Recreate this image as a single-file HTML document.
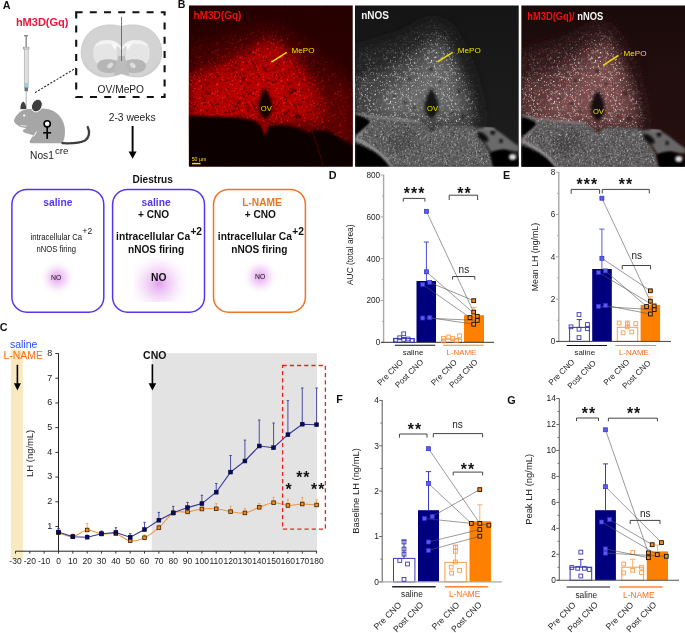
<!DOCTYPE html>
<html><head><meta charset="utf-8"><title>figure</title>
<style>
html,body{margin:0;padding:0;background:#fff;}
body{width:685px;height:633px;overflow:hidden;}
svg{display:block;font-family:"Liberation Sans", sans-serif;will-change:transform;}
</style></head><body>
<svg width="685" height="633" viewBox="0 0 685 633">
<rect x="0" y="0" width="685" height="633" fill="#fff"/>
<defs>
<radialGradient id="glow" cx="50%" cy="50%" r="50%">
  <stop offset="0" stop-color="#dc8fea" stop-opacity="0.85"/>
  <stop offset="0.5" stop-color="#ecbcf3" stop-opacity="0.55"/>
  <stop offset="1" stop-color="#f8e8fb" stop-opacity="0"/>
</radialGradient>
<radialGradient id="glow2" gradientUnits="userSpaceOnUse" cx="158.7" cy="283.5" r="33">
  <stop offset="0" stop-color="#dc8fea" stop-opacity="0.85"/>
  <stop offset="0.45" stop-color="#ecbcf3" stop-opacity="0.5"/>
  <stop offset="0.85" stop-color="#f8e8fb" stop-opacity="0.12"/>
  <stop offset="1" stop-color="#f8e8fb" stop-opacity="0.04"/>
</radialGradient>
<filter id="b3" x="-30%" y="-30%" width="160%" height="160%"><feGaussianBlur stdDeviation="3"/></filter>
<filter id="b5" x="-30%" y="-30%" width="160%" height="160%"><feGaussianBlur stdDeviation="5"/></filter>
<filter id="b8" x="-30%" y="-30%" width="160%" height="160%"><feGaussianBlur stdDeviation="8"/></filter>
<filter id="b1" x="-30%" y="-30%" width="160%" height="160%"><feGaussianBlur stdDeviation="1.2"/></filter>
<filter id="noise" x="0" y="0" width="100%" height="100%">
  <feTurbulence type="fractalNoise" baseFrequency="0.9" numOctaves="2" seed="3" result="t"/>
  <feColorMatrix type="matrix" values="0 0 0 0 1  0 0 0 0 1  0 0 0 0 1  0 0 0 1.6 -0.55" />
</filter>
<filter id="noiseD" x="0" y="0" width="100%" height="100%">
  <feTurbulence type="fractalNoise" baseFrequency="0.8" numOctaves="2" seed="7" result="t"/>
  <feColorMatrix type="matrix" values="0 0 0 0 0  0 0 0 0 0  0 0 0 0 0  0 0 0 1.8 -0.75" />
</filter>
<clipPath id="c1"><rect x="188.8" y="5.3" width="163.9" height="161.4"/></clipPath>
<clipPath id="c2"><rect x="355" y="5.3" width="163.7" height="161.4"/></clipPath>
<clipPath id="c3"><rect x="521.2" y="5.3" width="163.8" height="161.4"/></clipPath>
</defs>
<text x="2.70" y="8.70" font-size="10.8" font-weight="bold" fill="#111" text-anchor="start" >A</text>
<text x="15.90" y="26.30" font-size="11" font-weight="bold" fill="#f2103c" text-anchor="start" >hM3D(Gq)</text>
<rect x="24.00" y="35.00" width="4.00" height="1.40" fill="#8a8a8a" stroke="none" stroke-width="1" />
<line x1="26.20" y1="36.00" x2="26.20" y2="47.40" stroke="#8a8a8a" stroke-width="1.4" />
<rect x="23.60" y="47.20" width="5.40" height="1.90" fill="#e6e6e6" stroke="#9a9a9a" stroke-width="0.7" />
<rect x="24.30" y="49.10" width="3.90" height="38.60" fill="#e4e4e4" stroke="#a8a8a8" stroke-width="0.7" />
<line x1="26.20" y1="52.00" x2="26.20" y2="82.00" stroke="#c8c8c8" stroke-width="0.8" stroke-dasharray="0.6 1.4"/>
<rect x="24.70" y="82.80" width="3.10" height="4.60" fill="#8fd0ea" stroke="none" stroke-width="1" />
<rect x="24.50" y="87.60" width="3.50" height="3.60" fill="#6f6f6f" stroke="none" stroke-width="1" />
<line x1="26.20" y1="91.00" x2="26.20" y2="108.50" stroke="#9a9a9a" stroke-width="0.8" />
<line x1="35.00" y1="92.60" x2="76.00" y2="68.00" stroke="#222" stroke-width="1.1" stroke-dasharray="2 1.6"/>
<rect x="76.20" y="12.20" width="88.40" height="84.80" fill="none" stroke="#111" stroke-width="2.1" stroke-dasharray="7 7.2" stroke-dashoffset="0.6"/>
<g>
<path d="M121.5,26.5 C116,24.5 106,24 98,27 C88,31 82,40 81.2,50.8 C80.8,58 83,64 87,68.5 C92,73.5 98,76.5 104,77 C110,77.4 116,76 121.5,73.8 C127,76 133,77.4 139,77 C145,76.5 151,73.5 156,68.5 C160,64 162.2,58 161.8,50.8 C161,40 155,31 145,27 C137,24 127,24.5 121.5,26.5 Z" fill="#d3d3d3" stroke="#bdbdbd" stroke-width="0.6"/>
<path d="M84.5,62 C88,69 94,73.5 101,75.5" stroke="#c2c2c2" stroke-width="0.6" fill="none"/>
<path d="M158.5,62 C155,69 149,73.5 142,75.5" stroke="#c2c2c2" stroke-width="0.6" fill="none"/>
<path d="M93.2,52.5 C93.2,45 97,41 103,40 C108,39.3 113,40.5 117,43 L117.6,64.5 C113,66.5 105,67 99,65 C95.5,63 93.2,58.5 93.2,52.5 Z" fill="#e5e5e5"/>
<path d="M149.8,52.5 C149.8,45 146,41 140,40 C135,39.3 130,40.5 126,43 L125.4,64.5 C130,66.5 138,67 144,65 C147.5,63 149.8,58.5 149.8,52.5 Z" fill="#e5e5e5"/>
<path d="M95.5,44.8 C101,40.3 109,39.3 114.5,41.3 C118,42.8 120,45.2 121.5,47.4 C123,45.2 125,42.8 128.5,41.3 C134,39.3 142,40.3 147.5,44.8 L147.8,46.4 C142,43.2 134,42.6 129.6,44.6 C126,46.2 123.2,48.6 121.5,50.8 C119.8,48.6 117,46.2 113.4,44.6 C109,42.6 101,43.2 95.2,46.4 Z" fill="#f4f4f4"/>
<path d="M111.3,44 L116.8,44.6 L115.3,50 Z" fill="#fbfbfb"/>
<path d="M131.7,44 L126.2,44.6 L127.7,50 Z" fill="#fbfbfb"/>
<path d="M97,66.3 C97,62.2 101,59.6 106,59.3 C111,59 115,59.6 117.3,61 L117.8,71 C114,73 109,73.6 104,72.6 C100,71.6 97,69.2 97,66.3 Z" fill="#b6b6b6"/>
<path d="M146,66.3 C146,62.2 142,59.6 137,59.3 C132,59 128,59.6 125.7,61 L125.2,71 C129,73 134,73.6 139,72.6 C143,71.6 146,69.2 146,66.3 Z" fill="#b6b6b6"/>
<path d="M118.6,54 L124.4,54 L129.4,75.8 C126.6,75.1 124,74.3 121.5,73.8 C119,74.3 116.4,75.1 113.6,75.8 Z" fill="#bcbcbc"/>
<path d="M117.4,45.5 L121.5,50.5 L125.6,45.5 L124.6,56 L118.4,56 Z" fill="#dadada"/>
<ellipse cx="110.2" cy="65.4" rx="3.3" ry="2.2" transform="rotate(-38 110.2 65.4)" fill="#dcdcdc"/>
<ellipse cx="132.8" cy="65.4" rx="3.3" ry="2.2" transform="rotate(38 132.8 65.4)" fill="#dcdcdc"/>
</g>
<line x1="121.50" y1="16.80" x2="121.50" y2="61.00" stroke="#555" stroke-width="0.8" />
<text x="97.60" y="92.60" font-size="10.2" fill="#222" text-anchor="start" >OV/MePO</text>
<g>
<path d="M13.9,120.7 C15.2,116.5 18.5,112.5 22.5,110.6 C27,108.6 31,108.8 34,109.6 C40,107.9 46,108.2 51,110 C59,113 64,120.5 64.8,128 C65.4,135 64.2,140.5 62.3,143.3 L31,143.3 C29.4,143.3 29.2,141.2 30.4,139.8 C31.6,138.4 32.6,136.8 33.2,135.2 L26.5,133.2 C24,132.8 22.6,131.5 23,130.2 C23.4,129.4 24.6,129 26,129 L24.8,127.8 C22,127.6 19.5,126.5 17.8,125.2 C15.6,123.8 14.2,122.4 13.9,120.7 Z" fill="#a6a6a6"/>
<path d="M20.8,125.2 C22.8,125.9 24.8,126.2 26.8,125.9" stroke="#fff" stroke-width="0.8" fill="none"/>
<path d="M36.6,131.4 C35.6,133.2 34.6,134.8 33.6,136.6" stroke="#fff" stroke-width="0.9" fill="none"/>
<ellipse cx="36.9" cy="105.6" rx="5.1" ry="6.5" transform="rotate(28 36.9 105.6)" fill="#3e3e3e" stroke="#fff" stroke-width="0.9"/>
<path d="M20.4,109.2 C20.2,105.6 21.4,102.6 23.4,101.6 C25.4,103.4 26.5,106.4 26.1,109 Z" fill="#3e3e3e"/>
<ellipse cx="24.2" cy="115.5" rx="1.2" ry="1.05" fill="#fff"/>
<path d="M62.5,143.2 C70,143.5 80,143.2 85,140.6 C89,138.2 90.4,132.2 87.7,127" stroke="#3e3e3e" stroke-width="2.3" fill="none" stroke-linecap="round"/>
<circle cx="47.2" cy="123.8" r="3.1" fill="#fff" stroke="#000" stroke-width="1.6"/>
<line x1="47.2" y1="127" x2="47.2" y2="138.9" stroke="#000" stroke-width="1.7"/>
<line x1="43.1" y1="132.8" x2="51.1" y2="132.8" stroke="#000" stroke-width="1.6"/>
</g>
<text x="30.10" y="158.70" font-size="10.2" fill="#222" text-anchor="start" >Nos1</text>
<text x="54.90" y="154.30" font-size="9.8" fill="#222" text-anchor="start" >cre</text>
<text x="108.70" y="120.80" font-size="10.3" fill="#222" text-anchor="start" >2-3 weeks</text>
<line x1="132.60" y1="126.00" x2="132.60" y2="152.50" stroke="#000" stroke-width="1.9" />
<path d="M128.6,151.5 L136.6,151.5 L132.6,158.8 Z" fill="#000"/>
<text x="132.50" y="183.40" font-size="10.1" font-weight="bold" fill="#111" text-anchor="start" >Diestrus</text>
<rect x="11.90" y="189.4" width="91.9" height="122.8" rx="15" ry="15" fill="none" stroke="#5535ee" stroke-width="1.5"/>
<rect x="112.60" y="189.4" width="91.9" height="122.8" rx="15" ry="15" fill="none" stroke="#5535ee" stroke-width="1.5"/>
<rect x="213.50" y="189.4" width="91.9" height="122.8" rx="15" ry="15" fill="none" stroke="#f27321" stroke-width="1.5"/>
<ellipse cx="57.2" cy="277.8" rx="17" ry="17" fill="url(#glow)"/>
<rect x="133.7" y="257.7" width="53.6" height="44.3" fill="url(#glow2)"/>
<ellipse cx="260.2" cy="276.8" rx="17" ry="17" fill="url(#glow)"/>
<text x="57.90" y="206.20" font-size="10.3" font-weight="bold" fill="#5535ee" text-anchor="middle" >saline</text>
<text x="30.60" y="239.80" font-size="8.8" fill="#111" text-anchor="start" textLength="51.4" lengthAdjust="spacingAndGlyphs">intracellular Ca</text>
<text x="82.60" y="234.40" font-size="8.4" fill="#111" text-anchor="start" >+2</text>
<text x="56.30" y="251.60" font-size="8.6" fill="#111" text-anchor="middle" textLength="39.4" lengthAdjust="spacingAndGlyphs">nNOS firing</text>
<text x="56.10" y="280.20" font-size="6.8" fill="#111" text-anchor="middle" >NO</text>
<text x="156.10" y="206.20" font-size="10.3" font-weight="bold" fill="#5535ee" text-anchor="middle" >saline</text>
<text x="153.60" y="218.40" font-size="10.1" font-weight="bold" fill="#111" text-anchor="middle" >+ CNO</text>
<text x="116.10" y="240.00" font-size="10.26" font-weight="bold" fill="#111" text-anchor="start" >intracellular Ca</text>
<text x="190.40" y="234.60" font-size="10.2" font-weight="bold" fill="#111" text-anchor="start" >+2</text>
<text x="156.10" y="252.70" font-size="10.1" font-weight="bold" fill="#111" text-anchor="middle" >nNOS firing</text>
<text x="158.70" y="281.20" font-size="10.3" font-weight="bold" fill="#111" text-anchor="middle" >NO</text>
<text x="262.00" y="206.20" font-size="10.2" font-weight="bold" fill="#f27321" text-anchor="middle" >L-NAME</text>
<text x="260.30" y="218.40" font-size="10.1" font-weight="bold" fill="#111" text-anchor="middle" >+ CNO</text>
<text x="217.80" y="240.00" font-size="10.26" font-weight="bold" fill="#111" text-anchor="start" >intracellular Ca</text>
<text x="292.20" y="234.60" font-size="10.2" font-weight="bold" fill="#111" text-anchor="start" >+2</text>
<text x="259.30" y="252.70" font-size="10.1" font-weight="bold" fill="#111" text-anchor="middle" >nNOS firing</text>
<text x="260.10" y="278.80" font-size="6.8" fill="#111" text-anchor="middle" >NO</text>
<text x="177.70" y="8.40" font-size="10.6" font-weight="bold" fill="#111" text-anchor="start" >B</text>
<defs>
<filter id="b2" x="-40%" y="-40%" width="180%" height="180%"><feGaussianBlur stdDeviation="1.8"/></filter>
<pattern id="pdk" width="41" height="41" patternUnits="userSpaceOnUse"><circle cx="5.5" cy="34.7" r="0.88" fill="#000" fill-opacity="0.49"/><circle cx="20.3" cy="18.4" r="0.83" fill="#000" fill-opacity="0.78"/><circle cx="3.8" cy="1.2" r="0.92" fill="#000" fill-opacity="0.59"/><circle cx="31.3" cy="0.1" r="0.72" fill="#000" fill-opacity="0.75"/><circle cx="9.4" cy="38.8" r="0.95" fill="#000" fill-opacity="0.37"/><circle cx="1.0" cy="22.2" r="0.97" fill="#000" fill-opacity="0.56"/><circle cx="8.9" cy="17.3" r="0.51" fill="#000" fill-opacity="0.47"/><circle cx="18.0" cy="20.3" r="0.62" fill="#000" fill-opacity="0.48"/><circle cx="9.0" cy="18.8" r="0.64" fill="#000" fill-opacity="0.36"/><circle cx="34.3" cy="22.8" r="0.82" fill="#000" fill-opacity="0.45"/><circle cx="40.7" cy="35.3" r="0.56" fill="#000" fill-opacity="0.53"/><circle cx="29.6" cy="29.2" r="0.97" fill="#000" fill-opacity="0.58"/><circle cx="34.0" cy="27.5" r="0.65" fill="#000" fill-opacity="0.67"/><circle cx="36.2" cy="34.7" r="0.75" fill="#000" fill-opacity="0.67"/><circle cx="1.4" cy="10.0" r="0.90" fill="#000" fill-opacity="0.58"/><circle cx="7.1" cy="22.5" r="0.85" fill="#000" fill-opacity="0.72"/><circle cx="15.4" cy="18.0" r="0.75" fill="#000" fill-opacity="0.78"/><circle cx="21.4" cy="16.1" r="0.74" fill="#000" fill-opacity="0.37"/><circle cx="1.8" cy="28.8" r="0.99" fill="#000" fill-opacity="0.68"/><circle cx="16.1" cy="7.0" r="0.75" fill="#000" fill-opacity="0.89"/><circle cx="31.6" cy="22.1" r="0.93" fill="#000" fill-opacity="0.48"/><circle cx="21.1" cy="39.1" r="0.79" fill="#000" fill-opacity="0.60"/><circle cx="11.0" cy="22.5" r="0.98" fill="#000" fill-opacity="0.35"/><circle cx="32.1" cy="33.6" r="0.94" fill="#000" fill-opacity="0.76"/><circle cx="33.2" cy="21.3" r="0.78" fill="#000" fill-opacity="0.58"/><circle cx="2.3" cy="35.7" r="0.78" fill="#000" fill-opacity="0.46"/><circle cx="20.7" cy="19.9" r="0.68" fill="#000" fill-opacity="0.54"/><circle cx="22.1" cy="25.6" r="0.81" fill="#000" fill-opacity="0.60"/><circle cx="1.1" cy="9.4" r="0.59" fill="#000" fill-opacity="0.67"/><circle cx="35.3" cy="32.7" r="0.90" fill="#000" fill-opacity="0.80"/><circle cx="10.5" cy="34.5" r="0.84" fill="#000" fill-opacity="0.40"/><circle cx="0.7" cy="0.6" r="0.88" fill="#000" fill-opacity="0.49"/><circle cx="4.5" cy="25.6" r="0.67" fill="#000" fill-opacity="0.39"/><circle cx="6.5" cy="21.6" r="0.58" fill="#000" fill-opacity="0.50"/><circle cx="29.2" cy="18.6" r="0.66" fill="#000" fill-opacity="0.61"/><circle cx="1.0" cy="15.8" r="0.71" fill="#000" fill-opacity="0.45"/><circle cx="4.5" cy="36.9" r="0.76" fill="#000" fill-opacity="0.47"/><circle cx="24.8" cy="33.5" r="0.51" fill="#000" fill-opacity="0.36"/><circle cx="6.0" cy="29.5" r="0.58" fill="#000" fill-opacity="0.74"/><circle cx="27.8" cy="22.3" r="0.61" fill="#000" fill-opacity="0.89"/><circle cx="32.7" cy="21.2" r="0.61" fill="#000" fill-opacity="0.71"/><circle cx="16.2" cy="23.6" r="0.66" fill="#000" fill-opacity="0.70"/><circle cx="2.4" cy="12.2" r="0.98" fill="#000" fill-opacity="0.83"/><circle cx="12.6" cy="35.2" r="0.66" fill="#000" fill-opacity="0.87"/><circle cx="30.5" cy="17.1" r="0.63" fill="#000" fill-opacity="0.35"/><circle cx="36.0" cy="1.6" r="0.91" fill="#000" fill-opacity="0.88"/><circle cx="23.4" cy="7.0" r="0.93" fill="#000" fill-opacity="0.89"/><circle cx="28.9" cy="20.9" r="0.69" fill="#000" fill-opacity="0.54"/><circle cx="8.4" cy="27.6" r="0.72" fill="#000" fill-opacity="0.46"/><circle cx="4.3" cy="27.3" r="0.65" fill="#000" fill-opacity="0.62"/><circle cx="13.3" cy="35.7" r="0.95" fill="#000" fill-opacity="0.36"/><circle cx="8.2" cy="13.4" r="0.99" fill="#000" fill-opacity="0.78"/><circle cx="13.9" cy="8.7" r="0.84" fill="#000" fill-opacity="0.81"/><circle cx="38.2" cy="14.1" r="0.94" fill="#000" fill-opacity="0.73"/><circle cx="19.9" cy="40.4" r="0.62" fill="#000" fill-opacity="0.75"/><circle cx="3.5" cy="7.0" r="0.96" fill="#000" fill-opacity="0.47"/><circle cx="31.1" cy="24.6" r="0.92" fill="#000" fill-opacity="0.55"/><circle cx="14.0" cy="11.9" r="0.93" fill="#000" fill-opacity="0.68"/><circle cx="39.1" cy="36.4" r="0.57" fill="#000" fill-opacity="0.65"/><circle cx="4.3" cy="1.6" r="0.54" fill="#000" fill-opacity="0.83"/><circle cx="32.3" cy="34.0" r="0.67" fill="#000" fill-opacity="0.69"/><circle cx="32.1" cy="15.5" r="0.79" fill="#000" fill-opacity="0.47"/><circle cx="3.4" cy="10.9" r="0.95" fill="#000" fill-opacity="0.66"/><circle cx="37.9" cy="18.8" r="0.64" fill="#000" fill-opacity="0.78"/><circle cx="33.9" cy="0.5" r="0.84" fill="#000" fill-opacity="0.40"/><circle cx="4.7" cy="36.3" r="0.52" fill="#000" fill-opacity="0.48"/><circle cx="40.5" cy="17.3" r="0.56" fill="#000" fill-opacity="0.44"/><circle cx="9.9" cy="30.5" r="0.55" fill="#000" fill-opacity="0.85"/><circle cx="15.5" cy="39.8" r="0.95" fill="#000" fill-opacity="0.51"/><circle cx="10.4" cy="19.6" r="0.55" fill="#000" fill-opacity="0.71"/><circle cx="1.6" cy="0.4" r="0.99" fill="#000" fill-opacity="0.51"/><circle cx="24.5" cy="18.4" r="0.66" fill="#000" fill-opacity="0.38"/><circle cx="37.4" cy="39.8" r="0.98" fill="#000" fill-opacity="0.41"/><circle cx="8.8" cy="25.3" r="0.99" fill="#000" fill-opacity="0.65"/><circle cx="28.2" cy="27.1" r="0.63" fill="#000" fill-opacity="0.65"/><circle cx="12.6" cy="10.1" r="0.54" fill="#000" fill-opacity="0.50"/><circle cx="40.3" cy="18.4" r="0.83" fill="#000" fill-opacity="0.70"/><circle cx="38.6" cy="16.0" r="0.65" fill="#000" fill-opacity="0.53"/><circle cx="13.0" cy="34.7" r="0.95" fill="#000" fill-opacity="0.52"/><circle cx="13.7" cy="22.3" r="0.79" fill="#000" fill-opacity="0.68"/><circle cx="10.0" cy="0.8" r="0.62" fill="#000" fill-opacity="0.39"/><circle cx="22.6" cy="2.9" r="0.54" fill="#000" fill-opacity="0.70"/><circle cx="11.9" cy="32.5" r="0.75" fill="#000" fill-opacity="0.82"/><circle cx="6.3" cy="20.6" r="0.90" fill="#000" fill-opacity="0.39"/><circle cx="38.9" cy="7.1" r="0.89" fill="#000" fill-opacity="0.89"/><circle cx="33.7" cy="13.1" r="0.55" fill="#000" fill-opacity="0.63"/><circle cx="37.7" cy="12.0" r="0.95" fill="#000" fill-opacity="0.43"/><circle cx="37.3" cy="1.3" r="0.66" fill="#000" fill-opacity="0.85"/><circle cx="33.0" cy="37.2" r="0.92" fill="#000" fill-opacity="0.76"/><circle cx="28.3" cy="7.3" r="0.72" fill="#000" fill-opacity="0.44"/><circle cx="29.3" cy="27.4" r="0.63" fill="#000" fill-opacity="0.39"/><circle cx="39.5" cy="33.1" r="0.77" fill="#000" fill-opacity="0.65"/><circle cx="34.9" cy="18.6" r="0.70" fill="#000" fill-opacity="0.54"/><circle cx="10.6" cy="1.0" r="0.82" fill="#000" fill-opacity="0.58"/><circle cx="23.4" cy="2.6" r="0.68" fill="#000" fill-opacity="0.43"/><circle cx="5.1" cy="10.6" r="0.91" fill="#000" fill-opacity="0.57"/><circle cx="16.4" cy="25.1" r="0.62" fill="#000" fill-opacity="0.35"/><circle cx="21.7" cy="20.5" r="0.82" fill="#000" fill-opacity="0.59"/><circle cx="28.1" cy="30.0" r="0.62" fill="#000" fill-opacity="0.62"/><circle cx="19.6" cy="9.2" r="0.71" fill="#000" fill-opacity="0.66"/><circle cx="37.2" cy="37.6" r="0.64" fill="#000" fill-opacity="0.71"/><circle cx="2.0" cy="2.9" r="0.76" fill="#000" fill-opacity="0.83"/><circle cx="6.5" cy="31.4" r="0.94" fill="#000" fill-opacity="0.52"/><circle cx="28.4" cy="34.8" r="0.69" fill="#000" fill-opacity="0.74"/><circle cx="30.2" cy="24.4" r="0.93" fill="#000" fill-opacity="0.84"/><circle cx="39.4" cy="23.4" r="0.59" fill="#000" fill-opacity="0.49"/><circle cx="8.9" cy="23.4" r="0.88" fill="#000" fill-opacity="0.38"/><circle cx="27.9" cy="29.4" r="0.67" fill="#000" fill-opacity="0.63"/><circle cx="6.8" cy="29.9" r="0.52" fill="#000" fill-opacity="0.89"/><circle cx="33.1" cy="25.8" r="0.63" fill="#000" fill-opacity="0.85"/><circle cx="39.3" cy="5.7" r="0.89" fill="#000" fill-opacity="0.81"/><circle cx="27.0" cy="28.7" r="0.72" fill="#000" fill-opacity="0.86"/><circle cx="39.8" cy="15.7" r="0.90" fill="#000" fill-opacity="0.59"/><circle cx="6.8" cy="13.3" r="0.56" fill="#000" fill-opacity="0.85"/><circle cx="39.3" cy="4.9" r="0.80" fill="#000" fill-opacity="0.57"/><circle cx="4.8" cy="12.1" r="0.62" fill="#000" fill-opacity="0.76"/><circle cx="0.2" cy="7.8" r="0.72" fill="#000" fill-opacity="0.36"/><circle cx="25.7" cy="24.8" r="0.92" fill="#000" fill-opacity="0.46"/><circle cx="11.7" cy="22.2" r="0.64" fill="#000" fill-opacity="0.67"/><circle cx="10.3" cy="28.0" r="0.90" fill="#000" fill-opacity="0.79"/><circle cx="39.9" cy="22.4" r="0.75" fill="#000" fill-opacity="0.82"/><circle cx="31.5" cy="23.4" r="0.69" fill="#000" fill-opacity="0.51"/><circle cx="4.4" cy="33.1" r="0.56" fill="#000" fill-opacity="0.76"/><circle cx="22.4" cy="39.6" r="0.88" fill="#000" fill-opacity="0.89"/><circle cx="5.6" cy="20.5" r="0.79" fill="#000" fill-opacity="0.52"/><circle cx="20.6" cy="14.6" r="0.76" fill="#000" fill-opacity="0.35"/><circle cx="18.1" cy="18.4" r="0.65" fill="#000" fill-opacity="0.57"/><circle cx="32.1" cy="28.0" r="0.75" fill="#000" fill-opacity="0.71"/><circle cx="15.5" cy="8.4" r="0.50" fill="#000" fill-opacity="0.50"/><circle cx="24.5" cy="36.1" r="0.91" fill="#000" fill-opacity="0.63"/><circle cx="40.5" cy="18.9" r="0.92" fill="#000" fill-opacity="0.57"/><circle cx="30.5" cy="40.5" r="0.65" fill="#000" fill-opacity="0.44"/><circle cx="25.4" cy="21.8" r="0.68" fill="#000" fill-opacity="0.35"/><circle cx="16.0" cy="17.5" r="0.70" fill="#000" fill-opacity="0.82"/><circle cx="24.0" cy="30.1" r="0.95" fill="#000" fill-opacity="0.76"/><circle cx="20.2" cy="30.6" r="0.82" fill="#000" fill-opacity="0.71"/><circle cx="25.8" cy="16.7" r="0.81" fill="#000" fill-opacity="0.70"/><circle cx="38.4" cy="32.1" r="0.92" fill="#000" fill-opacity="0.77"/><circle cx="33.4" cy="24.8" r="0.67" fill="#000" fill-opacity="0.50"/><circle cx="29.0" cy="35.8" r="0.77" fill="#000" fill-opacity="0.43"/><circle cx="34.2" cy="19.9" r="0.73" fill="#000" fill-opacity="0.37"/><circle cx="20.9" cy="30.5" r="0.71" fill="#000" fill-opacity="0.55"/><circle cx="26.9" cy="0.8" r="0.75" fill="#000" fill-opacity="0.87"/><circle cx="28.3" cy="16.5" r="0.84" fill="#000" fill-opacity="0.68"/><circle cx="8.6" cy="8.5" r="0.94" fill="#000" fill-opacity="0.50"/><circle cx="3.1" cy="34.1" r="0.76" fill="#000" fill-opacity="0.55"/><circle cx="21.0" cy="30.2" r="0.58" fill="#000" fill-opacity="0.71"/><circle cx="29.3" cy="33.4" r="0.63" fill="#000" fill-opacity="0.69"/><circle cx="9.5" cy="23.0" r="0.59" fill="#000" fill-opacity="0.78"/><circle cx="35.5" cy="13.5" r="0.61" fill="#000" fill-opacity="0.88"/></pattern>
<pattern id="pwh" width="41" height="41" patternUnits="userSpaceOnUse"><circle cx="39.2" cy="38.9" r="0.32" fill="#fff" fill-opacity="0.22"/><circle cx="34.3" cy="30.2" r="0.53" fill="#fff" fill-opacity="0.40"/><circle cx="24.8" cy="24.9" r="0.50" fill="#fff" fill-opacity="0.28"/><circle cx="17.7" cy="16.1" r="0.55" fill="#fff" fill-opacity="0.95"/><circle cx="38.9" cy="22.3" r="0.46" fill="#fff" fill-opacity="0.36"/><circle cx="1.5" cy="1.1" r="0.46" fill="#fff" fill-opacity="0.40"/><circle cx="15.6" cy="36.6" r="0.48" fill="#fff" fill-opacity="0.60"/><circle cx="9.7" cy="1.0" r="0.41" fill="#fff" fill-opacity="0.26"/><circle cx="20.9" cy="40.9" r="0.54" fill="#fff" fill-opacity="0.30"/><circle cx="36.6" cy="32.7" r="0.56" fill="#fff" fill-opacity="0.88"/><circle cx="31.3" cy="32.4" r="0.42" fill="#fff" fill-opacity="0.93"/><circle cx="39.4" cy="6.6" r="0.56" fill="#fff" fill-opacity="0.72"/><circle cx="18.9" cy="21.7" r="0.47" fill="#fff" fill-opacity="0.89"/><circle cx="20.5" cy="34.1" r="0.42" fill="#fff" fill-opacity="0.86"/><circle cx="36.9" cy="18.9" r="0.50" fill="#fff" fill-opacity="0.89"/><circle cx="29.7" cy="20.0" r="0.38" fill="#fff" fill-opacity="0.41"/><circle cx="28.7" cy="6.8" r="0.62" fill="#fff" fill-opacity="0.36"/><circle cx="37.4" cy="12.7" r="0.64" fill="#fff" fill-opacity="0.71"/><circle cx="20.7" cy="21.2" r="0.53" fill="#fff" fill-opacity="0.62"/><circle cx="12.8" cy="8.5" r="0.48" fill="#fff" fill-opacity="0.90"/><circle cx="25.6" cy="3.1" r="0.59" fill="#fff" fill-opacity="0.73"/><circle cx="37.2" cy="7.8" r="0.56" fill="#fff" fill-opacity="0.20"/><circle cx="26.8" cy="11.2" r="0.38" fill="#fff" fill-opacity="0.85"/><circle cx="4.4" cy="21.4" r="0.60" fill="#fff" fill-opacity="0.35"/><circle cx="8.6" cy="36.1" r="0.45" fill="#fff" fill-opacity="0.72"/><circle cx="1.3" cy="14.9" r="0.36" fill="#fff" fill-opacity="0.69"/><circle cx="3.4" cy="39.1" r="0.31" fill="#fff" fill-opacity="0.73"/><circle cx="0.9" cy="10.5" r="0.58" fill="#fff" fill-opacity="0.28"/><circle cx="7.5" cy="28.4" r="0.43" fill="#fff" fill-opacity="0.18"/><circle cx="40.6" cy="6.2" r="0.31" fill="#fff" fill-opacity="0.43"/><circle cx="25.2" cy="30.4" r="0.34" fill="#fff" fill-opacity="0.42"/><circle cx="1.3" cy="18.4" r="0.57" fill="#fff" fill-opacity="0.74"/><circle cx="37.0" cy="31.0" r="0.60" fill="#fff" fill-opacity="0.71"/><circle cx="19.4" cy="9.2" r="0.53" fill="#fff" fill-opacity="0.40"/><circle cx="4.2" cy="18.4" r="0.61" fill="#fff" fill-opacity="0.25"/><circle cx="24.0" cy="16.1" r="0.48" fill="#fff" fill-opacity="0.27"/><circle cx="39.3" cy="10.6" r="0.51" fill="#fff" fill-opacity="0.49"/><circle cx="0.7" cy="22.9" r="0.35" fill="#fff" fill-opacity="0.20"/><circle cx="1.4" cy="6.6" r="0.33" fill="#fff" fill-opacity="0.66"/><circle cx="20.8" cy="40.3" r="0.63" fill="#fff" fill-opacity="0.95"/><circle cx="9.5" cy="18.2" r="0.39" fill="#fff" fill-opacity="0.62"/><circle cx="25.6" cy="32.8" r="0.55" fill="#fff" fill-opacity="0.36"/><circle cx="17.3" cy="21.6" r="0.30" fill="#fff" fill-opacity="0.18"/><circle cx="16.8" cy="4.6" r="0.55" fill="#fff" fill-opacity="0.34"/><circle cx="4.1" cy="7.5" r="0.38" fill="#fff" fill-opacity="0.32"/><circle cx="21.4" cy="19.0" r="0.41" fill="#fff" fill-opacity="0.66"/><circle cx="8.7" cy="37.2" r="0.64" fill="#fff" fill-opacity="0.73"/><circle cx="17.8" cy="21.0" r="0.50" fill="#fff" fill-opacity="0.19"/><circle cx="17.1" cy="21.5" r="0.36" fill="#fff" fill-opacity="0.23"/><circle cx="32.9" cy="15.0" r="0.48" fill="#fff" fill-opacity="0.89"/><circle cx="25.0" cy="11.9" r="0.64" fill="#fff" fill-opacity="0.45"/><circle cx="0.8" cy="28.1" r="0.34" fill="#fff" fill-opacity="0.39"/><circle cx="34.5" cy="27.6" r="0.31" fill="#fff" fill-opacity="0.51"/><circle cx="16.8" cy="19.9" r="0.37" fill="#fff" fill-opacity="0.62"/><circle cx="3.0" cy="11.7" r="0.43" fill="#fff" fill-opacity="0.90"/><circle cx="3.1" cy="31.0" r="0.37" fill="#fff" fill-opacity="0.61"/><circle cx="16.1" cy="19.0" r="0.56" fill="#fff" fill-opacity="0.47"/><circle cx="5.0" cy="5.0" r="0.33" fill="#fff" fill-opacity="0.83"/><circle cx="26.3" cy="39.3" r="0.54" fill="#fff" fill-opacity="0.17"/><circle cx="27.0" cy="31.9" r="0.55" fill="#fff" fill-opacity="0.55"/><circle cx="14.7" cy="18.7" r="0.58" fill="#fff" fill-opacity="0.37"/><circle cx="21.6" cy="19.6" r="0.63" fill="#fff" fill-opacity="0.79"/><circle cx="38.2" cy="34.3" r="0.40" fill="#fff" fill-opacity="0.34"/><circle cx="20.0" cy="10.6" r="0.45" fill="#fff" fill-opacity="0.69"/><circle cx="37.7" cy="24.0" r="0.59" fill="#fff" fill-opacity="0.23"/><circle cx="14.6" cy="40.9" r="0.35" fill="#fff" fill-opacity="0.48"/><circle cx="2.7" cy="3.5" r="0.61" fill="#fff" fill-opacity="0.94"/><circle cx="26.6" cy="5.3" r="0.40" fill="#fff" fill-opacity="0.34"/><circle cx="27.5" cy="27.9" r="0.45" fill="#fff" fill-opacity="0.57"/><circle cx="4.6" cy="22.2" r="0.63" fill="#fff" fill-opacity="0.75"/><circle cx="3.9" cy="21.2" r="0.55" fill="#fff" fill-opacity="0.36"/><circle cx="36.7" cy="18.9" r="0.55" fill="#fff" fill-opacity="0.47"/><circle cx="40.8" cy="32.1" r="0.50" fill="#fff" fill-opacity="0.27"/><circle cx="18.1" cy="1.2" r="0.51" fill="#fff" fill-opacity="0.86"/><circle cx="7.4" cy="20.9" r="0.47" fill="#fff" fill-opacity="0.47"/><circle cx="29.1" cy="38.4" r="0.55" fill="#fff" fill-opacity="0.53"/><circle cx="39.4" cy="13.6" r="0.56" fill="#fff" fill-opacity="0.68"/><circle cx="31.2" cy="34.9" r="0.38" fill="#fff" fill-opacity="0.65"/><circle cx="16.5" cy="27.3" r="0.64" fill="#fff" fill-opacity="0.66"/><circle cx="0.5" cy="19.0" r="0.55" fill="#fff" fill-opacity="0.86"/><circle cx="26.7" cy="33.5" r="0.31" fill="#fff" fill-opacity="0.90"/><circle cx="29.9" cy="24.9" r="0.62" fill="#fff" fill-opacity="0.86"/><circle cx="4.1" cy="33.4" r="0.57" fill="#fff" fill-opacity="0.31"/><circle cx="30.5" cy="24.0" r="0.37" fill="#fff" fill-opacity="0.79"/><circle cx="5.7" cy="25.1" r="0.45" fill="#fff" fill-opacity="0.35"/><circle cx="23.2" cy="19.2" r="0.37" fill="#fff" fill-opacity="0.92"/><circle cx="3.0" cy="0.1" r="0.47" fill="#fff" fill-opacity="0.82"/><circle cx="27.0" cy="30.9" r="0.47" fill="#fff" fill-opacity="0.69"/><circle cx="13.7" cy="10.9" r="0.48" fill="#fff" fill-opacity="0.17"/><circle cx="3.3" cy="30.9" r="0.36" fill="#fff" fill-opacity="0.75"/><circle cx="32.2" cy="16.6" r="0.54" fill="#fff" fill-opacity="0.78"/><circle cx="35.4" cy="5.5" r="0.36" fill="#fff" fill-opacity="0.46"/><circle cx="19.1" cy="12.1" r="0.30" fill="#fff" fill-opacity="0.60"/><circle cx="39.6" cy="15.0" r="0.49" fill="#fff" fill-opacity="0.46"/><circle cx="18.2" cy="35.7" r="0.41" fill="#fff" fill-opacity="0.67"/><circle cx="19.8" cy="22.1" r="0.62" fill="#fff" fill-opacity="0.21"/><circle cx="33.8" cy="12.5" r="0.53" fill="#fff" fill-opacity="0.79"/><circle cx="26.8" cy="16.1" r="0.59" fill="#fff" fill-opacity="0.22"/><circle cx="26.0" cy="16.0" r="0.49" fill="#fff" fill-opacity="0.83"/><circle cx="32.7" cy="25.8" r="0.41" fill="#fff" fill-opacity="0.34"/><circle cx="18.8" cy="9.5" r="0.40" fill="#fff" fill-opacity="0.92"/><circle cx="4.6" cy="33.6" r="0.43" fill="#fff" fill-opacity="0.44"/><circle cx="13.1" cy="3.2" r="0.46" fill="#fff" fill-opacity="0.28"/><circle cx="18.1" cy="12.0" r="0.61" fill="#fff" fill-opacity="0.89"/><circle cx="18.1" cy="26.2" r="0.63" fill="#fff" fill-opacity="0.41"/><circle cx="4.1" cy="9.8" r="0.37" fill="#fff" fill-opacity="0.69"/><circle cx="15.3" cy="14.6" r="0.58" fill="#fff" fill-opacity="0.34"/><circle cx="33.1" cy="25.9" r="0.44" fill="#fff" fill-opacity="0.81"/><circle cx="14.0" cy="36.0" r="0.62" fill="#fff" fill-opacity="0.55"/><circle cx="28.3" cy="38.9" r="0.56" fill="#fff" fill-opacity="0.75"/><circle cx="35.6" cy="38.4" r="0.56" fill="#fff" fill-opacity="0.93"/><circle cx="12.0" cy="25.5" r="0.53" fill="#fff" fill-opacity="0.44"/><circle cx="16.2" cy="7.2" r="0.64" fill="#fff" fill-opacity="0.43"/><circle cx="19.5" cy="36.6" r="0.37" fill="#fff" fill-opacity="0.92"/><circle cx="5.2" cy="1.1" r="0.42" fill="#fff" fill-opacity="0.44"/><circle cx="37.6" cy="36.2" r="0.57" fill="#fff" fill-opacity="0.50"/><circle cx="22.3" cy="9.7" r="0.59" fill="#fff" fill-opacity="0.46"/><circle cx="11.7" cy="26.2" r="0.35" fill="#fff" fill-opacity="0.40"/><circle cx="38.0" cy="3.9" r="0.35" fill="#fff" fill-opacity="0.31"/><circle cx="10.3" cy="17.2" r="0.39" fill="#fff" fill-opacity="0.42"/><circle cx="10.1" cy="9.8" r="0.51" fill="#fff" fill-opacity="0.42"/><circle cx="15.3" cy="31.5" r="0.32" fill="#fff" fill-opacity="0.27"/><circle cx="34.9" cy="17.6" r="0.57" fill="#fff" fill-opacity="0.26"/><circle cx="21.4" cy="34.7" r="0.42" fill="#fff" fill-opacity="0.76"/><circle cx="25.0" cy="16.2" r="0.65" fill="#fff" fill-opacity="0.46"/><circle cx="19.4" cy="25.4" r="0.41" fill="#fff" fill-opacity="0.82"/><circle cx="24.5" cy="24.1" r="0.49" fill="#fff" fill-opacity="0.94"/><circle cx="40.5" cy="34.5" r="0.46" fill="#fff" fill-opacity="0.48"/><circle cx="21.5" cy="1.9" r="0.34" fill="#fff" fill-opacity="0.95"/><circle cx="5.3" cy="38.4" r="0.54" fill="#fff" fill-opacity="0.88"/><circle cx="3.2" cy="12.5" r="0.58" fill="#fff" fill-opacity="0.16"/><circle cx="4.3" cy="14.4" r="0.36" fill="#fff" fill-opacity="0.27"/><circle cx="27.5" cy="3.8" r="0.64" fill="#fff" fill-opacity="0.67"/><circle cx="2.0" cy="36.8" r="0.38" fill="#fff" fill-opacity="0.54"/><circle cx="22.9" cy="5.7" r="0.48" fill="#fff" fill-opacity="0.20"/><circle cx="8.2" cy="37.7" r="0.59" fill="#fff" fill-opacity="0.57"/><circle cx="28.0" cy="35.9" r="0.35" fill="#fff" fill-opacity="0.54"/><circle cx="5.4" cy="4.8" r="0.34" fill="#fff" fill-opacity="0.32"/><circle cx="2.2" cy="8.8" r="0.43" fill="#fff" fill-opacity="0.65"/><circle cx="35.2" cy="37.1" r="0.55" fill="#fff" fill-opacity="0.56"/><circle cx="37.6" cy="6.7" r="0.34" fill="#fff" fill-opacity="0.80"/><circle cx="25.7" cy="8.6" r="0.43" fill="#fff" fill-opacity="0.39"/><circle cx="17.7" cy="17.5" r="0.44" fill="#fff" fill-opacity="0.79"/><circle cx="33.3" cy="23.1" r="0.47" fill="#fff" fill-opacity="0.38"/><circle cx="31.4" cy="40.5" r="0.38" fill="#fff" fill-opacity="0.71"/><circle cx="28.7" cy="27.0" r="0.31" fill="#fff" fill-opacity="0.59"/><circle cx="8.3" cy="8.0" r="0.50" fill="#fff" fill-opacity="0.67"/><circle cx="25.6" cy="30.4" r="0.55" fill="#fff" fill-opacity="0.53"/><circle cx="2.0" cy="31.7" r="0.59" fill="#fff" fill-opacity="0.82"/><circle cx="24.5" cy="1.6" r="0.37" fill="#fff" fill-opacity="0.24"/><circle cx="26.1" cy="22.3" r="0.37" fill="#fff" fill-opacity="0.91"/><circle cx="40.1" cy="36.9" r="0.46" fill="#fff" fill-opacity="0.38"/><circle cx="8.6" cy="33.8" r="0.55" fill="#fff" fill-opacity="0.37"/><circle cx="37.0" cy="23.3" r="0.44" fill="#fff" fill-opacity="0.48"/><circle cx="29.5" cy="18.7" r="0.53" fill="#fff" fill-opacity="0.25"/><circle cx="28.8" cy="11.2" r="0.62" fill="#fff" fill-opacity="0.32"/><circle cx="13.7" cy="22.1" r="0.44" fill="#fff" fill-opacity="0.57"/><circle cx="37.9" cy="8.2" r="0.57" fill="#fff" fill-opacity="0.70"/><circle cx="32.2" cy="18.4" r="0.46" fill="#fff" fill-opacity="0.43"/><circle cx="19.4" cy="10.4" r="0.37" fill="#fff" fill-opacity="0.53"/><circle cx="7.9" cy="19.2" r="0.50" fill="#fff" fill-opacity="0.40"/><circle cx="7.0" cy="24.8" r="0.60" fill="#fff" fill-opacity="0.33"/><circle cx="25.2" cy="27.0" r="0.61" fill="#fff" fill-opacity="0.70"/><circle cx="12.6" cy="8.5" r="0.59" fill="#fff" fill-opacity="0.39"/><circle cx="0.5" cy="35.7" r="0.37" fill="#fff" fill-opacity="0.40"/><circle cx="13.1" cy="10.5" r="0.55" fill="#fff" fill-opacity="0.42"/><circle cx="18.1" cy="17.2" r="0.59" fill="#fff" fill-opacity="0.16"/><circle cx="23.8" cy="5.4" r="0.35" fill="#fff" fill-opacity="0.64"/><circle cx="15.4" cy="2.7" r="0.51" fill="#fff" fill-opacity="0.88"/><circle cx="26.4" cy="20.3" r="0.58" fill="#fff" fill-opacity="0.88"/><circle cx="6.2" cy="12.3" r="0.64" fill="#fff" fill-opacity="0.89"/><circle cx="8.3" cy="28.8" r="0.61" fill="#fff" fill-opacity="0.62"/><circle cx="28.8" cy="21.5" r="0.38" fill="#fff" fill-opacity="0.32"/><circle cx="2.5" cy="27.3" r="0.35" fill="#fff" fill-opacity="0.65"/><circle cx="16.0" cy="17.9" r="0.64" fill="#fff" fill-opacity="0.46"/><circle cx="19.5" cy="15.6" r="0.38" fill="#fff" fill-opacity="0.33"/><circle cx="21.8" cy="33.5" r="0.33" fill="#fff" fill-opacity="0.91"/><circle cx="27.7" cy="2.2" r="0.55" fill="#fff" fill-opacity="0.47"/><circle cx="21.1" cy="4.1" r="0.48" fill="#fff" fill-opacity="0.57"/><circle cx="32.1" cy="23.8" r="0.55" fill="#fff" fill-opacity="0.74"/><circle cx="9.1" cy="1.0" r="0.47" fill="#fff" fill-opacity="0.25"/><circle cx="5.8" cy="13.2" r="0.49" fill="#fff" fill-opacity="0.64"/><circle cx="26.5" cy="38.6" r="0.34" fill="#fff" fill-opacity="0.60"/><circle cx="3.6" cy="27.5" r="0.45" fill="#fff" fill-opacity="0.26"/><circle cx="12.7" cy="27.1" r="0.47" fill="#fff" fill-opacity="0.91"/><circle cx="14.6" cy="13.9" r="0.62" fill="#fff" fill-opacity="0.63"/><circle cx="4.4" cy="32.2" r="0.43" fill="#fff" fill-opacity="0.91"/><circle cx="26.1" cy="33.0" r="0.61" fill="#fff" fill-opacity="0.56"/><circle cx="39.7" cy="1.0" r="0.42" fill="#fff" fill-opacity="0.82"/><circle cx="0.3" cy="27.6" r="0.65" fill="#fff" fill-opacity="0.72"/><circle cx="35.3" cy="3.1" r="0.49" fill="#fff" fill-opacity="0.64"/><circle cx="17.9" cy="17.2" r="0.58" fill="#fff" fill-opacity="0.28"/><circle cx="1.8" cy="24.3" r="0.64" fill="#fff" fill-opacity="0.81"/><circle cx="27.6" cy="12.1" r="0.62" fill="#fff" fill-opacity="0.18"/><circle cx="10.1" cy="32.3" r="0.61" fill="#fff" fill-opacity="0.47"/><circle cx="37.3" cy="4.5" r="0.51" fill="#fff" fill-opacity="0.20"/><circle cx="9.6" cy="7.8" r="0.30" fill="#fff" fill-opacity="0.47"/><circle cx="20.5" cy="11.5" r="0.53" fill="#fff" fill-opacity="0.19"/><circle cx="21.2" cy="21.6" r="0.44" fill="#fff" fill-opacity="0.88"/><circle cx="5.2" cy="17.5" r="0.46" fill="#fff" fill-opacity="0.45"/><circle cx="39.9" cy="23.4" r="0.48" fill="#fff" fill-opacity="0.50"/><circle cx="17.9" cy="39.0" r="0.58" fill="#fff" fill-opacity="0.67"/><circle cx="6.7" cy="24.4" r="0.34" fill="#fff" fill-opacity="0.43"/><circle cx="0.9" cy="28.9" r="0.64" fill="#fff" fill-opacity="0.66"/><circle cx="23.4" cy="10.3" r="0.45" fill="#fff" fill-opacity="0.52"/><circle cx="17.3" cy="11.0" r="0.38" fill="#fff" fill-opacity="0.75"/><circle cx="39.1" cy="33.7" r="0.52" fill="#fff" fill-opacity="0.17"/><circle cx="12.4" cy="34.4" r="0.64" fill="#fff" fill-opacity="0.59"/><circle cx="23.3" cy="28.1" r="0.39" fill="#fff" fill-opacity="0.72"/><circle cx="15.0" cy="34.7" r="0.46" fill="#fff" fill-opacity="0.68"/><circle cx="22.8" cy="21.9" r="0.46" fill="#fff" fill-opacity="0.91"/><circle cx="30.9" cy="17.2" r="0.48" fill="#fff" fill-opacity="0.87"/><circle cx="30.6" cy="26.8" r="0.64" fill="#fff" fill-opacity="0.24"/><circle cx="24.5" cy="25.6" r="0.46" fill="#fff" fill-opacity="0.92"/><circle cx="39.7" cy="16.0" r="0.52" fill="#fff" fill-opacity="0.76"/><circle cx="28.5" cy="14.9" r="0.58" fill="#fff" fill-opacity="0.43"/><circle cx="6.0" cy="27.2" r="0.53" fill="#fff" fill-opacity="0.48"/><circle cx="20.5" cy="40.5" r="0.58" fill="#fff" fill-opacity="0.48"/><circle cx="37.4" cy="23.4" r="0.44" fill="#fff" fill-opacity="0.67"/><circle cx="32.1" cy="36.7" r="0.53" fill="#fff" fill-opacity="0.68"/><circle cx="16.4" cy="1.7" r="0.46" fill="#fff" fill-opacity="0.24"/><circle cx="38.6" cy="14.9" r="0.51" fill="#fff" fill-opacity="0.74"/><circle cx="7.3" cy="34.2" r="0.41" fill="#fff" fill-opacity="0.21"/><circle cx="24.6" cy="16.5" r="0.62" fill="#fff" fill-opacity="0.51"/><circle cx="3.9" cy="0.8" r="0.31" fill="#fff" fill-opacity="0.54"/><circle cx="29.3" cy="2.1" r="0.42" fill="#fff" fill-opacity="0.53"/><circle cx="36.8" cy="39.8" r="0.61" fill="#fff" fill-opacity="0.66"/><circle cx="23.6" cy="9.1" r="0.51" fill="#fff" fill-opacity="0.28"/><circle cx="12.4" cy="34.0" r="0.50" fill="#fff" fill-opacity="0.73"/><circle cx="19.1" cy="11.5" r="0.48" fill="#fff" fill-opacity="0.61"/><circle cx="9.9" cy="34.7" r="0.64" fill="#fff" fill-opacity="0.29"/><circle cx="9.9" cy="33.3" r="0.55" fill="#fff" fill-opacity="0.33"/><circle cx="24.0" cy="9.8" r="0.60" fill="#fff" fill-opacity="0.62"/><circle cx="20.9" cy="6.6" r="0.44" fill="#fff" fill-opacity="0.53"/><circle cx="14.8" cy="7.4" r="0.37" fill="#fff" fill-opacity="0.71"/><circle cx="37.9" cy="34.6" r="0.52" fill="#fff" fill-opacity="0.78"/><circle cx="5.5" cy="8.6" r="0.55" fill="#fff" fill-opacity="0.15"/><circle cx="3.4" cy="31.9" r="0.37" fill="#fff" fill-opacity="0.30"/><circle cx="16.2" cy="34.3" r="0.30" fill="#fff" fill-opacity="0.85"/><circle cx="12.5" cy="23.4" r="0.47" fill="#fff" fill-opacity="0.25"/><circle cx="39.3" cy="7.2" r="0.58" fill="#fff" fill-opacity="0.85"/><circle cx="18.6" cy="39.4" r="0.32" fill="#fff" fill-opacity="0.27"/><circle cx="19.8" cy="3.1" r="0.58" fill="#fff" fill-opacity="0.57"/><circle cx="32.8" cy="11.7" r="0.31" fill="#fff" fill-opacity="0.86"/><circle cx="8.5" cy="17.1" r="0.34" fill="#fff" fill-opacity="0.62"/><circle cx="19.0" cy="8.1" r="0.31" fill="#fff" fill-opacity="0.42"/><circle cx="32.1" cy="6.3" r="0.38" fill="#fff" fill-opacity="0.64"/><circle cx="26.0" cy="33.0" r="0.53" fill="#fff" fill-opacity="0.83"/><circle cx="6.4" cy="37.8" r="0.31" fill="#fff" fill-opacity="0.25"/><circle cx="4.2" cy="31.8" r="0.48" fill="#fff" fill-opacity="0.89"/><circle cx="40.0" cy="39.0" r="0.51" fill="#fff" fill-opacity="0.43"/><circle cx="39.2" cy="30.0" r="0.37" fill="#fff" fill-opacity="0.59"/><circle cx="0.8" cy="0.7" r="0.52" fill="#fff" fill-opacity="0.73"/><circle cx="35.3" cy="30.9" r="0.35" fill="#fff" fill-opacity="0.74"/><circle cx="40.2" cy="27.7" r="0.47" fill="#fff" fill-opacity="0.39"/><circle cx="2.6" cy="25.6" r="0.64" fill="#fff" fill-opacity="0.24"/><circle cx="33.7" cy="36.8" r="0.42" fill="#fff" fill-opacity="0.83"/><circle cx="6.4" cy="12.3" r="0.50" fill="#fff" fill-opacity="0.85"/><circle cx="22.0" cy="3.7" r="0.63" fill="#fff" fill-opacity="0.61"/><circle cx="31.9" cy="9.4" r="0.42" fill="#fff" fill-opacity="0.22"/><circle cx="7.7" cy="17.9" r="0.44" fill="#fff" fill-opacity="0.68"/><circle cx="34.2" cy="13.7" r="0.62" fill="#fff" fill-opacity="0.67"/><circle cx="14.1" cy="7.6" r="0.63" fill="#fff" fill-opacity="0.68"/><circle cx="1.8" cy="28.1" r="0.43" fill="#fff" fill-opacity="0.49"/><circle cx="31.4" cy="9.1" r="0.39" fill="#fff" fill-opacity="0.58"/><circle cx="37.1" cy="3.5" r="0.59" fill="#fff" fill-opacity="0.73"/><circle cx="7.3" cy="27.1" r="0.52" fill="#fff" fill-opacity="0.72"/><circle cx="22.0" cy="12.9" r="0.48" fill="#fff" fill-opacity="0.34"/><circle cx="18.7" cy="16.6" r="0.34" fill="#fff" fill-opacity="0.34"/><circle cx="14.1" cy="16.1" r="0.50" fill="#fff" fill-opacity="0.75"/><circle cx="10.6" cy="22.7" r="0.42" fill="#fff" fill-opacity="0.33"/><circle cx="5.7" cy="39.4" r="0.63" fill="#fff" fill-opacity="0.81"/><circle cx="7.0" cy="6.2" r="0.34" fill="#fff" fill-opacity="0.39"/><circle cx="17.5" cy="0.3" r="0.45" fill="#fff" fill-opacity="0.70"/><circle cx="34.2" cy="7.8" r="0.30" fill="#fff" fill-opacity="0.79"/><circle cx="15.6" cy="12.9" r="0.35" fill="#fff" fill-opacity="0.36"/><circle cx="10.9" cy="10.5" r="0.38" fill="#fff" fill-opacity="0.56"/><circle cx="33.3" cy="12.7" r="0.45" fill="#fff" fill-opacity="0.54"/><circle cx="34.5" cy="31.4" r="0.64" fill="#fff" fill-opacity="0.29"/><circle cx="33.0" cy="12.1" r="0.50" fill="#fff" fill-opacity="0.57"/><circle cx="23.6" cy="13.2" r="0.33" fill="#fff" fill-opacity="0.16"/><circle cx="38.0" cy="36.3" r="0.46" fill="#fff" fill-opacity="0.22"/><circle cx="34.4" cy="20.6" r="0.46" fill="#fff" fill-opacity="0.66"/><circle cx="6.5" cy="9.0" r="0.59" fill="#fff" fill-opacity="0.74"/><circle cx="40.3" cy="17.8" r="0.64" fill="#fff" fill-opacity="0.86"/><circle cx="20.8" cy="36.6" r="0.36" fill="#fff" fill-opacity="0.21"/><circle cx="33.4" cy="5.8" r="0.48" fill="#fff" fill-opacity="0.74"/><circle cx="27.9" cy="9.0" r="0.58" fill="#fff" fill-opacity="0.18"/><circle cx="23.0" cy="36.8" r="0.49" fill="#fff" fill-opacity="0.39"/><circle cx="40.9" cy="29.8" r="0.58" fill="#fff" fill-opacity="0.87"/><circle cx="38.3" cy="23.5" r="0.59" fill="#fff" fill-opacity="0.55"/><circle cx="10.5" cy="11.4" r="0.39" fill="#fff" fill-opacity="0.17"/><circle cx="25.4" cy="16.4" r="0.62" fill="#fff" fill-opacity="0.19"/><circle cx="32.1" cy="8.0" r="0.41" fill="#fff" fill-opacity="0.38"/><circle cx="39.2" cy="26.5" r="0.46" fill="#fff" fill-opacity="0.30"/><circle cx="2.0" cy="15.1" r="0.64" fill="#fff" fill-opacity="0.51"/><circle cx="27.7" cy="36.1" r="0.32" fill="#fff" fill-opacity="0.41"/><circle cx="17.1" cy="9.3" r="0.43" fill="#fff" fill-opacity="0.70"/><circle cx="5.5" cy="28.5" r="0.40" fill="#fff" fill-opacity="0.68"/><circle cx="7.1" cy="32.4" r="0.45" fill="#fff" fill-opacity="0.82"/><circle cx="39.7" cy="23.8" r="0.31" fill="#fff" fill-opacity="0.44"/><circle cx="40.0" cy="26.7" r="0.57" fill="#fff" fill-opacity="0.53"/><circle cx="38.6" cy="37.2" r="0.51" fill="#fff" fill-opacity="0.62"/><circle cx="4.2" cy="0.3" r="0.37" fill="#fff" fill-opacity="0.73"/><circle cx="34.7" cy="31.6" r="0.61" fill="#fff" fill-opacity="0.17"/><circle cx="1.2" cy="10.5" r="0.31" fill="#fff" fill-opacity="0.62"/><circle cx="38.1" cy="36.9" r="0.34" fill="#fff" fill-opacity="0.68"/><circle cx="27.5" cy="27.0" r="0.44" fill="#fff" fill-opacity="0.34"/><circle cx="36.3" cy="37.0" r="0.55" fill="#fff" fill-opacity="0.58"/><circle cx="1.4" cy="11.3" r="0.38" fill="#fff" fill-opacity="0.34"/><circle cx="8.9" cy="27.4" r="0.54" fill="#fff" fill-opacity="0.29"/><circle cx="37.0" cy="0.0" r="0.63" fill="#fff" fill-opacity="0.62"/><circle cx="26.5" cy="11.5" r="0.54" fill="#fff" fill-opacity="0.85"/><circle cx="8.4" cy="5.4" r="0.58" fill="#fff" fill-opacity="0.35"/><circle cx="4.3" cy="20.2" r="0.37" fill="#fff" fill-opacity="0.32"/><circle cx="11.6" cy="3.5" r="0.59" fill="#fff" fill-opacity="0.60"/><circle cx="26.8" cy="12.0" r="0.57" fill="#fff" fill-opacity="0.92"/><circle cx="41.0" cy="1.7" r="0.41" fill="#fff" fill-opacity="0.22"/><circle cx="19.5" cy="27.0" r="0.51" fill="#fff" fill-opacity="0.43"/><circle cx="39.5" cy="25.6" r="0.65" fill="#fff" fill-opacity="0.49"/><circle cx="26.4" cy="4.1" r="0.49" fill="#fff" fill-opacity="0.67"/><circle cx="9.5" cy="25.6" r="0.35" fill="#fff" fill-opacity="0.52"/><circle cx="24.9" cy="19.7" r="0.35" fill="#fff" fill-opacity="0.30"/><circle cx="15.4" cy="26.7" r="0.45" fill="#fff" fill-opacity="0.31"/><circle cx="13.9" cy="12.6" r="0.35" fill="#fff" fill-opacity="0.62"/><circle cx="19.3" cy="13.3" r="0.30" fill="#fff" fill-opacity="0.88"/><circle cx="1.9" cy="4.7" r="0.40" fill="#fff" fill-opacity="0.78"/><circle cx="38.4" cy="31.1" r="0.37" fill="#fff" fill-opacity="0.82"/><circle cx="1.3" cy="4.6" r="0.34" fill="#fff" fill-opacity="0.60"/><circle cx="24.3" cy="25.7" r="0.63" fill="#fff" fill-opacity="0.75"/><circle cx="30.5" cy="7.1" r="0.62" fill="#fff" fill-opacity="0.89"/><circle cx="34.0" cy="3.3" r="0.55" fill="#fff" fill-opacity="0.57"/><circle cx="22.0" cy="11.0" r="0.57" fill="#fff" fill-opacity="0.80"/><circle cx="31.6" cy="12.4" r="0.56" fill="#fff" fill-opacity="0.22"/><circle cx="27.9" cy="1.2" r="0.30" fill="#fff" fill-opacity="0.23"/><circle cx="26.8" cy="40.3" r="0.46" fill="#fff" fill-opacity="0.67"/><circle cx="24.0" cy="34.5" r="0.64" fill="#fff" fill-opacity="0.80"/><circle cx="13.6" cy="2.9" r="0.61" fill="#fff" fill-opacity="0.37"/><circle cx="31.1" cy="35.5" r="0.36" fill="#fff" fill-opacity="0.31"/><circle cx="17.3" cy="34.6" r="0.60" fill="#fff" fill-opacity="0.94"/><circle cx="11.2" cy="25.5" r="0.61" fill="#fff" fill-opacity="0.45"/><circle cx="24.1" cy="9.2" r="0.60" fill="#fff" fill-opacity="0.50"/><circle cx="19.9" cy="26.9" r="0.41" fill="#fff" fill-opacity="0.80"/><circle cx="18.8" cy="17.6" r="0.55" fill="#fff" fill-opacity="0.68"/><circle cx="29.1" cy="35.9" r="0.58" fill="#fff" fill-opacity="0.48"/><circle cx="26.4" cy="35.4" r="0.32" fill="#fff" fill-opacity="0.68"/><circle cx="21.6" cy="16.5" r="0.34" fill="#fff" fill-opacity="0.38"/><circle cx="30.7" cy="36.3" r="0.65" fill="#fff" fill-opacity="0.75"/><circle cx="36.1" cy="33.9" r="0.36" fill="#fff" fill-opacity="0.70"/><circle cx="35.6" cy="30.8" r="0.40" fill="#fff" fill-opacity="0.71"/><circle cx="16.0" cy="17.7" r="0.56" fill="#fff" fill-opacity="0.69"/><circle cx="5.6" cy="26.3" r="0.32" fill="#fff" fill-opacity="0.32"/><circle cx="33.8" cy="37.4" r="0.39" fill="#fff" fill-opacity="0.76"/><circle cx="7.5" cy="20.4" r="0.42" fill="#fff" fill-opacity="0.22"/><circle cx="17.8" cy="22.6" r="0.60" fill="#fff" fill-opacity="0.23"/><circle cx="11.8" cy="0.2" r="0.37" fill="#fff" fill-opacity="0.36"/><circle cx="33.6" cy="38.5" r="0.38" fill="#fff" fill-opacity="0.54"/><circle cx="21.5" cy="20.1" r="0.64" fill="#fff" fill-opacity="0.91"/><circle cx="1.6" cy="16.7" r="0.48" fill="#fff" fill-opacity="0.67"/><circle cx="21.7" cy="33.6" r="0.33" fill="#fff" fill-opacity="0.52"/><circle cx="34.0" cy="7.0" r="0.36" fill="#fff" fill-opacity="0.64"/><circle cx="5.9" cy="22.4" r="0.34" fill="#fff" fill-opacity="0.30"/><circle cx="13.7" cy="32.1" r="0.51" fill="#fff" fill-opacity="0.64"/><circle cx="25.7" cy="16.3" r="0.64" fill="#fff" fill-opacity="0.63"/><circle cx="25.8" cy="2.8" r="0.39" fill="#fff" fill-opacity="0.62"/><circle cx="39.2" cy="28.8" r="0.32" fill="#fff" fill-opacity="0.80"/><circle cx="8.7" cy="24.4" r="0.37" fill="#fff" fill-opacity="0.20"/><circle cx="31.7" cy="19.9" r="0.51" fill="#fff" fill-opacity="0.71"/><circle cx="24.3" cy="17.1" r="0.41" fill="#fff" fill-opacity="0.57"/><circle cx="10.1" cy="10.8" r="0.58" fill="#fff" fill-opacity="0.42"/><circle cx="29.6" cy="27.9" r="0.46" fill="#fff" fill-opacity="0.78"/><circle cx="13.5" cy="0.1" r="0.60" fill="#fff" fill-opacity="0.75"/><circle cx="30.3" cy="37.7" r="0.44" fill="#fff" fill-opacity="0.49"/><circle cx="25.1" cy="35.8" r="0.40" fill="#fff" fill-opacity="0.76"/><circle cx="39.2" cy="10.4" r="0.31" fill="#fff" fill-opacity="0.28"/><circle cx="26.5" cy="8.9" r="0.63" fill="#fff" fill-opacity="0.22"/><circle cx="36.7" cy="14.5" r="0.62" fill="#fff" fill-opacity="0.42"/><circle cx="4.6" cy="27.7" r="0.40" fill="#fff" fill-opacity="0.90"/><circle cx="33.7" cy="10.5" r="0.47" fill="#fff" fill-opacity="0.59"/><circle cx="31.7" cy="10.8" r="0.50" fill="#fff" fill-opacity="0.56"/><circle cx="24.1" cy="22.8" r="0.45" fill="#fff" fill-opacity="0.46"/><circle cx="16.2" cy="40.8" r="0.48" fill="#fff" fill-opacity="0.24"/><circle cx="16.1" cy="31.4" r="0.54" fill="#fff" fill-opacity="0.21"/><circle cx="16.9" cy="18.5" r="0.60" fill="#fff" fill-opacity="0.36"/><circle cx="37.6" cy="33.4" r="0.31" fill="#fff" fill-opacity="0.55"/><circle cx="21.8" cy="25.9" r="0.61" fill="#fff" fill-opacity="0.31"/><circle cx="34.0" cy="0.4" r="0.59" fill="#fff" fill-opacity="0.36"/><circle cx="1.1" cy="33.3" r="0.64" fill="#fff" fill-opacity="0.68"/><circle cx="31.9" cy="16.3" r="0.39" fill="#fff" fill-opacity="0.68"/><circle cx="33.2" cy="11.0" r="0.43" fill="#fff" fill-opacity="0.37"/><circle cx="10.9" cy="35.5" r="0.30" fill="#fff" fill-opacity="0.17"/><circle cx="7.5" cy="32.2" r="0.50" fill="#fff" fill-opacity="0.76"/><circle cx="28.5" cy="36.4" r="0.51" fill="#fff" fill-opacity="0.17"/><circle cx="4.2" cy="16.9" r="0.34" fill="#fff" fill-opacity="0.40"/><circle cx="11.3" cy="40.3" r="0.64" fill="#fff" fill-opacity="0.69"/><circle cx="17.3" cy="16.9" r="0.32" fill="#fff" fill-opacity="0.51"/><circle cx="5.9" cy="21.8" r="0.59" fill="#fff" fill-opacity="0.47"/><circle cx="29.0" cy="33.4" r="0.62" fill="#fff" fill-opacity="0.49"/><circle cx="9.7" cy="36.5" r="0.47" fill="#fff" fill-opacity="0.37"/><circle cx="28.0" cy="35.4" r="0.64" fill="#fff" fill-opacity="0.45"/><circle cx="10.9" cy="10.3" r="0.40" fill="#fff" fill-opacity="0.32"/><circle cx="37.7" cy="26.0" r="0.32" fill="#fff" fill-opacity="0.23"/><circle cx="7.6" cy="39.7" r="0.42" fill="#fff" fill-opacity="0.80"/><circle cx="9.2" cy="8.0" r="0.63" fill="#fff" fill-opacity="0.21"/><circle cx="20.5" cy="21.7" r="0.42" fill="#fff" fill-opacity="0.75"/><circle cx="35.0" cy="9.4" r="0.41" fill="#fff" fill-opacity="0.54"/><circle cx="19.7" cy="25.9" r="0.57" fill="#fff" fill-opacity="0.42"/><circle cx="38.6" cy="18.7" r="0.31" fill="#fff" fill-opacity="0.49"/><circle cx="21.7" cy="7.5" r="0.61" fill="#fff" fill-opacity="0.63"/><circle cx="21.3" cy="11.7" r="0.35" fill="#fff" fill-opacity="0.37"/><circle cx="26.3" cy="28.0" r="0.54" fill="#fff" fill-opacity="0.18"/><circle cx="31.9" cy="28.5" r="0.54" fill="#fff" fill-opacity="0.57"/><circle cx="35.0" cy="39.5" r="0.50" fill="#fff" fill-opacity="0.50"/><circle cx="22.2" cy="32.8" r="0.54" fill="#fff" fill-opacity="0.77"/><circle cx="12.7" cy="24.7" r="0.38" fill="#fff" fill-opacity="0.61"/><circle cx="0.6" cy="21.9" r="0.55" fill="#fff" fill-opacity="0.88"/><circle cx="19.9" cy="35.8" r="0.37" fill="#fff" fill-opacity="0.16"/><circle cx="22.7" cy="14.1" r="0.44" fill="#fff" fill-opacity="0.63"/><circle cx="31.0" cy="35.4" r="0.41" fill="#fff" fill-opacity="0.62"/><circle cx="25.8" cy="28.1" r="0.50" fill="#fff" fill-opacity="0.52"/></pattern>
<pattern id="prd" width="41" height="41" patternUnits="userSpaceOnUse"><circle cx="9.8" cy="22.3" r="0.58" fill="#ff1a1a" fill-opacity="0.76"/><circle cx="25.7" cy="2.7" r="0.41" fill="#ff1a1a" fill-opacity="0.90"/><circle cx="10.6" cy="9.6" r="0.90" fill="#ff1a1a" fill-opacity="0.68"/><circle cx="34.3" cy="19.5" r="0.72" fill="#ff1a1a" fill-opacity="0.49"/><circle cx="26.0" cy="35.6" r="0.66" fill="#ff1a1a" fill-opacity="0.84"/><circle cx="27.5" cy="2.6" r="0.78" fill="#ff1a1a" fill-opacity="0.75"/><circle cx="12.4" cy="1.3" r="0.83" fill="#ff1a1a" fill-opacity="0.68"/><circle cx="29.5" cy="36.0" r="0.76" fill="#ff1a1a" fill-opacity="0.95"/><circle cx="16.2" cy="32.8" r="0.62" fill="#ff1a1a" fill-opacity="0.96"/><circle cx="36.0" cy="4.0" r="0.47" fill="#ff1a1a" fill-opacity="0.53"/><circle cx="39.6" cy="17.9" r="0.71" fill="#ff1a1a" fill-opacity="0.58"/><circle cx="20.8" cy="15.8" r="0.58" fill="#ff1a1a" fill-opacity="0.75"/><circle cx="24.0" cy="37.1" r="0.74" fill="#ff1a1a" fill-opacity="0.96"/><circle cx="35.1" cy="40.6" r="0.74" fill="#ff1a1a" fill-opacity="0.50"/><circle cx="35.3" cy="39.5" r="0.85" fill="#ff1a1a" fill-opacity="0.74"/><circle cx="29.3" cy="8.7" r="0.82" fill="#ff1a1a" fill-opacity="0.74"/><circle cx="11.7" cy="2.6" r="0.83" fill="#ff1a1a" fill-opacity="0.99"/><circle cx="3.6" cy="32.8" r="0.61" fill="#ff1a1a" fill-opacity="0.49"/><circle cx="12.0" cy="31.5" r="0.84" fill="#ff1a1a" fill-opacity="0.43"/><circle cx="25.2" cy="1.8" r="0.76" fill="#ff1a1a" fill-opacity="0.60"/><circle cx="36.1" cy="40.2" r="0.65" fill="#ff1a1a" fill-opacity="1.00"/><circle cx="12.7" cy="3.2" r="0.70" fill="#ff1a1a" fill-opacity="0.42"/><circle cx="8.1" cy="16.7" r="0.71" fill="#ff1a1a" fill-opacity="0.49"/><circle cx="1.7" cy="35.6" r="0.56" fill="#ff1a1a" fill-opacity="0.98"/><circle cx="36.8" cy="15.5" r="0.63" fill="#ff1a1a" fill-opacity="0.71"/><circle cx="26.4" cy="24.4" r="0.68" fill="#ff1a1a" fill-opacity="0.77"/><circle cx="38.6" cy="20.8" r="0.62" fill="#ff1a1a" fill-opacity="0.83"/><circle cx="9.7" cy="12.3" r="0.89" fill="#ff1a1a" fill-opacity="0.71"/><circle cx="22.5" cy="0.5" r="0.61" fill="#ff1a1a" fill-opacity="0.75"/><circle cx="0.8" cy="25.2" r="0.72" fill="#ff1a1a" fill-opacity="0.44"/><circle cx="25.7" cy="19.1" r="0.74" fill="#ff1a1a" fill-opacity="0.61"/><circle cx="29.0" cy="30.3" r="0.41" fill="#ff1a1a" fill-opacity="0.44"/><circle cx="27.7" cy="39.5" r="0.53" fill="#ff1a1a" fill-opacity="0.67"/><circle cx="24.3" cy="13.1" r="0.58" fill="#ff1a1a" fill-opacity="0.59"/><circle cx="15.1" cy="24.4" r="0.55" fill="#ff1a1a" fill-opacity="0.63"/><circle cx="31.7" cy="1.1" r="0.68" fill="#ff1a1a" fill-opacity="0.84"/><circle cx="12.7" cy="9.1" r="0.80" fill="#ff1a1a" fill-opacity="0.54"/><circle cx="7.7" cy="17.8" r="0.75" fill="#ff1a1a" fill-opacity="0.46"/><circle cx="13.2" cy="13.7" r="0.82" fill="#ff1a1a" fill-opacity="0.66"/><circle cx="35.1" cy="6.9" r="0.57" fill="#ff1a1a" fill-opacity="0.79"/><circle cx="36.3" cy="18.5" r="0.51" fill="#ff1a1a" fill-opacity="0.47"/><circle cx="21.7" cy="7.8" r="0.80" fill="#ff1a1a" fill-opacity="0.90"/><circle cx="7.5" cy="11.4" r="0.80" fill="#ff1a1a" fill-opacity="0.79"/><circle cx="33.1" cy="14.2" r="0.46" fill="#ff1a1a" fill-opacity="0.58"/><circle cx="32.5" cy="11.1" r="0.57" fill="#ff1a1a" fill-opacity="0.65"/><circle cx="17.2" cy="16.8" r="0.86" fill="#ff1a1a" fill-opacity="0.49"/><circle cx="0.2" cy="38.7" r="0.84" fill="#ff1a1a" fill-opacity="0.99"/><circle cx="17.8" cy="39.0" r="0.86" fill="#ff1a1a" fill-opacity="0.53"/><circle cx="30.6" cy="34.3" r="0.73" fill="#ff1a1a" fill-opacity="0.71"/><circle cx="11.9" cy="14.0" r="0.51" fill="#ff1a1a" fill-opacity="0.44"/><circle cx="24.1" cy="11.8" r="0.81" fill="#ff1a1a" fill-opacity="0.43"/><circle cx="37.0" cy="28.4" r="0.86" fill="#ff1a1a" fill-opacity="0.94"/><circle cx="36.9" cy="23.7" r="0.41" fill="#ff1a1a" fill-opacity="0.85"/><circle cx="7.0" cy="12.3" r="0.73" fill="#ff1a1a" fill-opacity="0.71"/><circle cx="17.0" cy="38.5" r="0.71" fill="#ff1a1a" fill-opacity="0.60"/><circle cx="10.4" cy="35.3" r="0.64" fill="#ff1a1a" fill-opacity="0.87"/><circle cx="14.4" cy="8.1" r="0.67" fill="#ff1a1a" fill-opacity="0.89"/><circle cx="7.0" cy="32.5" r="0.86" fill="#ff1a1a" fill-opacity="0.88"/><circle cx="33.8" cy="0.3" r="0.71" fill="#ff1a1a" fill-opacity="0.92"/><circle cx="2.0" cy="11.1" r="0.53" fill="#ff1a1a" fill-opacity="0.72"/><circle cx="17.3" cy="19.4" r="0.79" fill="#ff1a1a" fill-opacity="0.40"/><circle cx="2.2" cy="5.2" r="0.46" fill="#ff1a1a" fill-opacity="0.44"/><circle cx="40.0" cy="35.0" r="0.44" fill="#ff1a1a" fill-opacity="0.70"/><circle cx="13.0" cy="12.9" r="0.58" fill="#ff1a1a" fill-opacity="0.79"/><circle cx="24.1" cy="14.8" r="0.50" fill="#ff1a1a" fill-opacity="0.60"/><circle cx="5.1" cy="22.8" r="0.76" fill="#ff1a1a" fill-opacity="0.63"/><circle cx="3.3" cy="7.3" r="0.59" fill="#ff1a1a" fill-opacity="0.76"/><circle cx="32.1" cy="15.6" r="0.80" fill="#ff1a1a" fill-opacity="0.77"/><circle cx="17.7" cy="15.3" r="0.65" fill="#ff1a1a" fill-opacity="0.82"/><circle cx="17.2" cy="28.5" r="0.63" fill="#ff1a1a" fill-opacity="0.55"/><circle cx="22.0" cy="28.5" r="0.44" fill="#ff1a1a" fill-opacity="0.65"/><circle cx="17.5" cy="36.1" r="0.87" fill="#ff1a1a" fill-opacity="0.62"/><circle cx="36.8" cy="32.4" r="0.53" fill="#ff1a1a" fill-opacity="0.68"/><circle cx="5.0" cy="33.3" r="0.73" fill="#ff1a1a" fill-opacity="0.93"/><circle cx="32.5" cy="27.4" r="0.77" fill="#ff1a1a" fill-opacity="0.74"/><circle cx="4.2" cy="24.1" r="0.40" fill="#ff1a1a" fill-opacity="0.49"/><circle cx="31.7" cy="1.8" r="0.45" fill="#ff1a1a" fill-opacity="0.46"/><circle cx="36.1" cy="7.3" r="0.41" fill="#ff1a1a" fill-opacity="0.90"/><circle cx="5.0" cy="34.6" r="0.74" fill="#ff1a1a" fill-opacity="0.90"/><circle cx="39.0" cy="23.7" r="0.80" fill="#ff1a1a" fill-opacity="0.42"/><circle cx="31.5" cy="21.0" r="0.76" fill="#ff1a1a" fill-opacity="0.46"/><circle cx="30.7" cy="38.3" r="0.43" fill="#ff1a1a" fill-opacity="0.59"/><circle cx="23.1" cy="34.0" r="0.52" fill="#ff1a1a" fill-opacity="0.51"/><circle cx="10.2" cy="25.3" r="0.78" fill="#ff1a1a" fill-opacity="0.64"/><circle cx="15.1" cy="16.3" r="0.58" fill="#ff1a1a" fill-opacity="0.65"/><circle cx="3.4" cy="20.5" r="0.89" fill="#ff1a1a" fill-opacity="0.65"/><circle cx="30.6" cy="6.6" r="0.75" fill="#ff1a1a" fill-opacity="0.85"/><circle cx="27.6" cy="21.2" r="0.64" fill="#ff1a1a" fill-opacity="0.79"/><circle cx="36.8" cy="6.1" r="0.45" fill="#ff1a1a" fill-opacity="0.85"/><circle cx="37.6" cy="21.2" r="0.62" fill="#ff1a1a" fill-opacity="0.83"/><circle cx="7.6" cy="11.0" r="0.50" fill="#ff1a1a" fill-opacity="0.75"/><circle cx="12.9" cy="9.5" r="0.75" fill="#ff1a1a" fill-opacity="0.97"/><circle cx="12.1" cy="28.9" r="0.61" fill="#ff1a1a" fill-opacity="0.91"/><circle cx="24.0" cy="11.0" r="0.51" fill="#ff1a1a" fill-opacity="0.41"/><circle cx="19.7" cy="15.7" r="0.49" fill="#ff1a1a" fill-opacity="0.62"/><circle cx="13.2" cy="31.7" r="0.47" fill="#ff1a1a" fill-opacity="0.99"/><circle cx="19.7" cy="24.6" r="0.63" fill="#ff1a1a" fill-opacity="0.90"/><circle cx="33.7" cy="22.8" r="0.64" fill="#ff1a1a" fill-opacity="0.83"/><circle cx="35.1" cy="16.4" r="0.77" fill="#ff1a1a" fill-opacity="0.98"/><circle cx="19.2" cy="9.4" r="0.52" fill="#ff1a1a" fill-opacity="0.83"/><circle cx="27.7" cy="39.3" r="0.83" fill="#ff1a1a" fill-opacity="0.55"/><circle cx="7.8" cy="10.6" r="0.49" fill="#ff1a1a" fill-opacity="0.82"/><circle cx="35.2" cy="36.9" r="0.53" fill="#ff1a1a" fill-opacity="0.92"/><circle cx="12.9" cy="17.4" r="0.76" fill="#ff1a1a" fill-opacity="0.45"/><circle cx="3.8" cy="34.2" r="0.55" fill="#ff1a1a" fill-opacity="0.61"/><circle cx="23.8" cy="27.7" r="0.40" fill="#ff1a1a" fill-opacity="0.60"/><circle cx="17.9" cy="19.9" r="0.51" fill="#ff1a1a" fill-opacity="0.75"/><circle cx="39.2" cy="16.0" r="0.67" fill="#ff1a1a" fill-opacity="0.47"/><circle cx="11.3" cy="27.3" r="0.46" fill="#ff1a1a" fill-opacity="0.93"/><circle cx="37.3" cy="4.0" r="0.87" fill="#ff1a1a" fill-opacity="0.62"/><circle cx="31.7" cy="31.1" r="0.55" fill="#ff1a1a" fill-opacity="0.81"/><circle cx="26.8" cy="33.0" r="0.53" fill="#ff1a1a" fill-opacity="0.85"/><circle cx="39.4" cy="27.6" r="0.67" fill="#ff1a1a" fill-opacity="0.47"/><circle cx="20.2" cy="14.4" r="0.76" fill="#ff1a1a" fill-opacity="0.81"/><circle cx="23.2" cy="7.5" r="0.72" fill="#ff1a1a" fill-opacity="0.78"/><circle cx="7.3" cy="36.5" r="0.73" fill="#ff1a1a" fill-opacity="0.47"/><circle cx="38.2" cy="5.8" r="0.57" fill="#ff1a1a" fill-opacity="0.83"/><circle cx="24.5" cy="22.8" r="0.72" fill="#ff1a1a" fill-opacity="0.67"/><circle cx="12.8" cy="7.2" r="0.43" fill="#ff1a1a" fill-opacity="0.83"/><circle cx="30.9" cy="22.3" r="0.77" fill="#ff1a1a" fill-opacity="0.62"/></pattern>
<pattern id="pwh2" width="37" height="37" patternUnits="userSpaceOnUse"><circle cx="8.7" cy="3.8" r="0.37" fill="#fff" fill-opacity="0.18"/><circle cx="2.5" cy="14.9" r="0.53" fill="#fff" fill-opacity="0.50"/><circle cx="28.3" cy="8.2" r="0.41" fill="#fff" fill-opacity="0.24"/><circle cx="6.4" cy="3.9" r="0.31" fill="#fff" fill-opacity="0.56"/><circle cx="30.7" cy="29.8" r="0.49" fill="#fff" fill-opacity="0.20"/><circle cx="11.5" cy="23.2" r="0.47" fill="#fff" fill-opacity="0.53"/><circle cx="32.6" cy="3.2" r="0.43" fill="#fff" fill-opacity="0.44"/><circle cx="18.7" cy="6.6" r="0.39" fill="#fff" fill-opacity="0.14"/><circle cx="34.6" cy="32.0" r="0.41" fill="#fff" fill-opacity="0.25"/><circle cx="33.6" cy="21.2" r="0.51" fill="#fff" fill-opacity="0.52"/><circle cx="18.8" cy="15.3" r="0.43" fill="#fff" fill-opacity="0.32"/><circle cx="6.0" cy="11.3" r="0.49" fill="#fff" fill-opacity="0.12"/><circle cx="1.7" cy="23.2" r="0.33" fill="#fff" fill-opacity="0.37"/><circle cx="17.4" cy="12.7" r="0.55" fill="#fff" fill-opacity="0.20"/><circle cx="15.3" cy="7.5" r="0.44" fill="#fff" fill-opacity="0.24"/><circle cx="13.2" cy="27.6" r="0.35" fill="#fff" fill-opacity="0.38"/><circle cx="33.5" cy="3.7" r="0.27" fill="#fff" fill-opacity="0.21"/><circle cx="28.3" cy="22.8" r="0.32" fill="#fff" fill-opacity="0.27"/><circle cx="6.6" cy="17.0" r="0.26" fill="#fff" fill-opacity="0.45"/><circle cx="33.1" cy="35.3" r="0.47" fill="#fff" fill-opacity="0.58"/><circle cx="0.7" cy="10.7" r="0.54" fill="#fff" fill-opacity="0.49"/><circle cx="15.2" cy="34.9" r="0.44" fill="#fff" fill-opacity="0.51"/><circle cx="10.9" cy="7.1" r="0.38" fill="#fff" fill-opacity="0.17"/><circle cx="14.1" cy="35.6" r="0.35" fill="#fff" fill-opacity="0.10"/><circle cx="1.7" cy="6.3" r="0.49" fill="#fff" fill-opacity="0.28"/><circle cx="10.7" cy="3.6" r="0.54" fill="#fff" fill-opacity="0.31"/><circle cx="7.7" cy="2.2" r="0.27" fill="#fff" fill-opacity="0.18"/><circle cx="25.0" cy="5.5" r="0.26" fill="#fff" fill-opacity="0.35"/><circle cx="9.2" cy="36.9" r="0.29" fill="#fff" fill-opacity="0.36"/><circle cx="28.6" cy="15.1" r="0.55" fill="#fff" fill-opacity="0.34"/><circle cx="8.9" cy="15.2" r="0.26" fill="#fff" fill-opacity="0.31"/><circle cx="9.2" cy="32.9" r="0.50" fill="#fff" fill-opacity="0.35"/><circle cx="1.2" cy="9.4" r="0.32" fill="#fff" fill-opacity="0.20"/><circle cx="8.6" cy="32.2" r="0.29" fill="#fff" fill-opacity="0.13"/><circle cx="34.3" cy="20.9" r="0.55" fill="#fff" fill-opacity="0.30"/><circle cx="33.3" cy="24.2" r="0.49" fill="#fff" fill-opacity="0.47"/><circle cx="18.3" cy="3.4" r="0.31" fill="#fff" fill-opacity="0.54"/><circle cx="33.3" cy="34.2" r="0.35" fill="#fff" fill-opacity="0.43"/><circle cx="29.6" cy="23.8" r="0.49" fill="#fff" fill-opacity="0.36"/><circle cx="24.2" cy="25.4" r="0.33" fill="#fff" fill-opacity="0.56"/><circle cx="35.4" cy="2.8" r="0.54" fill="#fff" fill-opacity="0.58"/><circle cx="24.7" cy="1.6" r="0.52" fill="#fff" fill-opacity="0.16"/><circle cx="35.8" cy="24.7" r="0.27" fill="#fff" fill-opacity="0.18"/><circle cx="23.5" cy="21.1" r="0.47" fill="#fff" fill-opacity="0.56"/><circle cx="8.1" cy="0.1" r="0.53" fill="#fff" fill-opacity="0.11"/><circle cx="32.4" cy="4.3" r="0.49" fill="#fff" fill-opacity="0.49"/><circle cx="32.5" cy="20.4" r="0.51" fill="#fff" fill-opacity="0.20"/><circle cx="24.8" cy="12.2" r="0.52" fill="#fff" fill-opacity="0.49"/><circle cx="17.4" cy="19.5" r="0.26" fill="#fff" fill-opacity="0.12"/><circle cx="22.0" cy="18.1" r="0.51" fill="#fff" fill-opacity="0.40"/><circle cx="5.1" cy="13.4" r="0.48" fill="#fff" fill-opacity="0.36"/><circle cx="0.4" cy="31.0" r="0.50" fill="#fff" fill-opacity="0.14"/><circle cx="20.1" cy="14.1" r="0.49" fill="#fff" fill-opacity="0.26"/><circle cx="8.6" cy="18.0" r="0.54" fill="#fff" fill-opacity="0.15"/><circle cx="4.2" cy="23.0" r="0.52" fill="#fff" fill-opacity="0.36"/><circle cx="16.1" cy="31.7" r="0.48" fill="#fff" fill-opacity="0.13"/><circle cx="32.6" cy="7.2" r="0.34" fill="#fff" fill-opacity="0.52"/><circle cx="15.6" cy="29.5" r="0.30" fill="#fff" fill-opacity="0.54"/><circle cx="6.5" cy="5.5" r="0.40" fill="#fff" fill-opacity="0.27"/><circle cx="20.0" cy="33.5" r="0.46" fill="#fff" fill-opacity="0.10"/><circle cx="11.5" cy="20.2" r="0.40" fill="#fff" fill-opacity="0.46"/><circle cx="17.9" cy="2.8" r="0.32" fill="#fff" fill-opacity="0.52"/><circle cx="13.2" cy="28.4" r="0.55" fill="#fff" fill-opacity="0.41"/><circle cx="25.0" cy="22.6" r="0.34" fill="#fff" fill-opacity="0.56"/><circle cx="17.3" cy="33.7" r="0.34" fill="#fff" fill-opacity="0.53"/><circle cx="29.1" cy="22.7" r="0.38" fill="#fff" fill-opacity="0.17"/><circle cx="28.5" cy="13.4" r="0.45" fill="#fff" fill-opacity="0.17"/><circle cx="3.1" cy="5.3" r="0.49" fill="#fff" fill-opacity="0.19"/><circle cx="33.4" cy="13.8" r="0.42" fill="#fff" fill-opacity="0.28"/><circle cx="23.0" cy="3.5" r="0.37" fill="#fff" fill-opacity="0.57"/><circle cx="6.6" cy="24.2" r="0.35" fill="#fff" fill-opacity="0.25"/><circle cx="0.9" cy="0.7" r="0.53" fill="#fff" fill-opacity="0.51"/><circle cx="29.6" cy="29.9" r="0.54" fill="#fff" fill-opacity="0.18"/><circle cx="21.6" cy="18.3" r="0.42" fill="#fff" fill-opacity="0.57"/><circle cx="28.1" cy="35.8" r="0.29" fill="#fff" fill-opacity="0.43"/><circle cx="25.0" cy="27.6" r="0.44" fill="#fff" fill-opacity="0.52"/><circle cx="11.2" cy="34.3" r="0.37" fill="#fff" fill-opacity="0.40"/><circle cx="33.2" cy="26.0" r="0.34" fill="#fff" fill-opacity="0.22"/><circle cx="12.1" cy="23.2" r="0.55" fill="#fff" fill-opacity="0.55"/><circle cx="14.8" cy="14.8" r="0.50" fill="#fff" fill-opacity="0.24"/><circle cx="15.2" cy="0.5" r="0.31" fill="#fff" fill-opacity="0.37"/><circle cx="25.7" cy="22.7" r="0.36" fill="#fff" fill-opacity="0.58"/><circle cx="23.1" cy="5.8" r="0.27" fill="#fff" fill-opacity="0.59"/><circle cx="36.5" cy="34.0" r="0.43" fill="#fff" fill-opacity="0.26"/><circle cx="3.4" cy="9.5" r="0.32" fill="#fff" fill-opacity="0.56"/><circle cx="33.0" cy="28.8" r="0.29" fill="#fff" fill-opacity="0.22"/><circle cx="11.1" cy="35.1" r="0.30" fill="#fff" fill-opacity="0.50"/><circle cx="25.2" cy="20.2" r="0.54" fill="#fff" fill-opacity="0.23"/><circle cx="19.4" cy="5.8" r="0.28" fill="#fff" fill-opacity="0.12"/><circle cx="11.7" cy="4.5" r="0.27" fill="#fff" fill-opacity="0.60"/><circle cx="10.7" cy="32.9" r="0.46" fill="#fff" fill-opacity="0.47"/><circle cx="24.2" cy="35.2" r="0.51" fill="#fff" fill-opacity="0.46"/><circle cx="20.7" cy="25.7" r="0.47" fill="#fff" fill-opacity="0.38"/><circle cx="18.6" cy="5.7" r="0.50" fill="#fff" fill-opacity="0.34"/><circle cx="2.5" cy="6.2" r="0.51" fill="#fff" fill-opacity="0.23"/><circle cx="14.5" cy="25.2" r="0.51" fill="#fff" fill-opacity="0.26"/><circle cx="14.3" cy="15.7" r="0.26" fill="#fff" fill-opacity="0.54"/><circle cx="0.7" cy="35.5" r="0.30" fill="#fff" fill-opacity="0.18"/><circle cx="31.4" cy="30.5" r="0.32" fill="#fff" fill-opacity="0.38"/><circle cx="17.6" cy="26.6" r="0.31" fill="#fff" fill-opacity="0.51"/><circle cx="36.9" cy="26.1" r="0.53" fill="#fff" fill-opacity="0.57"/><circle cx="14.0" cy="31.4" r="0.50" fill="#fff" fill-opacity="0.39"/><circle cx="4.0" cy="22.9" r="0.52" fill="#fff" fill-opacity="0.25"/><circle cx="23.9" cy="33.2" r="0.43" fill="#fff" fill-opacity="0.12"/><circle cx="23.4" cy="9.5" r="0.51" fill="#fff" fill-opacity="0.43"/><circle cx="11.4" cy="33.1" r="0.44" fill="#fff" fill-opacity="0.27"/><circle cx="30.9" cy="33.0" r="0.52" fill="#fff" fill-opacity="0.54"/><circle cx="24.4" cy="25.9" r="0.43" fill="#fff" fill-opacity="0.36"/><circle cx="36.5" cy="13.1" r="0.27" fill="#fff" fill-opacity="0.46"/><circle cx="18.4" cy="20.2" r="0.43" fill="#fff" fill-opacity="0.22"/><circle cx="7.4" cy="2.6" r="0.48" fill="#fff" fill-opacity="0.55"/><circle cx="25.8" cy="4.3" r="0.54" fill="#fff" fill-opacity="0.51"/><circle cx="18.8" cy="0.0" r="0.50" fill="#fff" fill-opacity="0.41"/><circle cx="23.0" cy="0.7" r="0.47" fill="#fff" fill-opacity="0.12"/><circle cx="17.7" cy="5.4" r="0.36" fill="#fff" fill-opacity="0.55"/><circle cx="27.7" cy="30.2" r="0.34" fill="#fff" fill-opacity="0.29"/><circle cx="22.4" cy="1.3" r="0.37" fill="#fff" fill-opacity="0.59"/><circle cx="27.9" cy="31.9" r="0.34" fill="#fff" fill-opacity="0.45"/><circle cx="29.2" cy="26.1" r="0.38" fill="#fff" fill-opacity="0.19"/><circle cx="0.7" cy="32.8" r="0.53" fill="#fff" fill-opacity="0.24"/><circle cx="28.0" cy="15.1" r="0.44" fill="#fff" fill-opacity="0.52"/><circle cx="11.9" cy="22.9" r="0.33" fill="#fff" fill-opacity="0.36"/><circle cx="1.1" cy="9.8" r="0.34" fill="#fff" fill-opacity="0.56"/><circle cx="4.9" cy="28.1" r="0.28" fill="#fff" fill-opacity="0.59"/><circle cx="6.1" cy="3.4" r="0.31" fill="#fff" fill-opacity="0.57"/><circle cx="24.7" cy="33.0" r="0.40" fill="#fff" fill-opacity="0.16"/><circle cx="12.6" cy="16.9" r="0.55" fill="#fff" fill-opacity="0.18"/><circle cx="9.0" cy="31.2" r="0.28" fill="#fff" fill-opacity="0.59"/><circle cx="11.0" cy="21.0" r="0.45" fill="#fff" fill-opacity="0.55"/><circle cx="2.8" cy="31.3" r="0.30" fill="#fff" fill-opacity="0.46"/><circle cx="1.0" cy="28.4" r="0.30" fill="#fff" fill-opacity="0.20"/><circle cx="1.3" cy="12.0" r="0.35" fill="#fff" fill-opacity="0.59"/><circle cx="22.5" cy="13.5" r="0.55" fill="#fff" fill-opacity="0.19"/><circle cx="8.0" cy="35.4" r="0.54" fill="#fff" fill-opacity="0.44"/><circle cx="36.2" cy="2.1" r="0.52" fill="#fff" fill-opacity="0.45"/><circle cx="24.7" cy="31.2" r="0.28" fill="#fff" fill-opacity="0.20"/><circle cx="5.1" cy="17.7" r="0.41" fill="#fff" fill-opacity="0.37"/><circle cx="13.4" cy="27.5" r="0.50" fill="#fff" fill-opacity="0.48"/><circle cx="1.4" cy="5.7" r="0.32" fill="#fff" fill-opacity="0.22"/><circle cx="21.2" cy="7.2" r="0.44" fill="#fff" fill-opacity="0.27"/><circle cx="13.5" cy="26.2" r="0.53" fill="#fff" fill-opacity="0.20"/><circle cx="12.9" cy="36.3" r="0.31" fill="#fff" fill-opacity="0.11"/><circle cx="7.1" cy="30.5" r="0.47" fill="#fff" fill-opacity="0.57"/><circle cx="18.4" cy="1.5" r="0.34" fill="#fff" fill-opacity="0.46"/><circle cx="14.5" cy="5.2" r="0.36" fill="#fff" fill-opacity="0.33"/><circle cx="13.2" cy="16.5" r="0.29" fill="#fff" fill-opacity="0.11"/><circle cx="29.0" cy="27.1" r="0.38" fill="#fff" fill-opacity="0.16"/><circle cx="10.9" cy="20.7" r="0.52" fill="#fff" fill-opacity="0.34"/><circle cx="36.0" cy="19.5" r="0.30" fill="#fff" fill-opacity="0.41"/><circle cx="22.2" cy="22.2" r="0.47" fill="#fff" fill-opacity="0.11"/><circle cx="16.2" cy="29.6" r="0.29" fill="#fff" fill-opacity="0.12"/><circle cx="6.8" cy="10.6" r="0.38" fill="#fff" fill-opacity="0.26"/><circle cx="23.5" cy="6.3" r="0.35" fill="#fff" fill-opacity="0.44"/><circle cx="20.1" cy="35.5" r="0.53" fill="#fff" fill-opacity="0.23"/><circle cx="12.4" cy="19.9" r="0.41" fill="#fff" fill-opacity="0.28"/><circle cx="31.9" cy="7.3" r="0.39" fill="#fff" fill-opacity="0.16"/><circle cx="32.7" cy="22.0" r="0.55" fill="#fff" fill-opacity="0.17"/><circle cx="26.3" cy="22.1" r="0.27" fill="#fff" fill-opacity="0.51"/><circle cx="32.3" cy="3.0" r="0.53" fill="#fff" fill-opacity="0.49"/><circle cx="22.4" cy="20.1" r="0.33" fill="#fff" fill-opacity="0.13"/><circle cx="17.6" cy="32.0" r="0.31" fill="#fff" fill-opacity="0.34"/><circle cx="10.5" cy="25.6" r="0.54" fill="#fff" fill-opacity="0.54"/><circle cx="10.7" cy="15.4" r="0.25" fill="#fff" fill-opacity="0.36"/><circle cx="31.6" cy="31.3" r="0.27" fill="#fff" fill-opacity="0.32"/><circle cx="3.0" cy="15.7" r="0.52" fill="#fff" fill-opacity="0.24"/><circle cx="31.3" cy="35.3" r="0.50" fill="#fff" fill-opacity="0.20"/><circle cx="34.0" cy="34.1" r="0.55" fill="#fff" fill-opacity="0.11"/><circle cx="0.1" cy="10.8" r="0.41" fill="#fff" fill-opacity="0.31"/><circle cx="3.4" cy="23.7" r="0.45" fill="#fff" fill-opacity="0.42"/><circle cx="18.9" cy="20.3" r="0.46" fill="#fff" fill-opacity="0.13"/><circle cx="16.1" cy="5.0" r="0.28" fill="#fff" fill-opacity="0.48"/><circle cx="12.0" cy="12.6" r="0.33" fill="#fff" fill-opacity="0.39"/><circle cx="4.4" cy="23.7" r="0.27" fill="#fff" fill-opacity="0.58"/><circle cx="5.8" cy="28.4" r="0.41" fill="#fff" fill-opacity="0.31"/><circle cx="11.3" cy="13.3" r="0.48" fill="#fff" fill-opacity="0.36"/><circle cx="19.8" cy="9.2" r="0.44" fill="#fff" fill-opacity="0.19"/><circle cx="17.9" cy="24.1" r="0.41" fill="#fff" fill-opacity="0.39"/><circle cx="21.1" cy="7.2" r="0.54" fill="#fff" fill-opacity="0.44"/><circle cx="26.8" cy="35.3" r="0.39" fill="#fff" fill-opacity="0.27"/><circle cx="11.2" cy="11.7" r="0.34" fill="#fff" fill-opacity="0.26"/><circle cx="7.7" cy="17.9" r="0.34" fill="#fff" fill-opacity="0.28"/><circle cx="24.6" cy="11.7" r="0.51" fill="#fff" fill-opacity="0.50"/><circle cx="12.2" cy="30.9" r="0.30" fill="#fff" fill-opacity="0.15"/><circle cx="36.8" cy="1.2" r="0.25" fill="#fff" fill-opacity="0.53"/><circle cx="0.1" cy="24.2" r="0.42" fill="#fff" fill-opacity="0.21"/><circle cx="9.1" cy="35.8" r="0.37" fill="#fff" fill-opacity="0.22"/><circle cx="16.3" cy="27.1" r="0.34" fill="#fff" fill-opacity="0.14"/><circle cx="29.3" cy="3.6" r="0.27" fill="#fff" fill-opacity="0.10"/><circle cx="36.8" cy="16.1" r="0.47" fill="#fff" fill-opacity="0.38"/><circle cx="36.1" cy="12.7" r="0.35" fill="#fff" fill-opacity="0.44"/><circle cx="0.0" cy="13.5" r="0.48" fill="#fff" fill-opacity="0.39"/><circle cx="18.1" cy="34.7" r="0.38" fill="#fff" fill-opacity="0.47"/><circle cx="14.5" cy="3.2" r="0.37" fill="#fff" fill-opacity="0.21"/><circle cx="1.0" cy="10.6" r="0.29" fill="#fff" fill-opacity="0.33"/><circle cx="27.3" cy="28.0" r="0.52" fill="#fff" fill-opacity="0.26"/><circle cx="24.8" cy="32.9" r="0.37" fill="#fff" fill-opacity="0.56"/><circle cx="3.8" cy="34.1" r="0.51" fill="#fff" fill-opacity="0.59"/><circle cx="30.7" cy="26.3" r="0.38" fill="#fff" fill-opacity="0.46"/><circle cx="32.5" cy="21.3" r="0.44" fill="#fff" fill-opacity="0.56"/><circle cx="10.5" cy="12.4" r="0.26" fill="#fff" fill-opacity="0.54"/><circle cx="23.3" cy="24.9" r="0.32" fill="#fff" fill-opacity="0.19"/><circle cx="17.7" cy="32.5" r="0.36" fill="#fff" fill-opacity="0.31"/><circle cx="15.5" cy="31.2" r="0.29" fill="#fff" fill-opacity="0.53"/><circle cx="0.4" cy="25.9" r="0.48" fill="#fff" fill-opacity="0.33"/><circle cx="27.4" cy="10.4" r="0.29" fill="#fff" fill-opacity="0.28"/><circle cx="9.8" cy="26.5" r="0.42" fill="#fff" fill-opacity="0.43"/><circle cx="36.1" cy="28.6" r="0.49" fill="#fff" fill-opacity="0.58"/><circle cx="34.4" cy="27.4" r="0.35" fill="#fff" fill-opacity="0.35"/><circle cx="28.0" cy="29.1" r="0.52" fill="#fff" fill-opacity="0.47"/><circle cx="24.7" cy="9.4" r="0.44" fill="#fff" fill-opacity="0.19"/><circle cx="23.9" cy="6.5" r="0.26" fill="#fff" fill-opacity="0.58"/><circle cx="32.2" cy="11.3" r="0.26" fill="#fff" fill-opacity="0.51"/><circle cx="28.5" cy="5.7" r="0.50" fill="#fff" fill-opacity="0.52"/><circle cx="21.3" cy="10.1" r="0.27" fill="#fff" fill-opacity="0.13"/><circle cx="16.3" cy="26.7" r="0.44" fill="#fff" fill-opacity="0.21"/><circle cx="29.5" cy="2.3" r="0.43" fill="#fff" fill-opacity="0.19"/><circle cx="0.2" cy="7.2" r="0.49" fill="#fff" fill-opacity="0.21"/><circle cx="0.5" cy="17.9" r="0.35" fill="#fff" fill-opacity="0.39"/><circle cx="21.4" cy="26.2" r="0.52" fill="#fff" fill-opacity="0.27"/><circle cx="23.5" cy="4.4" r="0.33" fill="#fff" fill-opacity="0.15"/><circle cx="31.9" cy="12.5" r="0.46" fill="#fff" fill-opacity="0.54"/><circle cx="14.2" cy="7.7" r="0.32" fill="#fff" fill-opacity="0.34"/><circle cx="14.3" cy="2.6" r="0.51" fill="#fff" fill-opacity="0.42"/><circle cx="32.3" cy="31.3" r="0.47" fill="#fff" fill-opacity="0.51"/><circle cx="26.0" cy="15.8" r="0.50" fill="#fff" fill-opacity="0.56"/><circle cx="4.0" cy="5.3" r="0.30" fill="#fff" fill-opacity="0.33"/><circle cx="32.0" cy="19.5" r="0.51" fill="#fff" fill-opacity="0.28"/><circle cx="20.9" cy="9.1" r="0.44" fill="#fff" fill-opacity="0.24"/><circle cx="0.3" cy="14.7" r="0.42" fill="#fff" fill-opacity="0.54"/><circle cx="10.6" cy="34.3" r="0.49" fill="#fff" fill-opacity="0.18"/><circle cx="28.8" cy="34.6" r="0.54" fill="#fff" fill-opacity="0.45"/><circle cx="14.4" cy="20.1" r="0.45" fill="#fff" fill-opacity="0.41"/><circle cx="7.0" cy="32.7" r="0.41" fill="#fff" fill-opacity="0.14"/><circle cx="11.3" cy="3.0" r="0.39" fill="#fff" fill-opacity="0.15"/><circle cx="19.6" cy="10.3" r="0.50" fill="#fff" fill-opacity="0.48"/><circle cx="6.9" cy="30.0" r="0.42" fill="#fff" fill-opacity="0.23"/><circle cx="33.7" cy="0.2" r="0.37" fill="#fff" fill-opacity="0.40"/><circle cx="6.0" cy="18.2" r="0.52" fill="#fff" fill-opacity="0.27"/><circle cx="26.2" cy="7.0" r="0.54" fill="#fff" fill-opacity="0.58"/><circle cx="6.1" cy="28.3" r="0.35" fill="#fff" fill-opacity="0.12"/><circle cx="7.8" cy="27.0" r="0.39" fill="#fff" fill-opacity="0.36"/><circle cx="4.7" cy="6.4" r="0.36" fill="#fff" fill-opacity="0.36"/><circle cx="30.4" cy="16.6" r="0.35" fill="#fff" fill-opacity="0.56"/><circle cx="25.5" cy="28.0" r="0.49" fill="#fff" fill-opacity="0.34"/><circle cx="9.6" cy="4.1" r="0.45" fill="#fff" fill-opacity="0.47"/><circle cx="33.4" cy="34.0" r="0.40" fill="#fff" fill-opacity="0.34"/><circle cx="35.7" cy="3.2" r="0.36" fill="#fff" fill-opacity="0.37"/><circle cx="22.3" cy="22.6" r="0.30" fill="#fff" fill-opacity="0.35"/><circle cx="6.5" cy="14.2" r="0.30" fill="#fff" fill-opacity="0.26"/><circle cx="23.2" cy="14.8" r="0.30" fill="#fff" fill-opacity="0.33"/><circle cx="24.8" cy="11.1" r="0.33" fill="#fff" fill-opacity="0.32"/><circle cx="25.7" cy="1.3" r="0.45" fill="#fff" fill-opacity="0.13"/><circle cx="32.9" cy="7.1" r="0.50" fill="#fff" fill-opacity="0.12"/><circle cx="18.3" cy="9.5" r="0.48" fill="#fff" fill-opacity="0.49"/><circle cx="4.7" cy="1.9" r="0.47" fill="#fff" fill-opacity="0.31"/><circle cx="13.8" cy="12.9" r="0.36" fill="#fff" fill-opacity="0.39"/><circle cx="14.4" cy="4.8" r="0.39" fill="#fff" fill-opacity="0.59"/><circle cx="28.4" cy="26.6" r="0.53" fill="#fff" fill-opacity="0.32"/><circle cx="13.4" cy="29.3" r="0.28" fill="#fff" fill-opacity="0.48"/><circle cx="5.5" cy="23.1" r="0.40" fill="#fff" fill-opacity="0.49"/><circle cx="2.3" cy="24.8" r="0.50" fill="#fff" fill-opacity="0.12"/><circle cx="25.3" cy="10.4" r="0.47" fill="#fff" fill-opacity="0.59"/><circle cx="0.1" cy="15.1" r="0.40" fill="#fff" fill-opacity="0.59"/><circle cx="34.2" cy="1.1" r="0.29" fill="#fff" fill-opacity="0.30"/><circle cx="29.7" cy="29.2" r="0.42" fill="#fff" fill-opacity="0.56"/><circle cx="30.3" cy="32.5" r="0.44" fill="#fff" fill-opacity="0.23"/><circle cx="27.2" cy="26.5" r="0.53" fill="#fff" fill-opacity="0.19"/><circle cx="0.8" cy="12.6" r="0.33" fill="#fff" fill-opacity="0.29"/><circle cx="2.2" cy="22.6" r="0.38" fill="#fff" fill-opacity="0.23"/><circle cx="3.8" cy="21.2" r="0.28" fill="#fff" fill-opacity="0.53"/><circle cx="10.2" cy="33.2" r="0.29" fill="#fff" fill-opacity="0.29"/><circle cx="28.8" cy="19.3" r="0.38" fill="#fff" fill-opacity="0.54"/><circle cx="6.1" cy="31.5" r="0.40" fill="#fff" fill-opacity="0.24"/><circle cx="12.9" cy="10.3" r="0.44" fill="#fff" fill-opacity="0.32"/><circle cx="19.2" cy="24.0" r="0.51" fill="#fff" fill-opacity="0.45"/><circle cx="10.9" cy="24.6" r="0.46" fill="#fff" fill-opacity="0.55"/><circle cx="14.3" cy="19.7" r="0.48" fill="#fff" fill-opacity="0.27"/><circle cx="12.1" cy="23.0" r="0.36" fill="#fff" fill-opacity="0.52"/><circle cx="12.8" cy="8.1" r="0.43" fill="#fff" fill-opacity="0.40"/><circle cx="36.6" cy="34.9" r="0.38" fill="#fff" fill-opacity="0.32"/><circle cx="24.1" cy="18.7" r="0.43" fill="#fff" fill-opacity="0.30"/><circle cx="31.8" cy="33.0" r="0.49" fill="#fff" fill-opacity="0.47"/><circle cx="32.9" cy="9.5" r="0.53" fill="#fff" fill-opacity="0.20"/><circle cx="3.7" cy="18.3" r="0.30" fill="#fff" fill-opacity="0.23"/><circle cx="22.4" cy="5.5" r="0.37" fill="#fff" fill-opacity="0.28"/><circle cx="34.9" cy="2.9" r="0.40" fill="#fff" fill-opacity="0.33"/><circle cx="6.0" cy="12.8" r="0.36" fill="#fff" fill-opacity="0.28"/><circle cx="20.6" cy="20.6" r="0.39" fill="#fff" fill-opacity="0.32"/><circle cx="22.5" cy="17.9" r="0.29" fill="#fff" fill-opacity="0.43"/><circle cx="15.1" cy="31.6" r="0.29" fill="#fff" fill-opacity="0.37"/><circle cx="11.1" cy="23.4" r="0.50" fill="#fff" fill-opacity="0.42"/><circle cx="21.2" cy="34.5" r="0.32" fill="#fff" fill-opacity="0.60"/><circle cx="16.2" cy="23.4" r="0.29" fill="#fff" fill-opacity="0.12"/><circle cx="5.9" cy="20.1" r="0.32" fill="#fff" fill-opacity="0.50"/><circle cx="5.7" cy="24.5" r="0.52" fill="#fff" fill-opacity="0.45"/><circle cx="34.1" cy="30.5" r="0.51" fill="#fff" fill-opacity="0.12"/><circle cx="18.9" cy="11.1" r="0.38" fill="#fff" fill-opacity="0.46"/><circle cx="27.0" cy="7.6" r="0.30" fill="#fff" fill-opacity="0.13"/><circle cx="27.4" cy="30.4" r="0.28" fill="#fff" fill-opacity="0.17"/><circle cx="5.1" cy="36.6" r="0.27" fill="#fff" fill-opacity="0.39"/><circle cx="32.4" cy="6.3" r="0.45" fill="#fff" fill-opacity="0.27"/><circle cx="23.7" cy="17.3" r="0.29" fill="#fff" fill-opacity="0.55"/><circle cx="18.5" cy="36.3" r="0.43" fill="#fff" fill-opacity="0.58"/><circle cx="24.2" cy="2.1" r="0.25" fill="#fff" fill-opacity="0.60"/><circle cx="24.6" cy="29.3" r="0.50" fill="#fff" fill-opacity="0.28"/><circle cx="26.1" cy="24.0" r="0.27" fill="#fff" fill-opacity="0.37"/><circle cx="34.4" cy="20.6" r="0.49" fill="#fff" fill-opacity="0.13"/><circle cx="15.4" cy="18.7" r="0.42" fill="#fff" fill-opacity="0.52"/><circle cx="18.1" cy="21.0" r="0.41" fill="#fff" fill-opacity="0.44"/><circle cx="21.4" cy="14.6" r="0.34" fill="#fff" fill-opacity="0.53"/><circle cx="13.1" cy="26.4" r="0.33" fill="#fff" fill-opacity="0.59"/><circle cx="8.0" cy="15.5" r="0.36" fill="#fff" fill-opacity="0.54"/><circle cx="27.1" cy="9.7" r="0.32" fill="#fff" fill-opacity="0.47"/><circle cx="16.5" cy="6.7" r="0.28" fill="#fff" fill-opacity="0.46"/><circle cx="24.5" cy="29.8" r="0.27" fill="#fff" fill-opacity="0.34"/><circle cx="5.4" cy="21.1" r="0.32" fill="#fff" fill-opacity="0.22"/><circle cx="20.8" cy="6.1" r="0.49" fill="#fff" fill-opacity="0.18"/><circle cx="9.9" cy="27.9" r="0.33" fill="#fff" fill-opacity="0.25"/><circle cx="29.0" cy="20.8" r="0.49" fill="#fff" fill-opacity="0.53"/><circle cx="35.6" cy="3.2" r="0.37" fill="#fff" fill-opacity="0.33"/><circle cx="10.6" cy="32.1" r="0.37" fill="#fff" fill-opacity="0.56"/><circle cx="2.6" cy="16.4" r="0.44" fill="#fff" fill-opacity="0.49"/><circle cx="17.9" cy="33.3" r="0.34" fill="#fff" fill-opacity="0.28"/><circle cx="7.1" cy="7.0" r="0.40" fill="#fff" fill-opacity="0.47"/><circle cx="7.1" cy="18.1" r="0.38" fill="#fff" fill-opacity="0.59"/><circle cx="18.2" cy="29.9" r="0.32" fill="#fff" fill-opacity="0.55"/><circle cx="0.9" cy="5.6" r="0.44" fill="#fff" fill-opacity="0.37"/><circle cx="19.5" cy="23.0" r="0.35" fill="#fff" fill-opacity="0.43"/><circle cx="14.7" cy="21.7" r="0.46" fill="#fff" fill-opacity="0.25"/><circle cx="28.2" cy="30.5" r="0.55" fill="#fff" fill-opacity="0.13"/><circle cx="15.8" cy="6.1" r="0.30" fill="#fff" fill-opacity="0.34"/><circle cx="28.8" cy="4.6" r="0.49" fill="#fff" fill-opacity="0.52"/><circle cx="35.8" cy="28.0" r="0.31" fill="#fff" fill-opacity="0.46"/><circle cx="21.2" cy="10.1" r="0.49" fill="#fff" fill-opacity="0.27"/><circle cx="31.1" cy="32.6" r="0.37" fill="#fff" fill-opacity="0.17"/><circle cx="30.2" cy="5.8" r="0.29" fill="#fff" fill-opacity="0.54"/><circle cx="8.8" cy="9.6" r="0.37" fill="#fff" fill-opacity="0.46"/><circle cx="7.2" cy="11.7" r="0.27" fill="#fff" fill-opacity="0.23"/><circle cx="27.6" cy="23.6" r="0.43" fill="#fff" fill-opacity="0.55"/><circle cx="1.1" cy="10.4" r="0.44" fill="#fff" fill-opacity="0.28"/><circle cx="36.1" cy="8.3" r="0.54" fill="#fff" fill-opacity="0.47"/><circle cx="25.0" cy="34.8" r="0.38" fill="#fff" fill-opacity="0.27"/><circle cx="16.1" cy="27.2" r="0.50" fill="#fff" fill-opacity="0.42"/><circle cx="29.3" cy="24.6" r="0.48" fill="#fff" fill-opacity="0.16"/><circle cx="30.7" cy="19.7" r="0.35" fill="#fff" fill-opacity="0.16"/><circle cx="22.4" cy="8.1" r="0.36" fill="#fff" fill-opacity="0.37"/><circle cx="7.7" cy="8.6" r="0.27" fill="#fff" fill-opacity="0.27"/><circle cx="30.6" cy="9.0" r="0.33" fill="#fff" fill-opacity="0.17"/><circle cx="22.4" cy="27.4" r="0.31" fill="#fff" fill-opacity="0.51"/><circle cx="0.4" cy="4.3" r="0.28" fill="#fff" fill-opacity="0.49"/><circle cx="3.1" cy="27.0" r="0.31" fill="#fff" fill-opacity="0.25"/><circle cx="3.7" cy="30.0" r="0.36" fill="#fff" fill-opacity="0.56"/><circle cx="25.7" cy="20.8" r="0.39" fill="#fff" fill-opacity="0.38"/><circle cx="21.5" cy="35.9" r="0.32" fill="#fff" fill-opacity="0.19"/><circle cx="36.9" cy="25.5" r="0.44" fill="#fff" fill-opacity="0.33"/><circle cx="0.5" cy="8.3" r="0.49" fill="#fff" fill-opacity="0.24"/><circle cx="22.4" cy="18.1" r="0.30" fill="#fff" fill-opacity="0.13"/><circle cx="2.4" cy="26.4" r="0.32" fill="#fff" fill-opacity="0.36"/><circle cx="21.4" cy="28.1" r="0.30" fill="#fff" fill-opacity="0.31"/><circle cx="28.0" cy="24.6" r="0.39" fill="#fff" fill-opacity="0.42"/><circle cx="29.1" cy="32.4" r="0.41" fill="#fff" fill-opacity="0.15"/><circle cx="4.8" cy="24.6" r="0.45" fill="#fff" fill-opacity="0.32"/><circle cx="25.8" cy="8.1" r="0.37" fill="#fff" fill-opacity="0.29"/><circle cx="27.7" cy="35.7" r="0.33" fill="#fff" fill-opacity="0.15"/><circle cx="13.7" cy="32.0" r="0.55" fill="#fff" fill-opacity="0.13"/><circle cx="12.4" cy="17.6" r="0.52" fill="#fff" fill-opacity="0.38"/><circle cx="15.8" cy="36.0" r="0.47" fill="#fff" fill-opacity="0.55"/><circle cx="30.0" cy="36.4" r="0.46" fill="#fff" fill-opacity="0.49"/><circle cx="18.6" cy="25.1" r="0.53" fill="#fff" fill-opacity="0.57"/><circle cx="33.3" cy="25.0" r="0.40" fill="#fff" fill-opacity="0.31"/><circle cx="14.5" cy="35.2" r="0.45" fill="#fff" fill-opacity="0.50"/><circle cx="24.7" cy="3.7" r="0.38" fill="#fff" fill-opacity="0.27"/><circle cx="35.8" cy="25.4" r="0.36" fill="#fff" fill-opacity="0.36"/><circle cx="33.0" cy="19.5" r="0.46" fill="#fff" fill-opacity="0.28"/><circle cx="15.8" cy="28.4" r="0.31" fill="#fff" fill-opacity="0.44"/><circle cx="31.1" cy="36.8" r="0.41" fill="#fff" fill-opacity="0.41"/><circle cx="36.8" cy="29.4" r="0.51" fill="#fff" fill-opacity="0.36"/><circle cx="4.9" cy="30.6" r="0.28" fill="#fff" fill-opacity="0.46"/><circle cx="10.8" cy="29.9" r="0.44" fill="#fff" fill-opacity="0.36"/><circle cx="17.7" cy="11.1" r="0.55" fill="#fff" fill-opacity="0.38"/></pattern>
</defs>
<mask id="mm1" maskUnits="userSpaceOnUse" x="0" y="0" width="685" height="200"><g transform="translate(0,0)"><polygon points="188.8,48.0 215.0,42.0 240.0,34.0 262.0,26.0 280.0,28.0 305.0,46.0 330.0,66.0 353.0,84.0 353.0,150.0 188.8,150.0" fill="#777" filter="url(#b8)"/><polygon points="188.8,74.0 210.0,68.0 228.0,60.0 245.0,51.0 258.0,44.0 268.0,40.0 278.0,43.0 290.0,52.0 300.0,64.0 311.0,80.0 320.0,98.0 326.0,120.0 188.8,128.0" fill="#fff" filter="url(#b5)"/></g></mask>
<mask id="mc1" maskUnits="userSpaceOnUse" x="0" y="0" width="685" height="200"><g transform="translate(0,0)"><polygon points="188.8,113.0 209.0,119.0 234.0,120.5 254.0,122.0 262.0,127.0 265.3,133.0 269.0,127.0 279.0,125.0 299.0,126.0 309.8,127.5 315.0,138.0 323.0,152.0 327.0,167.0 188.8,167.0" fill="#fff" filter="url(#b1)"/></g></mask>
<g clip-path="url(#c1)">
<linearGradient id="g1" x1="0" y1="0" x2="0" y2="1"><stop offset="0" stop-color="#260000"/><stop offset="0.5" stop-color="#300000"/><stop offset="1" stop-color="#340000"/></linearGradient>
<rect x="188.80" y="5.30" width="164.50" height="161.40" fill="url(#g1)" stroke="none" stroke-width="1" />
<polygon points="188.8,48.0 215.0,42.0 240.0,34.0 262.0,26.0 280.0,28.0 305.0,46.0 330.0,66.0 353.0,84.0 353.0,150.0 188.8,150.0" fill="#4a0000" filter="url(#b8)"/>
<polygon points="300,78 353,96 353,146 300,146" fill="#5e0000" filter="url(#b8)"/>
<polygon points="188.8,74.0 210.0,68.0 228.0,60.0 245.0,51.0 258.0,44.0 268.0,40.0 278.0,43.0 290.0,52.0 300.0,64.0 311.0,80.0 320.0,98.0 326.0,120.0 188.8,128.0" fill="#a00000" filter="url(#b5)"/>
<polygon points="196.0,94.0 230.0,76.0 255.0,62.0 270.0,55.0 286.0,64.0 300.0,88.0 306.0,116.0 196.0,116.0" fill="#b80000" filter="url(#b8)"/>
<rect x="188.8" y="5.3" width="165" height="162" fill="url(#prd)" mask="url(#mm1)"/>
<rect x="188.8" y="5.3" width="165" height="162" fill="url(#pdk)" mask="url(#mm1)" opacity="0.5"/>
<rect x="188.8" y="5.3" width="165" height="162" fill="url(#pdk)" opacity="0.2"/>
<polygon points="188.8,115.5 240.0,117.4 255.0,121.0 261.0,126.0 265.0,136.0 268.5,126.0 283.0,125.2 300.0,129.0 308.9,133.0 312.7,130.3 328.3,131.0 340.0,138.0 353.0,146.0 353.0,167.0 188.8,167.0" fill="#0a0000" filter="url(#b1)"/>
<path d="M261,124 L265,136 L269,124 Z" fill="#900000" filter="url(#b1)"/>
<path d="M312,131 C316,142 320,155 324,167" stroke="#4a0000" stroke-width="1" fill="none"/>
<circle cx="264.7" cy="69" r="1.8" fill="#1a0000" opacity="0.8" filter="url(#b1)"/>
<circle cx="243" cy="79" r="1.5" fill="#1a0000" opacity="0.8" filter="url(#b1)"/>
<circle cx="239" cy="102" r="1.6" fill="#1a0000" opacity="0.8" filter="url(#b1)"/>
<circle cx="292.9" cy="90.7" r="2.0" fill="#1a0000" opacity="0.8" filter="url(#b1)"/>
<circle cx="296.7" cy="116.3" r="2.4" fill="#1a0000" opacity="0.8" filter="url(#b1)"/>
<circle cx="273.7" cy="81.7" r="1.3" fill="#1a0000" opacity="0.8" filter="url(#b1)"/>
<circle cx="248" cy="108" r="1.4" fill="#1a0000" opacity="0.8" filter="url(#b1)"/>
<circle cx="222" cy="62" r="1.2" fill="#1a0000" opacity="0.8" filter="url(#b1)"/>
<circle cx="286" cy="113" r="1.6" fill="#1a0000" opacity="0.8" filter="url(#b1)"/>
<circle cx="228" cy="96" r="1.2" fill="#1a0000" opacity="0.8" filter="url(#b1)"/>
<path d="M265.2,88 C268.5,92 272.5,100 272.3,107 C272,113 269,117.5 265.5,119 C262,117.5 258.5,113 258.3,107 C258.2,100 262,92 265.2,88 Z" fill="#120000" filter="url(#b2)"/>
</g>
<mask id="mm2" maskUnits="userSpaceOnUse" x="0" y="0" width="685" height="200"><g transform="translate(166.2,0)"><polygon points="188.8,52.0 215.0,46.0 240.0,38.0 262.0,24.0 278.0,26.0 292.0,48.0 303.0,76.0 310.0,104.0 312.0,128.0 188.8,130.0" fill="#777" filter="url(#b8)"/><polygon points="188.8,80.0 205.0,75.0 225.0,66.0 245.0,54.0 260.0,44.0 271.0,38.0 279.0,42.0 286.0,56.0 296.0,80.0 304.0,102.0 307.0,128.0 188.8,128.0" fill="#fff" filter="url(#b5)"/></g></mask>
<mask id="mc2" maskUnits="userSpaceOnUse" x="0" y="0" width="685" height="200"><g transform="translate(166.2,0)"><polygon points="188.8,113.0 209.0,119.0 234.0,120.5 254.0,122.0 262.0,127.0 265.3,133.0 269.0,127.0 279.0,125.0 299.0,126.0 309.8,127.5 315.0,138.0 323.0,152.0 327.0,167.0 188.8,167.0" fill="#fff" filter="url(#b1)"/></g></mask>
<g clip-path="url(#c2)">
<linearGradient id="g2" x1="0" y1="0" x2="0" y2="1"><stop offset="0" stop-color="#151515"/><stop offset="0.5" stop-color="#1a1a1a"/><stop offset="1" stop-color="#1e1e1e"/></linearGradient>
<rect x="355.00" y="5.30" width="164.50" height="161.40" fill="url(#g2)" stroke="none" stroke-width="1" />
<g transform="translate(166.2,0)">
<polygon points="188.8,52.0 215.0,46.0 240.0,38.0 262.0,24.0 278.0,26.0 292.0,48.0 303.0,76.0 310.0,104.0 312.0,128.0 188.8,130.0" fill="#262626" filter="url(#b8)"/>
<polygon points="188.8,80.0 205.0,75.0 225.0,66.0 245.0,54.0 260.0,44.0 271.0,38.0 279.0,42.0 286.0,56.0 296.0,80.0 304.0,102.0 307.0,128.0 188.8,128.0" fill="#424242" filter="url(#b5)"/>
<polygon points="212.0,100.0 238.0,80.0 257.0,62.0 271.0,52.0 283.0,62.0 292.0,88.0 298.0,116.0 212.0,116.0" fill="#686868" filter="url(#b8)"/>
</g>
<rect x="355.0" y="5.3" width="165" height="162" fill="url(#pwh)" mask="url(#mm2)" opacity="0.9"/>
<g transform="translate(166.2,0)">
<polygon points="188.8,113.0 209.0,119.0 234.0,120.5 254.0,122.0 262.0,127.0 265.3,133.0 269.0,127.0 279.0,125.0 299.0,126.0 309.8,127.5 315.0,138.0 323.0,152.0 327.0,167.0 188.8,167.0" fill="#5a5a5a" filter="url(#b1)"/>
<ellipse cx="234" cy="140" rx="15" ry="11" fill="#474747" filter="url(#b5)"/>
</g>
<rect x="355.0" y="5.3" width="165" height="162" fill="url(#pwh2)" mask="url(#mc2)" opacity="1"/>
<rect x="355.0" y="5.3" width="165" height="162" fill="url(#pwh)" mask="url(#mc2)" opacity="0.45"/>
<rect x="355.0" y="5.3" width="165" height="162" fill="url(#pdk)" mask="url(#mc2)" opacity="0.35"/>
<g transform="translate(0.0,0)">
<path d="M357,114 C370,118 395,119 420,121.5" stroke="#9a9a9a" stroke-width="1.6" fill="none" filter="url(#b1)"/>
<path d="M355,139 C363,141 370,146 378,152 C384,157 388,162 391,167" stroke="#9a9a9a" stroke-width="2.4" fill="none" filter="url(#b1)"/>
<path d="M371,122 C366,126 362,131 357,137" stroke="#9a9a9a" stroke-width="1.8" fill="none" filter="url(#b1)"/>
<path d="M355,114.5 C362,116 368,119 370.5,122 C367,126 361,131 355,135.5 Z" fill="#040404" filter="url(#b1)"/>
<path d="M355,143.3 C361,145 366,147 369,149 C375,152 379,155 382,158 C385,161 388,164 390,167 L355,167 Z" fill="#040404" filter="url(#b1)"/>
<path d="M476,129 C480,127.6 488,127.2 494,129 C500,131.5 505,136 510,140 C513,142.5 516,144.5 519,146 L519,151 C515,151.5 510,150.5 505,149.5 C500,149.5 495,151 491.5,152.5 C489.5,149 486.5,144 482.5,139.5 C479.5,136 477.5,132.5 476,129 Z" fill="#6a6a6a" filter="url(#b1)"/>
<ellipse cx="482.8" cy="137" rx="6.8" ry="3.3" transform="rotate(40 482.8 137)" fill="#070707" filter="url(#b1)"/>
<circle cx="492.8" cy="132.6" r="2.3" fill="#0a0a0a" filter="url(#b1)"/>
<circle cx="501" cy="141" r="2.0" fill="#1a1a1a" filter="url(#b1)"/>
<path d="M490.5,153 C495,150.5 501,149.8 506,150.2 C511,151.5 515,154.5 519,158 L519,167 L493.3,167 C492.8,162 492,157 490.5,153 Z" fill="#050505" filter="url(#b1)"/>
<ellipse cx="512.6" cy="157" rx="3.6" ry="3.0" fill="#dcdcdc" filter="url(#b1)"/>
<path d="M484,128.2 C488,127.8 492,128.4 495,129.8" stroke="#9a9a9a" stroke-width="1.6" fill="none" filter="url(#b1)"/>
</g>
<g transform="translate(166.2,0)">
<circle cx="264.7" cy="69" r="1.8" fill="#1e1e1e" opacity="0.85" filter="url(#b1)"/>
<circle cx="243" cy="79" r="1.5" fill="#1e1e1e" opacity="0.85" filter="url(#b1)"/>
<circle cx="239" cy="102" r="1.6" fill="#1e1e1e" opacity="0.85" filter="url(#b1)"/>
<circle cx="292.9" cy="90.7" r="2.0" fill="#1e1e1e" opacity="0.85" filter="url(#b1)"/>
<circle cx="296.7" cy="116.3" r="2.4" fill="#1e1e1e" opacity="0.85" filter="url(#b1)"/>
<circle cx="273.7" cy="81.7" r="1.3" fill="#1e1e1e" opacity="0.85" filter="url(#b1)"/>
<circle cx="248" cy="108" r="1.4" fill="#1e1e1e" opacity="0.85" filter="url(#b1)"/>
<circle cx="222" cy="62" r="1.2" fill="#1e1e1e" opacity="0.85" filter="url(#b1)"/>
<circle cx="286" cy="113" r="1.6" fill="#1e1e1e" opacity="0.85" filter="url(#b1)"/>
<circle cx="228" cy="96" r="1.2" fill="#1e1e1e" opacity="0.85" filter="url(#b1)"/>
<path d="M265.2,88 C268.5,92 272.5,100 272.3,107 C272,113 269,117.5 265.5,119 C262,117.5 258.5,113 258.3,107 C258.2,100 262,92 265.2,88 Z" fill="#161616" filter="url(#b2)"/>
</g>
</g>
<mask id="mm3" maskUnits="userSpaceOnUse" x="0" y="0" width="685" height="200"><g transform="translate(332.4,2)"><polygon points="188.8,52.0 215.0,46.0 240.0,38.0 262.0,24.0 278.0,26.0 292.0,48.0 303.0,76.0 310.0,104.0 312.0,128.0 188.8,130.0" fill="#777" filter="url(#b8)"/><polygon points="188.8,80.0 205.0,75.0 225.0,66.0 245.0,54.0 260.0,44.0 271.0,38.0 279.0,42.0 286.0,56.0 296.0,80.0 304.0,102.0 307.0,128.0 188.8,128.0" fill="#fff" filter="url(#b5)"/></g></mask>
<mask id="mc3" maskUnits="userSpaceOnUse" x="0" y="0" width="685" height="200"><g transform="translate(332.4,2)"><polygon points="188.8,113.0 209.0,119.0 234.0,120.5 254.0,122.0 262.0,127.0 265.3,133.0 269.0,127.0 279.0,125.0 299.0,126.0 309.8,127.5 315.0,138.0 323.0,152.0 327.0,167.0 188.8,167.0" fill="#fff" filter="url(#b1)"/></g></mask>
<g clip-path="url(#c3)">
<linearGradient id="g3" x1="0" y1="0" x2="0" y2="1"><stop offset="0" stop-color="#1a0a0a"/><stop offset="0.5" stop-color="#220e0e"/><stop offset="1" stop-color="#261010"/></linearGradient>
<rect x="521.20" y="5.30" width="164.50" height="161.40" fill="url(#g3)" stroke="none" stroke-width="1" />
<g transform="translate(332.4,2)">
<polygon points="188.8,52.0 215.0,46.0 240.0,38.0 262.0,24.0 278.0,26.0 292.0,48.0 303.0,76.0 310.0,104.0 312.0,128.0 188.8,130.0" fill="#341c1c" filter="url(#b8)"/>
<polygon points="188.8,80.0 205.0,75.0 225.0,66.0 245.0,54.0 260.0,44.0 271.0,38.0 279.0,42.0 286.0,56.0 296.0,80.0 304.0,102.0 307.0,128.0 188.8,128.0" fill="#543636" filter="url(#b5)"/>
<polygon points="212.0,100.0 238.0,80.0 257.0,62.0 271.0,52.0 283.0,62.0 292.0,88.0 298.0,116.0 212.0,116.0" fill="#784e4e" filter="url(#b8)"/>
</g>
<rect x="521.2" y="5.3" width="165" height="162" fill="url(#pwh)" mask="url(#mm3)" opacity="1.0"/>
<rect x="521.2" y="5.3" width="165" height="162" fill="url(#prd)" mask="url(#mm3)" opacity="0.3"/>
<g transform="translate(332.4,2)">
<polygon points="188.8,113.0 209.0,119.0 234.0,120.5 254.0,122.0 262.0,127.0 265.3,133.0 269.0,127.0 279.0,125.0 299.0,126.0 309.8,127.5 315.0,138.0 323.0,152.0 327.0,167.0 188.8,167.0" fill="#5a5858" filter="url(#b1)"/>
<ellipse cx="234" cy="140" rx="15" ry="11" fill="#474545" filter="url(#b5)"/>
</g>
<rect x="521.2" y="5.3" width="165" height="162" fill="url(#pwh2)" mask="url(#mc3)" opacity="1"/>
<rect x="521.2" y="5.3" width="165" height="162" fill="url(#pwh)" mask="url(#mc3)" opacity="0.45"/>
<rect x="521.2" y="5.3" width="165" height="162" fill="url(#pdk)" mask="url(#mc3)" opacity="0.35"/>
<g transform="translate(166.2,2)">
<path d="M357,114 C370,118 395,119 420,121.5" stroke="#9a9696" stroke-width="1.6" fill="none" filter="url(#b1)"/>
<path d="M355,139 C363,141 370,146 378,152 C384,157 388,162 391,167" stroke="#9a9696" stroke-width="2.4" fill="none" filter="url(#b1)"/>
<path d="M371,122 C366,126 362,131 357,137" stroke="#9a9696" stroke-width="1.8" fill="none" filter="url(#b1)"/>
<path d="M355,114.5 C362,116 368,119 370.5,122 C367,126 361,131 355,135.5 Z" fill="#040404" filter="url(#b1)"/>
<path d="M355,143.3 C361,145 366,147 369,149 C375,152 379,155 382,158 C385,161 388,164 390,167 L355,167 Z" fill="#040404" filter="url(#b1)"/>
<path d="M476,129 C480,127.6 488,127.2 494,129 C500,131.5 505,136 510,140 C513,142.5 516,144.5 519,146 L519,151 C515,151.5 510,150.5 505,149.5 C500,149.5 495,151 491.5,152.5 C489.5,149 486.5,144 482.5,139.5 C479.5,136 477.5,132.5 476,129 Z" fill="#686666" filter="url(#b1)"/>
<ellipse cx="482.8" cy="137" rx="6.8" ry="3.3" transform="rotate(40 482.8 137)" fill="#070707" filter="url(#b1)"/>
<circle cx="492.8" cy="132.6" r="2.3" fill="#0a0a0a" filter="url(#b1)"/>
<circle cx="501" cy="141" r="2.0" fill="#1a1a1a" filter="url(#b1)"/>
<path d="M490.5,153 C495,150.5 501,149.8 506,150.2 C511,151.5 515,154.5 519,158 L519,167 L493.3,167 C492.8,162 492,157 490.5,153 Z" fill="#050505" filter="url(#b1)"/>
<ellipse cx="512.6" cy="157" rx="3.6" ry="3.0" fill="#dcdcdc" filter="url(#b1)"/>
<path d="M484,128.2 C488,127.8 492,128.4 495,129.8" stroke="#9a9696" stroke-width="1.6" fill="none" filter="url(#b1)"/>
</g>
<g transform="translate(332.4,2)">
<circle cx="264.7" cy="69" r="1.8" fill="#201414" opacity="0.85" filter="url(#b1)"/>
<circle cx="243" cy="79" r="1.5" fill="#201414" opacity="0.85" filter="url(#b1)"/>
<circle cx="239" cy="102" r="1.6" fill="#201414" opacity="0.85" filter="url(#b1)"/>
<circle cx="292.9" cy="90.7" r="2.0" fill="#201414" opacity="0.85" filter="url(#b1)"/>
<circle cx="296.7" cy="116.3" r="2.4" fill="#201414" opacity="0.85" filter="url(#b1)"/>
<circle cx="273.7" cy="81.7" r="1.3" fill="#201414" opacity="0.85" filter="url(#b1)"/>
<circle cx="248" cy="108" r="1.4" fill="#201414" opacity="0.85" filter="url(#b1)"/>
<circle cx="222" cy="62" r="1.2" fill="#201414" opacity="0.85" filter="url(#b1)"/>
<circle cx="286" cy="113" r="1.6" fill="#201414" opacity="0.85" filter="url(#b1)"/>
<circle cx="228" cy="96" r="1.2" fill="#201414" opacity="0.85" filter="url(#b1)"/>
<path d="M265.2,88 C268.5,92 272.5,100 272.3,107 C272,113 269,117.5 265.5,119 C262,117.5 258.5,113 258.3,107 C258.2,100 262,92 265.2,88 Z" fill="#160c0c" filter="url(#b2)"/>
</g>
</g>
<text x="193.60" y="18.60" font-size="10" font-weight="bold" fill="#ee1111" text-anchor="start" >hM3D(Gq)</text>
<text x="361.20" y="18.80" font-size="10" font-weight="bold" fill="#f4f4f4" text-anchor="start" >nNOS</text>
<text x="527.2" y="19.6" font-size="10" font-weight="bold" textLength="76" lengthAdjust="spacingAndGlyphs"><tspan fill="#ee1111">hM3D(Gq)/</tspan><tspan fill="#f4f4f4"> nNOS</tspan></text>
<line x1="271.40" y1="62.10" x2="286.70" y2="52.30" stroke="#eee000" stroke-width="1.5" />
<text x="291.60" y="53.00" font-size="8.1" fill="#eee000" text-anchor="start" >MePO</text>
<text x="260.80" y="111.10" font-size="7.6" fill="#eee000" text-anchor="start" >OV</text>
<line x1="437.40" y1="61.80" x2="452.70" y2="52.30" stroke="#eee000" stroke-width="1.5" />
<text x="457.80" y="53.00" font-size="8.1" fill="#eee000" text-anchor="start" >MePO</text>
<text x="427.10" y="111.40" font-size="7.6" fill="#eee000" text-anchor="start" >OV</text>
<line x1="603.10" y1="65.40" x2="618.50" y2="55.40" stroke="#eee000" stroke-width="1.5" />
<text x="623.60" y="56.20" font-size="8.1" fill="#eee000" text-anchor="start" >MePO</text>
<text x="592.90" y="113.60" font-size="7.6" fill="#eee000" text-anchor="start" >OV</text>
<text x="191.70" y="161.40" font-size="5.2" fill="#eee000" text-anchor="start" >50 µm</text>
<line x1="192.00" y1="163.60" x2="200.50" y2="163.60" stroke="#eee000" stroke-width="1.5" />
<text x="-0.20" y="331.40" font-size="10.8" font-weight="bold" fill="#111" text-anchor="start" >C</text>
<rect x="10.80" y="349.70" width="12.00" height="209.70" fill="#f8e9c0" stroke="none" stroke-width="1" />
<rect x="151.70" y="353.20" width="165.30" height="197.50" fill="#e3e3e3" stroke="none" stroke-width="1" />
<text x="9.90" y="348.20" font-size="10.5" fill="#2a4cff" text-anchor="start" >saline</text>
<text x="3.40" y="359.20" font-size="10.5" fill="#ff6a14" text-anchor="start" >L-NAME</text>
<line x1="17.40" y1="364.80" x2="17.40" y2="384.50" stroke="#000" stroke-width="1.6" />
<path d="M13.9,383.3 L20.9,383.3 L17.4,390.6 Z" fill="#000"/>
<text x="143.10" y="359.00" font-size="10.5" font-weight="bold" fill="#111" text-anchor="start" >CNO</text>
<line x1="152.40" y1="364.30" x2="152.40" y2="384.50" stroke="#000" stroke-width="1.6" />
<path d="M148.6,383.2 L156.2,383.2 L152.4,390.4 Z" fill="#000"/>
<line x1="58.50" y1="353.30" x2="58.50" y2="551.50" stroke="#222" stroke-width="1" />
<line x1="15.40" y1="551.20" x2="317.00" y2="551.20" stroke="#222" stroke-width="1" />
<line x1="55.30" y1="526.49" x2="58.50" y2="526.49" stroke="#222" stroke-width="0.9" />
<text x="52.20" y="528.89" font-size="9.0" fill="#222" text-anchor="end" >1</text>
<line x1="55.30" y1="501.78" x2="58.50" y2="501.78" stroke="#222" stroke-width="0.9" />
<text x="52.20" y="504.18" font-size="9.0" fill="#222" text-anchor="end" >2</text>
<line x1="55.30" y1="477.07" x2="58.50" y2="477.07" stroke="#222" stroke-width="0.9" />
<text x="52.20" y="479.47" font-size="9.0" fill="#222" text-anchor="end" >3</text>
<line x1="55.30" y1="452.36" x2="58.50" y2="452.36" stroke="#222" stroke-width="0.9" />
<text x="52.20" y="454.76" font-size="9.0" fill="#222" text-anchor="end" >4</text>
<line x1="55.30" y1="427.65" x2="58.50" y2="427.65" stroke="#222" stroke-width="0.9" />
<text x="52.20" y="430.05" font-size="9.0" fill="#222" text-anchor="end" >5</text>
<line x1="55.30" y1="402.94" x2="58.50" y2="402.94" stroke="#222" stroke-width="0.9" />
<text x="52.20" y="405.34" font-size="9.0" fill="#222" text-anchor="end" >6</text>
<line x1="55.30" y1="378.23" x2="58.50" y2="378.23" stroke="#222" stroke-width="0.9" />
<text x="52.20" y="380.63" font-size="9.0" fill="#222" text-anchor="end" >7</text>
<line x1="55.30" y1="353.52" x2="58.50" y2="353.52" stroke="#222" stroke-width="0.9" />
<text x="52.20" y="355.92" font-size="9.0" fill="#222" text-anchor="end" >8</text>
<line x1="15.48" y1="551.20" x2="15.48" y2="553.60" stroke="#222" stroke-width="0.9" />
<text x="15.48" y="563.80" font-size="8.5" fill="#222" text-anchor="middle" >-30</text>
<line x1="29.82" y1="551.20" x2="29.82" y2="553.60" stroke="#222" stroke-width="0.9" />
<text x="29.82" y="563.80" font-size="8.5" fill="#222" text-anchor="middle" >-20</text>
<line x1="44.16" y1="551.20" x2="44.16" y2="553.60" stroke="#222" stroke-width="0.9" />
<text x="44.16" y="563.80" font-size="8.5" fill="#222" text-anchor="middle" >-10</text>
<line x1="58.50" y1="551.20" x2="58.50" y2="553.60" stroke="#222" stroke-width="0.9" />
<text x="58.50" y="563.80" font-size="8.5" fill="#222" text-anchor="middle" >0</text>
<line x1="72.84" y1="551.20" x2="72.84" y2="553.60" stroke="#222" stroke-width="0.9" />
<text x="72.84" y="563.80" font-size="8.5" fill="#222" text-anchor="middle" >10</text>
<line x1="87.18" y1="551.20" x2="87.18" y2="553.60" stroke="#222" stroke-width="0.9" />
<text x="87.18" y="563.80" font-size="8.5" fill="#222" text-anchor="middle" >20</text>
<line x1="101.52" y1="551.20" x2="101.52" y2="553.60" stroke="#222" stroke-width="0.9" />
<text x="101.52" y="563.80" font-size="8.5" fill="#222" text-anchor="middle" >30</text>
<line x1="115.86" y1="551.20" x2="115.86" y2="553.60" stroke="#222" stroke-width="0.9" />
<text x="115.86" y="563.80" font-size="8.5" fill="#222" text-anchor="middle" >40</text>
<line x1="130.19" y1="551.20" x2="130.19" y2="553.60" stroke="#222" stroke-width="0.9" />
<text x="130.19" y="563.80" font-size="8.5" fill="#222" text-anchor="middle" >50</text>
<line x1="144.53" y1="551.20" x2="144.53" y2="553.60" stroke="#222" stroke-width="0.9" />
<text x="144.53" y="563.80" font-size="8.5" fill="#222" text-anchor="middle" >60</text>
<line x1="158.87" y1="551.20" x2="158.87" y2="553.60" stroke="#222" stroke-width="0.9" />
<text x="158.87" y="563.80" font-size="8.5" fill="#222" text-anchor="middle" >70</text>
<line x1="173.21" y1="551.20" x2="173.21" y2="553.60" stroke="#222" stroke-width="0.9" />
<text x="173.21" y="563.80" font-size="8.5" fill="#222" text-anchor="middle" >80</text>
<line x1="187.55" y1="551.20" x2="187.55" y2="553.60" stroke="#222" stroke-width="0.9" />
<text x="187.55" y="563.80" font-size="8.5" fill="#222" text-anchor="middle" >90</text>
<line x1="201.89" y1="551.20" x2="201.89" y2="553.60" stroke="#222" stroke-width="0.9" />
<text x="201.89" y="563.80" font-size="8.5" fill="#222" text-anchor="middle" >100</text>
<line x1="216.23" y1="551.20" x2="216.23" y2="553.60" stroke="#222" stroke-width="0.9" />
<text x="216.23" y="563.80" font-size="8.5" fill="#222" text-anchor="middle" >110</text>
<line x1="230.57" y1="551.20" x2="230.57" y2="553.60" stroke="#222" stroke-width="0.9" />
<text x="230.57" y="563.80" font-size="8.5" fill="#222" text-anchor="middle" >120</text>
<line x1="244.91" y1="551.20" x2="244.91" y2="553.60" stroke="#222" stroke-width="0.9" />
<text x="244.91" y="563.80" font-size="8.5" fill="#222" text-anchor="middle" >130</text>
<line x1="259.24" y1="551.20" x2="259.24" y2="553.60" stroke="#222" stroke-width="0.9" />
<text x="259.24" y="563.80" font-size="8.5" fill="#222" text-anchor="middle" >140</text>
<line x1="273.58" y1="551.20" x2="273.58" y2="553.60" stroke="#222" stroke-width="0.9" />
<text x="273.58" y="563.80" font-size="8.5" fill="#222" text-anchor="middle" >150</text>
<line x1="287.92" y1="551.20" x2="287.92" y2="553.60" stroke="#222" stroke-width="0.9" />
<text x="287.92" y="563.80" font-size="8.5" fill="#222" text-anchor="middle" >160</text>
<line x1="302.26" y1="551.20" x2="302.26" y2="553.60" stroke="#222" stroke-width="0.9" />
<text x="302.26" y="563.80" font-size="8.5" fill="#222" text-anchor="middle" >170</text>
<line x1="316.60" y1="551.20" x2="316.60" y2="553.60" stroke="#222" stroke-width="0.9" />
<text x="316.60" y="563.80" font-size="8.5" fill="#222" text-anchor="middle" >180</text>
<text transform="translate(32.7,453.35) rotate(-90)" font-size="9.45" fill="#222" text-anchor="middle">LH (ng/mL)</text>
<line x1="58.50" y1="532.70" x2="58.50" y2="530.00" stroke="#f5a050" stroke-width="0.9" />
<line x1="57.30" y1="530.00" x2="59.70" y2="530.00" stroke="#f5a050" stroke-width="0.9" />
<line x1="72.84" y1="536.50" x2="72.84" y2="534.00" stroke="#f5a050" stroke-width="0.9" />
<line x1="71.64" y1="534.00" x2="74.04" y2="534.00" stroke="#f5a050" stroke-width="0.9" />
<line x1="87.18" y1="530.00" x2="87.18" y2="523.40" stroke="#f5a050" stroke-width="0.9" />
<line x1="85.98" y1="523.40" x2="88.38" y2="523.40" stroke="#f5a050" stroke-width="0.9" />
<line x1="101.52" y1="534.00" x2="101.52" y2="532.00" stroke="#f5a050" stroke-width="0.9" />
<line x1="100.32" y1="532.00" x2="102.72" y2="532.00" stroke="#f5a050" stroke-width="0.9" />
<line x1="115.86" y1="533.70" x2="115.86" y2="531.00" stroke="#f5a050" stroke-width="0.9" />
<line x1="114.66" y1="531.00" x2="117.06" y2="531.00" stroke="#f5a050" stroke-width="0.9" />
<line x1="130.19" y1="540.80" x2="130.19" y2="538.00" stroke="#f5a050" stroke-width="0.9" />
<line x1="128.99" y1="538.00" x2="131.39" y2="538.00" stroke="#f5a050" stroke-width="0.9" />
<line x1="144.53" y1="537.70" x2="144.53" y2="535.00" stroke="#f5a050" stroke-width="0.9" />
<line x1="143.33" y1="535.00" x2="145.73" y2="535.00" stroke="#f5a050" stroke-width="0.9" />
<line x1="158.87" y1="527.70" x2="158.87" y2="525.00" stroke="#f5a050" stroke-width="0.9" />
<line x1="157.67" y1="525.00" x2="160.07" y2="525.00" stroke="#f5a050" stroke-width="0.9" />
<line x1="173.21" y1="513.10" x2="173.21" y2="510.00" stroke="#f5a050" stroke-width="0.9" />
<line x1="172.01" y1="510.00" x2="174.41" y2="510.00" stroke="#f5a050" stroke-width="0.9" />
<line x1="187.55" y1="511.90" x2="187.55" y2="509.00" stroke="#f5a050" stroke-width="0.9" />
<line x1="186.35" y1="509.00" x2="188.75" y2="509.00" stroke="#f5a050" stroke-width="0.9" />
<line x1="201.89" y1="509.00" x2="201.89" y2="506.00" stroke="#f5a050" stroke-width="0.9" />
<line x1="200.69" y1="506.00" x2="203.09" y2="506.00" stroke="#f5a050" stroke-width="0.9" />
<line x1="216.23" y1="508.80" x2="216.23" y2="503.60" stroke="#f5a050" stroke-width="0.9" />
<line x1="215.03" y1="503.60" x2="217.43" y2="503.60" stroke="#f5a050" stroke-width="0.9" />
<line x1="230.57" y1="511.60" x2="230.57" y2="506.30" stroke="#f5a050" stroke-width="0.9" />
<line x1="229.37" y1="506.30" x2="231.77" y2="506.30" stroke="#f5a050" stroke-width="0.9" />
<line x1="244.91" y1="512.90" x2="244.91" y2="508.40" stroke="#f5a050" stroke-width="0.9" />
<line x1="243.71" y1="508.40" x2="246.11" y2="508.40" stroke="#f5a050" stroke-width="0.9" />
<line x1="259.24" y1="507.30" x2="259.24" y2="503.60" stroke="#f5a050" stroke-width="0.9" />
<line x1="258.04" y1="503.60" x2="260.44" y2="503.60" stroke="#f5a050" stroke-width="0.9" />
<line x1="273.58" y1="502.70" x2="273.58" y2="497.40" stroke="#f5a050" stroke-width="0.9" />
<line x1="272.38" y1="497.40" x2="274.78" y2="497.40" stroke="#f5a050" stroke-width="0.9" />
<line x1="287.92" y1="505.50" x2="287.92" y2="499.70" stroke="#f5a050" stroke-width="0.9" />
<line x1="286.72" y1="499.70" x2="289.12" y2="499.70" stroke="#f5a050" stroke-width="0.9" />
<line x1="302.26" y1="504.00" x2="302.26" y2="497.40" stroke="#f5a050" stroke-width="0.9" />
<line x1="301.06" y1="497.40" x2="303.46" y2="497.40" stroke="#f5a050" stroke-width="0.9" />
<line x1="316.60" y1="505.00" x2="316.60" y2="499.70" stroke="#f5a050" stroke-width="0.9" />
<line x1="315.40" y1="499.70" x2="317.80" y2="499.70" stroke="#f5a050" stroke-width="0.9" />
<line x1="58.50" y1="532.10" x2="58.50" y2="528.60" stroke="#3a3aa0" stroke-width="0.9" />
<line x1="57.30" y1="528.60" x2="59.70" y2="528.60" stroke="#3a3aa0" stroke-width="0.9" />
<line x1="72.84" y1="536.80" x2="72.84" y2="534.50" stroke="#3a3aa0" stroke-width="0.9" />
<line x1="71.64" y1="534.50" x2="74.04" y2="534.50" stroke="#3a3aa0" stroke-width="0.9" />
<line x1="87.18" y1="537.20" x2="87.18" y2="535.00" stroke="#3a3aa0" stroke-width="0.9" />
<line x1="85.98" y1="535.00" x2="88.38" y2="535.00" stroke="#3a3aa0" stroke-width="0.9" />
<line x1="101.52" y1="533.70" x2="101.52" y2="531.00" stroke="#3a3aa0" stroke-width="0.9" />
<line x1="100.32" y1="531.00" x2="102.72" y2="531.00" stroke="#3a3aa0" stroke-width="0.9" />
<line x1="115.86" y1="532.50" x2="115.86" y2="527.70" stroke="#3a3aa0" stroke-width="0.9" />
<line x1="114.66" y1="527.70" x2="117.06" y2="527.70" stroke="#3a3aa0" stroke-width="0.9" />
<line x1="130.19" y1="537.20" x2="130.19" y2="533.70" stroke="#3a3aa0" stroke-width="0.9" />
<line x1="128.99" y1="533.70" x2="131.39" y2="533.70" stroke="#3a3aa0" stroke-width="0.9" />
<line x1="144.53" y1="529.60" x2="144.53" y2="522.30" stroke="#3a3aa0" stroke-width="0.9" />
<line x1="143.33" y1="522.30" x2="145.73" y2="522.30" stroke="#3a3aa0" stroke-width="0.9" />
<line x1="158.87" y1="520.20" x2="158.87" y2="512.40" stroke="#3a3aa0" stroke-width="0.9" />
<line x1="157.67" y1="512.40" x2="160.07" y2="512.40" stroke="#3a3aa0" stroke-width="0.9" />
<line x1="173.21" y1="512.80" x2="173.21" y2="506.40" stroke="#3a3aa0" stroke-width="0.9" />
<line x1="172.01" y1="506.40" x2="174.41" y2="506.40" stroke="#3a3aa0" stroke-width="0.9" />
<line x1="187.55" y1="507.60" x2="187.55" y2="502.40" stroke="#3a3aa0" stroke-width="0.9" />
<line x1="186.35" y1="502.40" x2="188.75" y2="502.40" stroke="#3a3aa0" stroke-width="0.9" />
<line x1="201.89" y1="503.60" x2="201.89" y2="495.30" stroke="#3a3aa0" stroke-width="0.9" />
<line x1="200.69" y1="495.30" x2="203.09" y2="495.30" stroke="#3a3aa0" stroke-width="0.9" />
<line x1="216.23" y1="492.20" x2="216.23" y2="483.50" stroke="#3a3aa0" stroke-width="0.9" />
<line x1="215.03" y1="483.50" x2="217.43" y2="483.50" stroke="#3a3aa0" stroke-width="0.9" />
<line x1="230.57" y1="472.10" x2="230.57" y2="455.50" stroke="#3a3aa0" stroke-width="0.9" />
<line x1="229.37" y1="455.50" x2="231.77" y2="455.50" stroke="#3a3aa0" stroke-width="0.9" />
<line x1="244.91" y1="461.00" x2="244.91" y2="440.10" stroke="#3a3aa0" stroke-width="0.9" />
<line x1="243.71" y1="440.10" x2="246.11" y2="440.10" stroke="#3a3aa0" stroke-width="0.9" />
<line x1="259.24" y1="446.00" x2="259.24" y2="420.00" stroke="#3a3aa0" stroke-width="0.9" />
<line x1="258.04" y1="420.00" x2="260.44" y2="420.00" stroke="#3a3aa0" stroke-width="0.9" />
<line x1="273.58" y1="447.70" x2="273.58" y2="423.00" stroke="#3a3aa0" stroke-width="0.9" />
<line x1="272.38" y1="423.00" x2="274.78" y2="423.00" stroke="#3a3aa0" stroke-width="0.9" />
<line x1="287.92" y1="434.70" x2="287.92" y2="400.60" stroke="#3a3aa0" stroke-width="0.9" />
<line x1="286.72" y1="400.60" x2="289.12" y2="400.60" stroke="#3a3aa0" stroke-width="0.9" />
<line x1="302.26" y1="424.20" x2="302.26" y2="388.00" stroke="#3a3aa0" stroke-width="0.9" />
<line x1="301.06" y1="388.00" x2="303.46" y2="388.00" stroke="#3a3aa0" stroke-width="0.9" />
<line x1="316.60" y1="424.70" x2="316.60" y2="388.00" stroke="#3a3aa0" stroke-width="0.9" />
<line x1="315.40" y1="388.00" x2="317.80" y2="388.00" stroke="#3a3aa0" stroke-width="0.9" />
<path d="M58.50,532.70 C60.89,533.33 68.06,536.95 72.84,536.50 C77.62,536.05 82.40,530.42 87.18,530.00 C91.96,529.58 96.74,533.38 101.52,534.00 C106.30,534.62 111.08,532.57 115.86,533.70 C120.64,534.83 125.41,540.13 130.19,540.80 C134.97,541.47 139.75,539.88 144.53,537.70 C149.31,535.52 154.09,531.80 158.87,527.70 C163.65,523.60 168.43,515.73 173.21,513.10 C177.99,510.47 182.77,512.58 187.55,511.90 C192.33,511.22 197.11,509.52 201.89,509.00 C206.67,508.48 211.45,508.37 216.23,508.80 C221.01,509.23 225.79,510.92 230.57,511.60 C235.35,512.28 240.13,513.62 244.91,512.90 C249.69,512.18 254.46,509.00 259.24,507.30 C264.02,505.60 268.80,503.00 273.58,502.70 C278.36,502.40 283.14,505.28 287.92,505.50 C292.70,505.72 297.48,504.08 302.26,504.00 C307.04,503.92 314.21,504.83 316.60,505.00" fill="none" stroke="#f0953a" stroke-width="1.1"/>
<polyline points="58.50,532.10 72.84,536.80 87.18,537.20 101.52,533.70 115.86,532.50 130.19,537.20 144.53,529.60 158.87,520.20 173.21,512.80 187.55,507.60 201.89,503.60 216.23,492.20 230.57,472.10 244.91,461.00 259.24,446.00 273.58,447.70 287.92,434.70 302.26,424.20 316.60,424.70" fill="none" stroke="#34349a" stroke-width="1.1"/>
<rect x="56.70" y="530.90" width="3.60" height="3.60" fill="#f58a1f" stroke="#3a2000" stroke-width="0.8" />
<rect x="71.04" y="534.70" width="3.60" height="3.60" fill="#f58a1f" stroke="#3a2000" stroke-width="0.8" />
<rect x="85.38" y="528.20" width="3.60" height="3.60" fill="#f58a1f" stroke="#3a2000" stroke-width="0.8" />
<rect x="99.72" y="532.20" width="3.60" height="3.60" fill="#f58a1f" stroke="#3a2000" stroke-width="0.8" />
<rect x="114.06" y="531.90" width="3.60" height="3.60" fill="#f58a1f" stroke="#3a2000" stroke-width="0.8" />
<rect x="128.39" y="539.00" width="3.60" height="3.60" fill="#f58a1f" stroke="#3a2000" stroke-width="0.8" />
<rect x="142.73" y="535.90" width="3.60" height="3.60" fill="#f58a1f" stroke="#3a2000" stroke-width="0.8" />
<rect x="157.07" y="525.90" width="3.60" height="3.60" fill="#f58a1f" stroke="#3a2000" stroke-width="0.8" />
<rect x="171.41" y="511.30" width="3.60" height="3.60" fill="#f58a1f" stroke="#3a2000" stroke-width="0.8" />
<rect x="185.75" y="510.10" width="3.60" height="3.60" fill="#f58a1f" stroke="#3a2000" stroke-width="0.8" />
<rect x="200.09" y="507.20" width="3.60" height="3.60" fill="#f58a1f" stroke="#3a2000" stroke-width="0.8" />
<rect x="214.43" y="507.00" width="3.60" height="3.60" fill="#f58a1f" stroke="#3a2000" stroke-width="0.8" />
<rect x="228.77" y="509.80" width="3.60" height="3.60" fill="#f58a1f" stroke="#3a2000" stroke-width="0.8" />
<rect x="243.11" y="511.10" width="3.60" height="3.60" fill="#f58a1f" stroke="#3a2000" stroke-width="0.8" />
<rect x="257.44" y="505.50" width="3.60" height="3.60" fill="#f58a1f" stroke="#3a2000" stroke-width="0.8" />
<rect x="271.78" y="500.90" width="3.60" height="3.60" fill="#f58a1f" stroke="#3a2000" stroke-width="0.8" />
<rect x="286.12" y="503.70" width="3.60" height="3.60" fill="#f58a1f" stroke="#3a2000" stroke-width="0.8" />
<rect x="300.46" y="502.20" width="3.60" height="3.60" fill="#f58a1f" stroke="#3a2000" stroke-width="0.8" />
<rect x="314.80" y="503.20" width="3.60" height="3.60" fill="#f58a1f" stroke="#3a2000" stroke-width="0.8" />
<rect x="56.60" y="530.20" width="3.80" height="3.80" fill="#0a0a5a" stroke="#000040" stroke-width="0.6" />
<rect x="70.94" y="534.90" width="3.80" height="3.80" fill="#0a0a5a" stroke="#000040" stroke-width="0.6" />
<rect x="85.28" y="535.30" width="3.80" height="3.80" fill="#0a0a5a" stroke="#000040" stroke-width="0.6" />
<rect x="99.62" y="531.80" width="3.80" height="3.80" fill="#0a0a5a" stroke="#000040" stroke-width="0.6" />
<rect x="113.96" y="530.60" width="3.80" height="3.80" fill="#0a0a5a" stroke="#000040" stroke-width="0.6" />
<rect x="128.29" y="535.30" width="3.80" height="3.80" fill="#0a0a5a" stroke="#000040" stroke-width="0.6" />
<rect x="142.63" y="527.70" width="3.80" height="3.80" fill="#0a0a5a" stroke="#000040" stroke-width="0.6" />
<rect x="156.97" y="518.30" width="3.80" height="3.80" fill="#0a0a5a" stroke="#000040" stroke-width="0.6" />
<rect x="171.31" y="510.90" width="3.80" height="3.80" fill="#0a0a5a" stroke="#000040" stroke-width="0.6" />
<rect x="185.65" y="505.70" width="3.80" height="3.80" fill="#0a0a5a" stroke="#000040" stroke-width="0.6" />
<rect x="199.99" y="501.70" width="3.80" height="3.80" fill="#0a0a5a" stroke="#000040" stroke-width="0.6" />
<rect x="214.33" y="490.30" width="3.80" height="3.80" fill="#0a0a5a" stroke="#000040" stroke-width="0.6" />
<rect x="228.67" y="470.20" width="3.80" height="3.80" fill="#0a0a5a" stroke="#000040" stroke-width="0.6" />
<rect x="243.01" y="459.10" width="3.80" height="3.80" fill="#0a0a5a" stroke="#000040" stroke-width="0.6" />
<rect x="257.34" y="444.10" width="3.80" height="3.80" fill="#0a0a5a" stroke="#000040" stroke-width="0.6" />
<rect x="271.68" y="445.80" width="3.80" height="3.80" fill="#0a0a5a" stroke="#000040" stroke-width="0.6" />
<rect x="286.02" y="432.80" width="3.80" height="3.80" fill="#0a0a5a" stroke="#000040" stroke-width="0.6" />
<rect x="300.36" y="422.30" width="3.80" height="3.80" fill="#0a0a5a" stroke="#000040" stroke-width="0.6" />
<rect x="314.70" y="422.80" width="3.80" height="3.80" fill="#0a0a5a" stroke="#000040" stroke-width="0.6" />
<rect x="282.60" y="365.50" width="42.80" height="163.70" fill="none" stroke="#e82222" stroke-width="1.3" stroke-dasharray="4.2 3"/>
<text x="289.05" y="494.50" font-size="15.8" font-weight="bold" fill="#111" text-anchor="middle" letter-spacing="1">*</text>
<text x="303.35" y="483.30" font-size="15.8" font-weight="bold" fill="#111" text-anchor="middle" letter-spacing="1">**</text>
<text x="318.15" y="494.50" font-size="15.8" font-weight="bold" fill="#111" text-anchor="middle" letter-spacing="1">**</text>
<line x1="383.60" y1="174.70" x2="383.60" y2="342.80" stroke="#a8a8a8" stroke-width="1.4" />
<line x1="380.60" y1="342.30" x2="383.60" y2="342.30" stroke="#a8a8a8" stroke-width="1" />
<text x="380.20" y="345.20" font-size="8.2" fill="#222" text-anchor="end" >0</text>
<line x1="380.60" y1="300.48" x2="383.60" y2="300.48" stroke="#a8a8a8" stroke-width="1" />
<text x="380.20" y="303.38" font-size="8.2" fill="#222" text-anchor="end" >200</text>
<line x1="380.60" y1="258.65" x2="383.60" y2="258.65" stroke="#a8a8a8" stroke-width="1" />
<text x="380.20" y="261.55" font-size="8.2" fill="#222" text-anchor="end" >400</text>
<line x1="380.60" y1="216.82" x2="383.60" y2="216.82" stroke="#a8a8a8" stroke-width="1" />
<text x="380.20" y="219.72" font-size="8.2" fill="#222" text-anchor="end" >600</text>
<line x1="380.60" y1="175.00" x2="383.60" y2="175.00" stroke="#a8a8a8" stroke-width="1" />
<text x="380.20" y="177.90" font-size="8.2" fill="#222" text-anchor="end" >800</text>
<line x1="381.80" y1="321.39" x2="383.60" y2="321.39" stroke="#a8a8a8" stroke-width="0.9" />
<line x1="381.80" y1="279.56" x2="383.60" y2="279.56" stroke="#a8a8a8" stroke-width="0.9" />
<line x1="381.80" y1="237.74" x2="383.60" y2="237.74" stroke="#a8a8a8" stroke-width="0.9" />
<line x1="381.80" y1="195.91" x2="383.60" y2="195.91" stroke="#a8a8a8" stroke-width="0.9" />
<rect x="394.00" y="338.60" width="20.20" height="3.70" fill="#fff" stroke="#3a3ab4" stroke-width="1"/>
<rect x="441.60" y="339.20" width="20.00" height="3.10" fill="#fff" stroke="#ff9c45" stroke-width="1"/>
<rect x="416.50" y="281.00" width="19.50" height="61.30" fill="#00007f" stroke="none" stroke-width="1" />
<rect x="464.00" y="315.20" width="20.00" height="27.10" fill="#ff8000" stroke="none" stroke-width="1" />
<line x1="426.40" y1="281.00" x2="426.40" y2="242.00" stroke="#4a4ad8" stroke-width="1" />
<line x1="423.80" y1="242.00" x2="429.00" y2="242.00" stroke="#4a4ad8" stroke-width="1" />
<line x1="474.00" y1="315.20" x2="474.00" y2="307.40" stroke="#ffb066" stroke-width="1" />
<line x1="471.40" y1="307.40" x2="476.60" y2="307.40" stroke="#ffb066" stroke-width="1" />
<line x1="381.00" y1="342.30" x2="494.00" y2="342.30" stroke="#333" stroke-width="1.0" />
<rect x="393.50" y="338.30" width="3.80" height="3.80" fill="none" stroke="#3a3ab4" stroke-width="0.9" />
<rect x="397.80" y="335.90" width="3.80" height="3.80" fill="none" stroke="#3a3ab4" stroke-width="0.9" />
<rect x="401.80" y="331.90" width="3.80" height="3.80" fill="none" stroke="#3a3ab4" stroke-width="0.9" />
<rect x="401.80" y="337.50" width="3.80" height="3.80" fill="none" stroke="#3a3ab4" stroke-width="0.9" />
<rect x="406.20" y="337.10" width="3.80" height="3.80" fill="none" stroke="#3a3ab4" stroke-width="0.9" />
<rect x="410.20" y="338.80" width="3.80" height="3.80" fill="none" stroke="#3a3ab4" stroke-width="0.9" />
<rect x="441.60" y="336.40" width="3.80" height="3.80" fill="none" stroke="#ff9c45" stroke-width="0.9" />
<rect x="441.60" y="339.10" width="3.80" height="3.80" fill="none" stroke="#ff9c45" stroke-width="0.9" />
<rect x="446.70" y="335.10" width="3.80" height="3.80" fill="none" stroke="#ff9c45" stroke-width="0.9" />
<rect x="450.70" y="336.70" width="3.80" height="3.80" fill="none" stroke="#ff9c45" stroke-width="0.9" />
<rect x="454.70" y="338.40" width="3.80" height="3.80" fill="none" stroke="#ff9c45" stroke-width="0.9" />
<rect x="457.70" y="333.90" width="3.80" height="3.80" fill="none" stroke="#ff9c45" stroke-width="0.9" />
<line x1="426.40" y1="211.30" x2="473.70" y2="312.10" stroke="#555" stroke-width="0.6" />
<line x1="426.40" y1="271.80" x2="477.30" y2="316.30" stroke="#555" stroke-width="0.6" />
<line x1="429.70" y1="282.40" x2="473.70" y2="300.70" stroke="#555" stroke-width="0.6" />
<line x1="422.70" y1="284.40" x2="470.00" y2="317.60" stroke="#555" stroke-width="0.6" />
<line x1="422.70" y1="318.00" x2="477.30" y2="320.40" stroke="#555" stroke-width="0.6" />
<line x1="429.70" y1="317.70" x2="473.70" y2="324.20" stroke="#555" stroke-width="0.6" />
<rect x="424.40" y="209.30" width="4.00" height="4.00" fill="#5b5bf2" stroke="#3030c8" stroke-width="0.7" />
<rect x="424.40" y="269.80" width="4.00" height="4.00" fill="#5b5bf2" stroke="#3030c8" stroke-width="0.7" />
<rect x="427.70" y="280.40" width="4.00" height="4.00" fill="#5b5bf2" stroke="#3030c8" stroke-width="0.7" />
<rect x="420.70" y="282.40" width="4.00" height="4.00" fill="#5b5bf2" stroke="#3030c8" stroke-width="0.7" />
<rect x="420.70" y="316.00" width="4.00" height="4.00" fill="#5b5bf2" stroke="#3030c8" stroke-width="0.7" />
<rect x="427.70" y="315.70" width="4.00" height="4.00" fill="#5b5bf2" stroke="#3030c8" stroke-width="0.7" />
<rect x="471.80" y="298.80" width="3.80" height="3.80" fill="#f88a22" stroke="#1a1000" stroke-width="0.9" />
<rect x="471.80" y="310.20" width="3.80" height="3.80" fill="#f88a22" stroke="#1a1000" stroke-width="0.9" />
<rect x="468.10" y="315.70" width="3.80" height="3.80" fill="#f88a22" stroke="#1a1000" stroke-width="0.9" />
<rect x="475.40" y="314.40" width="3.80" height="3.80" fill="#f88a22" stroke="#1a1000" stroke-width="0.9" />
<rect x="475.40" y="318.50" width="3.80" height="3.80" fill="#f88a22" stroke="#1a1000" stroke-width="0.9" />
<rect x="471.80" y="322.30" width="3.80" height="3.80" fill="#f88a22" stroke="#1a1000" stroke-width="0.9" />
<polyline points="403.30,201.60 403.30,198.40 424.90,198.40 424.90,201.60" fill="none" stroke="#444" stroke-width="1"/>
<polyline points="449.20,200.00 449.20,195.20 477.60,195.20 477.60,200.00" fill="none" stroke="#444" stroke-width="1"/>
<polyline points="452.60,279.60 452.60,276.50 474.80,276.50 474.80,279.60" fill="none" stroke="#444" stroke-width="1"/>
<text x="414.60" y="198.50" font-size="15.8" font-weight="bold" fill="#111" text-anchor="middle" letter-spacing="1">***</text>
<text x="464.40" y="198.50" font-size="15.8" font-weight="bold" fill="#111" text-anchor="middle" letter-spacing="1">**</text>
<text x="463.90" y="273.10" font-size="10" fill="#222" text-anchor="middle" >ns</text>
<line x1="394.90" y1="345.30" x2="435.20" y2="345.30" stroke="#111" stroke-width="1.1" />
<line x1="443.20" y1="345.30" x2="483.60" y2="345.30" stroke="#ff8436" stroke-width="1.1" />
<text x="413.05" y="355.00" font-size="7.9" fill="#222" text-anchor="middle" >saline</text>
<text x="461.40" y="355.00" font-size="7.9" fill="#f8701c" text-anchor="middle" >L-NAME</text>
<text transform="translate(403.60,362.90) rotate(-45)" font-size="8.09" fill="#1a1a1a" text-anchor="end">Pre CNO</text>
<text transform="translate(423.90,362.60) rotate(-45)" font-size="8.09" fill="#1a1a1a" text-anchor="end">Post CNO</text>
<text transform="translate(457.40,362.90) rotate(-45)" font-size="8.09" fill="#1a1a1a" text-anchor="end">Pre CNO</text>
<text transform="translate(478.20,362.60) rotate(-45)" font-size="8.09" fill="#1a1a1a" text-anchor="end">Post CNO</text>
<text transform="translate(352.90,254.75) rotate(-90)" font-size="8.4" fill="#222" text-anchor="middle">AUC (total area)</text>
<text x="328.70" y="179.00" font-size="10.8" font-weight="bold" fill="#111" text-anchor="start" >D</text>
<line x1="558.80" y1="171.90" x2="558.80" y2="341.90" stroke="#a8a8a8" stroke-width="1.4" />
<line x1="555.80" y1="341.40" x2="558.80" y2="341.40" stroke="#a8a8a8" stroke-width="1" />
<text x="555.40" y="344.30" font-size="8.2" fill="#222" text-anchor="end" >0</text>
<line x1="555.80" y1="299.10" x2="558.80" y2="299.10" stroke="#a8a8a8" stroke-width="1" />
<text x="555.40" y="302.00" font-size="8.2" fill="#222" text-anchor="end" >2</text>
<line x1="555.80" y1="256.80" x2="558.80" y2="256.80" stroke="#a8a8a8" stroke-width="1" />
<text x="555.40" y="259.70" font-size="8.2" fill="#222" text-anchor="end" >4</text>
<line x1="555.80" y1="214.50" x2="558.80" y2="214.50" stroke="#a8a8a8" stroke-width="1" />
<text x="555.40" y="217.40" font-size="8.2" fill="#222" text-anchor="end" >6</text>
<line x1="555.80" y1="172.20" x2="558.80" y2="172.20" stroke="#a8a8a8" stroke-width="1" />
<text x="555.40" y="175.10" font-size="8.2" fill="#222" text-anchor="end" >8</text>
<line x1="557.00" y1="320.25" x2="558.80" y2="320.25" stroke="#a8a8a8" stroke-width="0.9" />
<line x1="557.00" y1="277.95" x2="558.80" y2="277.95" stroke="#a8a8a8" stroke-width="0.9" />
<line x1="557.00" y1="235.65" x2="558.80" y2="235.65" stroke="#a8a8a8" stroke-width="0.9" />
<line x1="557.00" y1="193.35" x2="558.80" y2="193.35" stroke="#a8a8a8" stroke-width="0.9" />
<rect x="569.60" y="327.40" width="19.80" height="14.00" fill="#fff" stroke="#3a3ab4" stroke-width="1"/>
<rect x="617.30" y="327.30" width="20.40" height="14.10" fill="#fff" stroke="#ff9c45" stroke-width="1"/>
<rect x="592.20" y="269.00" width="19.60" height="72.40" fill="#00007f" stroke="none" stroke-width="1" />
<rect x="640.60" y="305.00" width="19.50" height="36.40" fill="#ff8000" stroke="none" stroke-width="1" />
<line x1="579.30" y1="327.40" x2="579.30" y2="319.60" stroke="#3a3ab4" stroke-width="1" />
<line x1="576.70" y1="319.60" x2="581.90" y2="319.60" stroke="#3a3ab4" stroke-width="1" />
<line x1="601.90" y1="269.00" x2="601.90" y2="229.10" stroke="#5a5ae0" stroke-width="1" />
<line x1="599.30" y1="229.10" x2="604.50" y2="229.10" stroke="#5a5ae0" stroke-width="1" />
<line x1="627.50" y1="327.30" x2="627.50" y2="321.00" stroke="#ffb066" stroke-width="1" />
<line x1="624.90" y1="321.00" x2="630.10" y2="321.00" stroke="#ffb066" stroke-width="1" />
<line x1="650.40" y1="305.00" x2="650.40" y2="296.80" stroke="#ffb066" stroke-width="1" />
<line x1="647.80" y1="296.80" x2="653.00" y2="296.80" stroke="#ffb066" stroke-width="1" />
<line x1="556.00" y1="341.40" x2="671.00" y2="341.40" stroke="#444" stroke-width="1.0" />
<rect x="569.10" y="324.90" width="3.80" height="3.80" fill="none" stroke="#3a3ab4" stroke-width="0.9" />
<rect x="577.10" y="312.60" width="3.80" height="3.80" fill="none" stroke="#3a3ab4" stroke-width="0.9" />
<rect x="577.10" y="327.30" width="3.80" height="3.80" fill="none" stroke="#3a3ab4" stroke-width="0.9" />
<rect x="585.60" y="322.60" width="3.80" height="3.80" fill="none" stroke="#3a3ab4" stroke-width="0.9" />
<rect x="585.60" y="326.80" width="3.80" height="3.80" fill="none" stroke="#3a3ab4" stroke-width="0.9" />
<rect x="577.10" y="335.70" width="3.80" height="3.80" fill="none" stroke="#3a3ab4" stroke-width="0.9" />
<rect x="617.20" y="321.10" width="3.80" height="3.80" fill="none" stroke="#ff9c45" stroke-width="0.9" />
<rect x="625.40" y="322.00" width="3.80" height="3.80" fill="none" stroke="#ff9c45" stroke-width="0.9" />
<rect x="625.40" y="324.90" width="3.80" height="3.80" fill="none" stroke="#ff9c45" stroke-width="0.9" />
<rect x="633.90" y="321.70" width="3.80" height="3.80" fill="none" stroke="#ff9c45" stroke-width="0.9" />
<rect x="621.20" y="330.90" width="3.80" height="3.80" fill="none" stroke="#ff9c45" stroke-width="0.9" />
<rect x="629.80" y="330.00" width="3.80" height="3.80" fill="none" stroke="#ff9c45" stroke-width="0.9" />
<line x1="601.90" y1="198.20" x2="650.40" y2="301.20" stroke="#555" stroke-width="0.6" />
<line x1="601.90" y1="258.30" x2="650.40" y2="290.80" stroke="#555" stroke-width="0.6" />
<line x1="605.50" y1="270.90" x2="646.60" y2="306.50" stroke="#555" stroke-width="0.6" />
<line x1="598.50" y1="272.40" x2="654.20" y2="305.90" stroke="#555" stroke-width="0.6" />
<line x1="598.50" y1="306.30" x2="654.20" y2="309.70" stroke="#555" stroke-width="0.6" />
<line x1="605.50" y1="305.40" x2="650.40" y2="314.00" stroke="#555" stroke-width="0.6" />
<rect x="599.90" y="196.20" width="4.00" height="4.00" fill="#5b5bf2" stroke="#3030c8" stroke-width="0.7" />
<rect x="599.90" y="256.30" width="4.00" height="4.00" fill="#5b5bf2" stroke="#3030c8" stroke-width="0.7" />
<rect x="596.50" y="270.40" width="4.00" height="4.00" fill="#5b5bf2" stroke="#3030c8" stroke-width="0.7" />
<rect x="603.50" y="268.90" width="4.00" height="4.00" fill="#5b5bf2" stroke="#3030c8" stroke-width="0.7" />
<rect x="596.50" y="304.30" width="4.00" height="4.00" fill="#5b5bf2" stroke="#3030c8" stroke-width="0.7" />
<rect x="603.50" y="303.40" width="4.00" height="4.00" fill="#5b5bf2" stroke="#3030c8" stroke-width="0.7" />
<rect x="648.50" y="288.90" width="3.80" height="3.80" fill="#f88a22" stroke="#1a1000" stroke-width="0.9" />
<rect x="648.50" y="299.30" width="3.80" height="3.80" fill="#f88a22" stroke="#1a1000" stroke-width="0.9" />
<rect x="644.70" y="304.60" width="3.80" height="3.80" fill="#f88a22" stroke="#1a1000" stroke-width="0.9" />
<rect x="652.30" y="304.00" width="3.80" height="3.80" fill="#f88a22" stroke="#1a1000" stroke-width="0.9" />
<rect x="652.30" y="307.80" width="3.80" height="3.80" fill="#f88a22" stroke="#1a1000" stroke-width="0.9" />
<rect x="648.50" y="312.10" width="3.80" height="3.80" fill="#f88a22" stroke="#1a1000" stroke-width="0.9" />
<polyline points="571.20,193.80 571.20,189.40 599.60,189.40 599.60,193.80" fill="none" stroke="#444" stroke-width="1"/>
<polyline points="602.30,193.40 602.30,189.40 649.30,189.40 649.30,193.40" fill="none" stroke="#444" stroke-width="1"/>
<polyline points="622.20,269.40 622.20,265.50 650.60,265.50 650.60,269.40" fill="none" stroke="#444" stroke-width="1"/>
<text x="587.35" y="190.10" font-size="15.8" font-weight="bold" fill="#111" text-anchor="middle" letter-spacing="1">***</text>
<text x="625.90" y="190.10" font-size="15.8" font-weight="bold" fill="#111" text-anchor="middle" letter-spacing="1">**</text>
<text x="636.80" y="259.30" font-size="10" fill="#222" text-anchor="middle" >ns</text>
<line x1="566.60" y1="345.50" x2="607.00" y2="345.50" stroke="#111" stroke-width="1.1" />
<line x1="615.40" y1="345.50" x2="656.30" y2="345.50" stroke="#ff8436" stroke-width="1.1" />
<text x="584.80" y="355.00" font-size="7.9" fill="#222" text-anchor="middle" >saline</text>
<text x="633.85" y="355.00" font-size="7.9" fill="#f8701c" text-anchor="middle" >L-NAME</text>
<text transform="translate(575.00,362.50) rotate(-45)" font-size="8.09" fill="#1a1a1a" text-anchor="end">Pre CNO</text>
<text transform="translate(596.40,363.50) rotate(-45)" font-size="8.09" fill="#1a1a1a" text-anchor="end">Post CNO</text>
<text transform="translate(629.90,362.50) rotate(-45)" font-size="8.09" fill="#1a1a1a" text-anchor="end">Pre CNO</text>
<text transform="translate(651.10,363.50) rotate(-45)" font-size="8.09" fill="#1a1a1a" text-anchor="end">Post CNO</text>
<text transform="translate(538.40,257.10) rotate(-90)" font-size="8.8" fill="#222" text-anchor="middle">Mean LH (ng/mL)</text>
<text x="502.90" y="178.80" font-size="10.8" font-weight="bold" fill="#111" text-anchor="start" >E</text>
<line x1="382.20" y1="400.10" x2="382.20" y2="582.40" stroke="#666" stroke-width="1.1" />
<line x1="379.20" y1="581.90" x2="382.20" y2="581.90" stroke="#666" stroke-width="1" />
<text x="378.80" y="584.80" font-size="8.4" fill="#222" text-anchor="end" >0</text>
<line x1="379.20" y1="536.52" x2="382.20" y2="536.52" stroke="#666" stroke-width="1" />
<text x="378.80" y="539.42" font-size="8.4" fill="#222" text-anchor="end" >1</text>
<line x1="379.20" y1="491.15" x2="382.20" y2="491.15" stroke="#666" stroke-width="1" />
<text x="378.80" y="494.05" font-size="8.4" fill="#222" text-anchor="end" >2</text>
<line x1="379.20" y1="445.77" x2="382.20" y2="445.77" stroke="#666" stroke-width="1" />
<text x="378.80" y="448.67" font-size="8.4" fill="#222" text-anchor="end" >3</text>
<line x1="379.20" y1="400.40" x2="382.20" y2="400.40" stroke="#666" stroke-width="1" />
<text x="378.80" y="403.30" font-size="8.4" fill="#222" text-anchor="end" >4</text>
<line x1="380.40" y1="559.21" x2="382.20" y2="559.21" stroke="#666" stroke-width="0.9" />
<line x1="380.40" y1="513.84" x2="382.20" y2="513.84" stroke="#666" stroke-width="0.9" />
<line x1="380.40" y1="468.46" x2="382.20" y2="468.46" stroke="#666" stroke-width="0.9" />
<line x1="380.40" y1="423.09" x2="382.20" y2="423.09" stroke="#666" stroke-width="0.9" />
<rect x="393.50" y="558.40" width="21.40" height="23.50" fill="#fff" stroke="#3a3ab4" stroke-width="1"/>
<rect x="444.90" y="562.40" width="21.40" height="19.50" fill="#fff" stroke="#ff9c45" stroke-width="1"/>
<rect x="418.00" y="510.20" width="21.00" height="71.70" fill="#00007f" stroke="none" stroke-width="1" />
<rect x="469.50" y="521.20" width="21.40" height="60.70" fill="#ff8000" stroke="none" stroke-width="1" />
<line x1="404.00" y1="558.40" x2="404.00" y2="540.00" stroke="#3a3ab4" stroke-width="1" />
<line x1="401.40" y1="540.00" x2="406.60" y2="540.00" stroke="#3a3ab4" stroke-width="1" />
<line x1="428.50" y1="510.20" x2="428.50" y2="471.60" stroke="#3a3ac8" stroke-width="1" />
<line x1="425.90" y1="471.60" x2="431.10" y2="471.60" stroke="#3a3ac8" stroke-width="1" />
<line x1="455.40" y1="562.40" x2="455.40" y2="545.20" stroke="#ffb066" stroke-width="1" />
<line x1="452.80" y1="545.20" x2="458.00" y2="545.20" stroke="#ffb066" stroke-width="1" />
<line x1="479.80" y1="521.20" x2="479.80" y2="504.80" stroke="#ffb066" stroke-width="1" />
<line x1="477.20" y1="504.80" x2="482.40" y2="504.80" stroke="#ffb066" stroke-width="1" />
<line x1="379.00" y1="581.90" x2="502.00" y2="581.90" stroke="#a8a8a8" stroke-width="1.4" />
<rect x="402.10" y="540.10" width="3.80" height="3.80" fill="none" stroke="#3a3ab4" stroke-width="0.9" />
<rect x="402.10" y="547.10" width="3.80" height="3.80" fill="none" stroke="#3a3ab4" stroke-width="0.9" />
<rect x="402.10" y="552.30" width="3.80" height="3.80" fill="none" stroke="#3a3ab4" stroke-width="0.9" />
<rect x="397.90" y="558.60" width="3.80" height="3.80" fill="none" stroke="#3a3ab4" stroke-width="0.9" />
<rect x="405.60" y="562.10" width="3.80" height="3.80" fill="none" stroke="#3a3ab4" stroke-width="0.9" />
<rect x="402.10" y="577.50" width="3.80" height="3.80" fill="none" stroke="#3a3ab4" stroke-width="0.9" />
<rect x="453.50" y="545.30" width="3.80" height="3.80" fill="none" stroke="#ff9c45" stroke-width="0.9" />
<rect x="453.50" y="549.50" width="3.80" height="3.80" fill="none" stroke="#ff9c45" stroke-width="0.9" />
<rect x="453.50" y="560.10" width="3.80" height="3.80" fill="none" stroke="#ff9c45" stroke-width="0.9" />
<rect x="449.30" y="565.30" width="3.80" height="3.80" fill="none" stroke="#ff9c45" stroke-width="0.9" />
<rect x="457.70" y="568.40" width="3.80" height="3.80" fill="none" stroke="#ff9c45" stroke-width="0.9" />
<rect x="449.70" y="571.20" width="3.80" height="3.80" fill="none" stroke="#ff9c45" stroke-width="0.9" />
<line x1="428.50" y1="448.70" x2="479.80" y2="523.40" stroke="#555" stroke-width="0.6" />
<line x1="428.50" y1="483.50" x2="471.30" y2="523.40" stroke="#555" stroke-width="0.6" />
<line x1="432.20" y1="516.50" x2="479.80" y2="489.60" stroke="#555" stroke-width="0.6" />
<line x1="424.40" y1="518.50" x2="488.90" y2="525.20" stroke="#555" stroke-width="0.6" />
<line x1="428.50" y1="542.00" x2="479.80" y2="529.50" stroke="#555" stroke-width="0.6" />
<line x1="428.50" y1="550.40" x2="479.80" y2="536.20" stroke="#555" stroke-width="0.6" />
<rect x="426.50" y="446.70" width="4.00" height="4.00" fill="#5b5bf2" stroke="#3030c8" stroke-width="0.7" />
<rect x="426.50" y="481.50" width="4.00" height="4.00" fill="#5b5bf2" stroke="#3030c8" stroke-width="0.7" />
<rect x="422.40" y="516.50" width="4.00" height="4.00" fill="#5b5bf2" stroke="#3030c8" stroke-width="0.7" />
<rect x="430.20" y="514.50" width="4.00" height="4.00" fill="#5b5bf2" stroke="#3030c8" stroke-width="0.7" />
<rect x="426.50" y="540.00" width="4.00" height="4.00" fill="#5b5bf2" stroke="#3030c8" stroke-width="0.7" />
<rect x="426.50" y="548.40" width="4.00" height="4.00" fill="#5b5bf2" stroke="#3030c8" stroke-width="0.7" />
<rect x="477.90" y="487.70" width="3.80" height="3.80" fill="#f88a22" stroke="#1a1000" stroke-width="0.9" />
<rect x="469.40" y="521.50" width="3.80" height="3.80" fill="#f88a22" stroke="#1a1000" stroke-width="0.9" />
<rect x="477.90" y="521.50" width="3.80" height="3.80" fill="#f88a22" stroke="#1a1000" stroke-width="0.9" />
<rect x="487.00" y="523.30" width="3.80" height="3.80" fill="#f88a22" stroke="#1a1000" stroke-width="0.9" />
<rect x="477.90" y="527.60" width="3.80" height="3.80" fill="#f88a22" stroke="#1a1000" stroke-width="0.9" />
<rect x="477.90" y="534.30" width="3.80" height="3.80" fill="#f88a22" stroke="#1a1000" stroke-width="0.9" />
<polyline points="399.50,437.60 399.50,434.00 427.00,434.00 427.00,437.60" fill="none" stroke="#444" stroke-width="1"/>
<polyline points="433.30,437.40 433.30,433.60 482.60,433.60 482.60,437.40" fill="none" stroke="#444" stroke-width="1"/>
<polyline points="453.20,475.40 453.20,472.10 482.60,472.10 482.60,475.40" fill="none" stroke="#444" stroke-width="1"/>
<text x="414.95" y="434.50" font-size="15.8" font-weight="bold" fill="#111" text-anchor="middle" letter-spacing="1">**</text>
<text x="467.95" y="474.90" font-size="15.8" font-weight="bold" fill="#111" text-anchor="middle" letter-spacing="1">**</text>
<text x="457.60" y="428.30" font-size="10" fill="#222" text-anchor="middle" >ns</text>
<line x1="392.20" y1="586.70" x2="435.70" y2="586.70" stroke="#222" stroke-width="1.5" />
<line x1="445.00" y1="586.70" x2="488.30" y2="586.70" stroke="#ff8436" stroke-width="1.5" />
<text x="411.95" y="597.20" font-size="8.3" fill="#222" text-anchor="middle" >saline</text>
<text x="464.65" y="597.20" font-size="8.3" fill="#f8701c" text-anchor="middle" >L-NAME</text>
<text transform="translate(401.90,605.60) rotate(-45)" font-size="8.61" fill="#1a1a1a" text-anchor="end">Pre CNO</text>
<text transform="translate(424.00,605.30) rotate(-45)" font-size="8.61" fill="#1a1a1a" text-anchor="end">Post CNO</text>
<text transform="translate(460.00,605.60) rotate(-45)" font-size="8.61" fill="#1a1a1a" text-anchor="end">Pre CNO</text>
<text transform="translate(482.20,605.30) rotate(-45)" font-size="8.61" fill="#1a1a1a" text-anchor="end">Post CNO</text>
<text transform="translate(359.30,490.90) rotate(-90)" font-size="9.4" fill="#222" text-anchor="middle">Baseline LH (ng/mL)</text>
<text x="336.20" y="403.30" font-size="10.8" font-weight="bold" fill="#111" text-anchor="start" >F</text>
<line x1="559.30" y1="398.20" x2="559.30" y2="580.80" stroke="#666" stroke-width="1.1" />
<line x1="556.30" y1="580.30" x2="559.30" y2="580.30" stroke="#666" stroke-width="1" />
<text x="555.90" y="583.20" font-size="8.4" fill="#222" text-anchor="end" >0</text>
<line x1="556.30" y1="554.33" x2="559.30" y2="554.33" stroke="#666" stroke-width="1" />
<text x="555.90" y="557.23" font-size="8.4" fill="#222" text-anchor="end" >2</text>
<line x1="556.30" y1="528.36" x2="559.30" y2="528.36" stroke="#666" stroke-width="1" />
<text x="555.90" y="531.26" font-size="8.4" fill="#222" text-anchor="end" >4</text>
<line x1="556.30" y1="502.39" x2="559.30" y2="502.39" stroke="#666" stroke-width="1" />
<text x="555.90" y="505.29" font-size="8.4" fill="#222" text-anchor="end" >6</text>
<line x1="556.30" y1="476.41" x2="559.30" y2="476.41" stroke="#666" stroke-width="1" />
<text x="555.90" y="479.31" font-size="8.4" fill="#222" text-anchor="end" >8</text>
<line x1="556.30" y1="450.44" x2="559.30" y2="450.44" stroke="#666" stroke-width="1" />
<text x="555.90" y="453.34" font-size="8.4" fill="#222" text-anchor="end" >10</text>
<line x1="556.30" y1="424.47" x2="559.30" y2="424.47" stroke="#666" stroke-width="1" />
<text x="555.90" y="427.37" font-size="8.4" fill="#222" text-anchor="end" >12</text>
<line x1="556.30" y1="398.50" x2="559.30" y2="398.50" stroke="#666" stroke-width="1" />
<text x="555.90" y="401.40" font-size="8.4" fill="#222" text-anchor="end" >14</text>
<line x1="557.50" y1="567.31" x2="559.30" y2="567.31" stroke="#666" stroke-width="0.9" />
<line x1="557.50" y1="541.34" x2="559.30" y2="541.34" stroke="#666" stroke-width="0.9" />
<line x1="557.50" y1="515.37" x2="559.30" y2="515.37" stroke="#666" stroke-width="0.9" />
<line x1="557.50" y1="489.40" x2="559.30" y2="489.40" stroke="#666" stroke-width="0.9" />
<line x1="557.50" y1="463.43" x2="559.30" y2="463.43" stroke="#666" stroke-width="0.9" />
<line x1="557.50" y1="437.46" x2="559.30" y2="437.46" stroke="#666" stroke-width="0.9" />
<line x1="557.50" y1="411.49" x2="559.30" y2="411.49" stroke="#666" stroke-width="0.9" />
<rect x="570.10" y="567.20" width="21.60" height="13.10" fill="#fff" stroke="#3a3ab4" stroke-width="1"/>
<rect x="621.80" y="567.20" width="21.80" height="13.10" fill="#fff" stroke="#ff9c45" stroke-width="1"/>
<rect x="595.10" y="510.20" width="20.80" height="70.10" fill="#00007f" stroke="none" stroke-width="1" />
<rect x="646.80" y="551.40" width="21.20" height="28.90" fill="#ff8000" stroke="none" stroke-width="1" />
<line x1="580.80" y1="567.20" x2="580.80" y2="559.40" stroke="#3a3ab4" stroke-width="1" />
<line x1="578.20" y1="559.40" x2="583.40" y2="559.40" stroke="#3a3ab4" stroke-width="1" />
<line x1="605.50" y1="510.20" x2="605.50" y2="463.90" stroke="#3a3ac8" stroke-width="1" />
<line x1="602.90" y1="463.90" x2="608.10" y2="463.90" stroke="#3a3ac8" stroke-width="1" />
<line x1="632.70" y1="567.20" x2="632.70" y2="559.40" stroke="#ffb066" stroke-width="1" />
<line x1="630.10" y1="559.40" x2="635.30" y2="559.40" stroke="#ffb066" stroke-width="1" />
<line x1="657.40" y1="551.40" x2="657.40" y2="545.10" stroke="#ffb066" stroke-width="1" />
<line x1="654.80" y1="545.10" x2="660.00" y2="545.10" stroke="#ffb066" stroke-width="1" />
<line x1="557.00" y1="580.30" x2="679.00" y2="580.30" stroke="#555" stroke-width="1.1" />
<rect x="578.90" y="550.20" width="3.80" height="3.80" fill="none" stroke="#3a3ab4" stroke-width="0.9" />
<rect x="569.90" y="565.60" width="3.80" height="3.80" fill="none" stroke="#3a3ab4" stroke-width="0.9" />
<rect x="575.80" y="566.40" width="3.80" height="3.80" fill="none" stroke="#3a3ab4" stroke-width="0.9" />
<rect x="582.50" y="566.40" width="3.80" height="3.80" fill="none" stroke="#3a3ab4" stroke-width="0.9" />
<rect x="587.30" y="567.60" width="3.80" height="3.80" fill="none" stroke="#3a3ab4" stroke-width="0.9" />
<rect x="578.90" y="574.10" width="3.80" height="3.80" fill="none" stroke="#3a3ab4" stroke-width="0.9" />
<rect x="630.80" y="550.60" width="3.80" height="3.80" fill="none" stroke="#ff9c45" stroke-width="0.9" />
<rect x="621.80" y="562.10" width="3.80" height="3.80" fill="none" stroke="#ff9c45" stroke-width="0.9" />
<rect x="639.60" y="565.30" width="3.80" height="3.80" fill="none" stroke="#ff9c45" stroke-width="0.9" />
<rect x="630.80" y="568.40" width="3.80" height="3.80" fill="none" stroke="#ff9c45" stroke-width="0.9" />
<rect x="621.80" y="571.00" width="3.80" height="3.80" fill="none" stroke="#ff9c45" stroke-width="0.9" />
<rect x="639.60" y="570.60" width="3.80" height="3.80" fill="none" stroke="#ff9c45" stroke-width="0.9" />
<line x1="605.50" y1="429.80" x2="648.40" y2="552.90" stroke="#555" stroke-width="0.6" />
<line x1="605.50" y1="486.70" x2="661.50" y2="542.60" stroke="#555" stroke-width="0.6" />
<line x1="609.60" y1="519.50" x2="652.20" y2="544.70" stroke="#555" stroke-width="0.6" />
<line x1="601.60" y1="522.00" x2="657.30" y2="554.60" stroke="#555" stroke-width="0.6" />
<line x1="605.40" y1="548.90" x2="648.40" y2="557.70" stroke="#555" stroke-width="0.6" />
<line x1="605.40" y1="553.10" x2="666.30" y2="556.30" stroke="#555" stroke-width="0.6" />
<rect x="603.50" y="427.80" width="4.00" height="4.00" fill="#5b5bf2" stroke="#3030c8" stroke-width="0.7" />
<rect x="603.50" y="484.70" width="4.00" height="4.00" fill="#5b5bf2" stroke="#3030c8" stroke-width="0.7" />
<rect x="599.60" y="520.00" width="4.00" height="4.00" fill="#5b5bf2" stroke="#3030c8" stroke-width="0.7" />
<rect x="607.60" y="517.50" width="4.00" height="4.00" fill="#5b5bf2" stroke="#3030c8" stroke-width="0.7" />
<rect x="603.40" y="546.90" width="4.00" height="4.00" fill="#5b5bf2" stroke="#3030c8" stroke-width="0.7" />
<rect x="603.40" y="551.10" width="4.00" height="4.00" fill="#5b5bf2" stroke="#3030c8" stroke-width="0.7" />
<rect x="650.30" y="542.80" width="3.80" height="3.80" fill="#f88a22" stroke="#1a1000" stroke-width="0.9" />
<rect x="659.60" y="540.70" width="3.80" height="3.80" fill="#f88a22" stroke="#1a1000" stroke-width="0.9" />
<rect x="646.50" y="551.00" width="3.80" height="3.80" fill="#f88a22" stroke="#1a1000" stroke-width="0.9" />
<rect x="655.40" y="552.70" width="3.80" height="3.80" fill="#f88a22" stroke="#1a1000" stroke-width="0.9" />
<rect x="664.40" y="554.40" width="3.80" height="3.80" fill="#f88a22" stroke="#1a1000" stroke-width="0.9" />
<rect x="646.50" y="555.80" width="3.80" height="3.80" fill="#f88a22" stroke="#1a1000" stroke-width="0.9" />
<polyline points="576.50,421.00 576.50,418.00 598.50,418.00 598.50,421.00" fill="none" stroke="#444" stroke-width="1"/>
<polyline points="608.40,421.30 608.40,418.20 657.40,418.20 657.40,421.30" fill="none" stroke="#444" stroke-width="1"/>
<polyline points="630.20,524.10 630.20,520.40 660.00,520.40 660.00,524.10" fill="none" stroke="#444" stroke-width="1"/>
<text x="588.90" y="418.90" font-size="15.8" font-weight="bold" fill="#111" text-anchor="middle" letter-spacing="1">**</text>
<text x="634.05" y="418.80" font-size="15.8" font-weight="bold" fill="#111" text-anchor="middle" letter-spacing="1">**</text>
<text x="645.30" y="516.50" font-size="10" fill="#222" text-anchor="middle" >ns</text>
<line x1="566.60" y1="587.00" x2="610.10" y2="587.00" stroke="#666" stroke-width="1.5" />
<line x1="619.20" y1="587.00" x2="662.50" y2="587.00" stroke="#ff8436" stroke-width="1.5" />
<text x="586.35" y="597.50" font-size="8.4" fill="#222" text-anchor="middle" >saline</text>
<text x="638.85" y="597.50" font-size="8.4" fill="#f8701c" text-anchor="middle" >L-NAME</text>
<text transform="translate(576.20,605.60) rotate(-45)" font-size="8.61" fill="#1a1a1a" text-anchor="end">Pre CNO</text>
<text transform="translate(598.40,605.30) rotate(-45)" font-size="8.61" fill="#1a1a1a" text-anchor="end">Post CNO</text>
<text transform="translate(634.00,605.60) rotate(-45)" font-size="8.61" fill="#1a1a1a" text-anchor="end">Pre CNO</text>
<text transform="translate(657.00,605.30) rotate(-45)" font-size="8.61" fill="#1a1a1a" text-anchor="end">Post CNO</text>
<text transform="translate(531.80,489.40) rotate(-90)" font-size="9.4" fill="#222" text-anchor="middle">Peak LH (ng/mL)</text>
<text x="507.20" y="403.50" font-size="10.8" font-weight="bold" fill="#111" text-anchor="start" >G</text>
</svg>
</body></html>
